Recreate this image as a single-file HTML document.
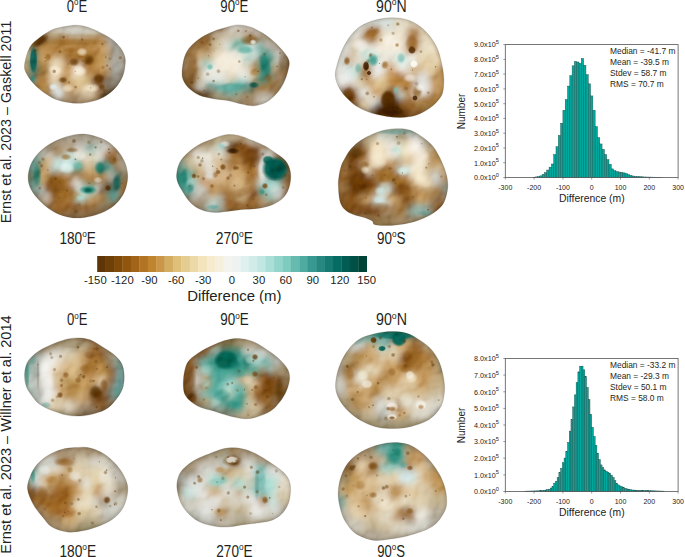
<!DOCTYPE html><html><head><meta charset="utf-8"><style>html,body{margin:0;padding:0;background:#fff;}svg{display:block}</style></head><body>
<svg width="685" height="557" viewBox="0 0 685 557">
<defs><filter id="b1" x="-50%" y="-50%" width="200%" height="200%"><feGaussianBlur stdDeviation="0.8"/></filter><filter id="b2" x="-50%" y="-50%" width="200%" height="200%"><feGaussianBlur stdDeviation="1.6"/></filter><filter id="b3" x="-50%" y="-50%" width="200%" height="200%"><feGaussianBlur stdDeviation="2.4"/></filter><filter id="b4" x="-50%" y="-50%" width="200%" height="200%"><feGaussianBlur stdDeviation="3.2"/></filter><filter id="b5" x="-50%" y="-50%" width="200%" height="200%"><feGaussianBlur stdDeviation="4.0"/></filter><filter id="b6" x="-50%" y="-50%" width="200%" height="200%"><feGaussianBlur stdDeviation="4.8"/></filter><filter id="b7" x="-50%" y="-50%" width="200%" height="200%"><feGaussianBlur stdDeviation="5.6"/></filter><filter id="b8" x="-50%" y="-50%" width="200%" height="200%"><feGaussianBlur stdDeviation="6.4"/></filter><filter id="bump" x="0" y="0" width="100%" height="100%" filterUnits="objectBoundingBox" color-interpolation-filters="sRGB"><feTurbulence type="fractalNoise" baseFrequency="0.08" numOctaves="2" seed="5" result="n"/><feDiffuseLighting in="n" surfaceScale="3" diffuseConstant="1.1" lighting-color="#8c8c8c"><feDistantLight azimuth="225" elevation="55"/></feDiffuseLighting></filter><filter id="nzD" x="0" y="0" width="100%" height="100%" filterUnits="objectBoundingBox"><feTurbulence type="fractalNoise" baseFrequency="0.2" numOctaves="1" seed="7"/><feColorMatrix type="matrix" values="0 0 0 0 0.50  0 0 0 0 0.32  0 0 0 0 0.10  7 0 0 0 -4.0"/></filter><filter id="nzL" x="0" y="0" width="100%" height="100%" filterUnits="objectBoundingBox"><feTurbulence type="fractalNoise" baseFrequency="0.1" numOctaves="3" seed="23"/><feColorMatrix type="matrix" values="0 0 0 0 0.97  0 0 0 0 0.95  0 0 0 0 0.90  4 0 0 0 -2.0"/></filter><filter id="enh" color-interpolation-filters="sRGB"><feColorMatrix type="saturate" values="0.95"/><feComponentTransfer><feFuncR type="linear" slope="1.12" intercept="-0.072"/><feFuncG type="linear" slope="1.12" intercept="-0.072"/><feFuncB type="linear" slope="1.12" intercept="-0.072"/></feComponentTransfer></filter><clipPath id="c0"><path d="M24.5,65.2 C24.9,60.6 27.2,52.1 29.7,47.5 C32.2,42.9 35.6,40.8 39.4,37.8 C43.2,34.8 48.0,31.6 52.3,29.7 C56.6,27.8 61.2,27.2 65.2,26.5 C69.2,25.8 72.7,25.1 76.5,25.2 C80.3,25.3 83.9,26.0 87.9,27.3 C92.0,28.6 96.8,30.9 100.8,32.9 C104.8,34.9 108.9,37.0 112.1,39.4 C115.3,41.8 118.0,44.5 120.2,47.5 C122.4,50.5 124.2,53.7 125.0,57.2 C125.8,60.7 125.2,65.0 124.7,68.5 C124.2,72.0 123.4,75.0 121.8,78.2 C120.2,81.4 118.0,85.0 115.3,87.9 C112.6,90.9 109.1,93.8 105.6,95.9 C102.1,98.1 98.3,99.6 94.3,100.8 C90.3,102.0 85.7,102.9 81.4,103.2 C77.1,103.5 72.8,103.1 68.5,102.4 C64.2,101.7 59.5,100.8 55.5,99.2 C51.5,97.6 47.7,95.1 44.2,92.7 C40.7,90.3 37.3,87.6 34.5,84.6 C31.7,81.6 29.0,78.1 27.3,74.9 C25.6,71.7 24.1,69.8 24.5,65.2Z"/></clipPath><filter id="gb0" x="-20%" y="-20%" width="140%" height="140%"><feTurbulence type="fractalNoise" baseFrequency="0.060" numOctaves="1" seed="3" result="t"/><feDisplacementMap in="SourceGraphic" in2="t" scale="18.0" xChannelSelector="R" yChannelSelector="G" result="d"/><feGaussianBlur in="d" stdDeviation="3.6"/></filter><radialGradient id="g0"><stop offset="0" stop-color="#16685e" stop-opacity="1"/><stop offset="0.65" stop-color="#16685e" stop-opacity="0.95"/><stop offset="1" stop-color="#16685e" stop-opacity="0"/></radialGradient><radialGradient id="g1"><stop offset="0" stop-color="#3a9a8c" stop-opacity="1"/><stop offset="0.45" stop-color="#3a9a8c" stop-opacity="0.85"/><stop offset="1" stop-color="#3a9a8c" stop-opacity="0"/></radialGradient><radialGradient id="g2"><stop offset="0" stop-color="#5a3810" stop-opacity="1"/><stop offset="0.45" stop-color="#5a3810" stop-opacity="0.85"/><stop offset="1" stop-color="#5a3810" stop-opacity="0"/></radialGradient><radialGradient id="g3"><stop offset="0" stop-color="#9a6a28" stop-opacity="1"/><stop offset="0.45" stop-color="#9a6a28" stop-opacity="0.85"/><stop offset="1" stop-color="#9a6a28" stop-opacity="0"/></radialGradient><radialGradient id="g4"><stop offset="0" stop-color="#6e4512" stop-opacity="1"/><stop offset="0.45" stop-color="#6e4512" stop-opacity="0.85"/><stop offset="1" stop-color="#6e4512" stop-opacity="0"/></radialGradient><radialGradient id="g5"><stop offset="0" stop-color="#f2e8d4" stop-opacity="1"/><stop offset="0.45" stop-color="#f2e8d4" stop-opacity="0.85"/><stop offset="1" stop-color="#f2e8d4" stop-opacity="0"/></radialGradient><radialGradient id="g6"><stop offset="0" stop-color="#dce8ea" stop-opacity="1"/><stop offset="0.45" stop-color="#dce8ea" stop-opacity="0.85"/><stop offset="1" stop-color="#dce8ea" stop-opacity="0"/></radialGradient><radialGradient id="g7"><stop offset="0" stop-color="#a8a8a0" stop-opacity="1"/><stop offset="0.45" stop-color="#a8a8a0" stop-opacity="0.85"/><stop offset="1" stop-color="#a8a8a0" stop-opacity="0"/></radialGradient><radialGradient id="g8"><stop offset="0" stop-color="#d0d0c8" stop-opacity="1"/><stop offset="0.45" stop-color="#d0d0c8" stop-opacity="0.85"/><stop offset="1" stop-color="#d0d0c8" stop-opacity="0"/></radialGradient><radialGradient id="g9"><stop offset="0" stop-color="#5a4a30" stop-opacity="1"/><stop offset="0.45" stop-color="#5a4a30" stop-opacity="0.85"/><stop offset="1" stop-color="#5a4a30" stop-opacity="0"/></radialGradient><radialGradient id="g10"><stop offset="0" stop-color="#6a4414" stop-opacity="1"/><stop offset="0.45" stop-color="#6a4414" stop-opacity="0.85"/><stop offset="1" stop-color="#6a4414" stop-opacity="0"/></radialGradient><clipPath id="c1"><path d="M182.0,72.6 C182.1,68.5 183.1,61.2 184.6,56.8 C186.1,52.4 188.0,49.5 190.8,46.3 C193.6,43.1 197.5,40.0 201.3,37.5 C205.1,35.0 209.1,33.1 213.5,31.4 C217.9,29.6 223.5,28.1 227.6,27.0 C231.7,25.9 234.2,24.9 238.0,24.9 C241.8,24.9 246.2,25.6 250.3,27.0 C254.4,28.4 258.8,30.8 262.6,33.1 C266.4,35.4 269.9,38.2 273.1,41.0 C276.3,43.8 279.3,46.6 281.9,49.8 C284.5,53.0 287.9,56.8 288.9,60.3 C289.9,63.8 288.9,67.0 288.0,70.8 C287.1,74.6 285.5,79.3 283.6,83.1 C281.7,86.9 279.5,90.4 276.6,93.6 C273.7,96.8 269.9,100.3 266.1,102.3 C262.3,104.3 257.9,105.5 253.8,105.8 C249.7,106.1 246.0,105.0 241.6,104.1 C237.2,103.2 232.3,101.5 227.6,100.6 C222.9,99.7 218.2,99.7 213.5,98.8 C208.8,97.9 203.6,97.0 199.5,95.3 C195.4,93.5 191.6,90.6 189.0,88.3 C186.4,86.0 185.0,83.9 183.8,81.3 C182.6,78.7 181.9,76.7 182.0,72.6Z"/></clipPath><filter id="gb1" x="-20%" y="-20%" width="140%" height="140%"><feTurbulence type="fractalNoise" baseFrequency="0.060" numOctaves="1" seed="10" result="t"/><feDisplacementMap in="SourceGraphic" in2="t" scale="18.0" xChannelSelector="R" yChannelSelector="G" result="d"/><feGaussianBlur in="d" stdDeviation="3.6"/></filter><radialGradient id="g11"><stop offset="0" stop-color="#8a6030" stop-opacity="1"/><stop offset="0.45" stop-color="#8a6030" stop-opacity="0.85"/><stop offset="1" stop-color="#8a6030" stop-opacity="0"/></radialGradient><radialGradient id="g12"><stop offset="0" stop-color="#8a5a20" stop-opacity="1"/><stop offset="0.45" stop-color="#8a5a20" stop-opacity="0.85"/><stop offset="1" stop-color="#8a5a20" stop-opacity="0"/></radialGradient><radialGradient id="g13"><stop offset="0" stop-color="#f0f0ea" stop-opacity="1"/><stop offset="0.45" stop-color="#f0f0ea" stop-opacity="0.85"/><stop offset="1" stop-color="#f0f0ea" stop-opacity="0"/></radialGradient><radialGradient id="g14"><stop offset="0" stop-color="#6a4820" stop-opacity="1"/><stop offset="0.45" stop-color="#6a4820" stop-opacity="0.85"/><stop offset="1" stop-color="#6a4820" stop-opacity="0"/></radialGradient><radialGradient id="g15"><stop offset="0" stop-color="#8a6838" stop-opacity="1"/><stop offset="0.45" stop-color="#8a6838" stop-opacity="0.85"/><stop offset="1" stop-color="#8a6838" stop-opacity="0"/></radialGradient><radialGradient id="g16"><stop offset="0" stop-color="#8a7050" stop-opacity="1"/><stop offset="0.45" stop-color="#8a7050" stop-opacity="0.85"/><stop offset="1" stop-color="#8a7050" stop-opacity="0"/></radialGradient><radialGradient id="g17"><stop offset="0" stop-color="#eee6d6" stop-opacity="1"/><stop offset="0.45" stop-color="#eee6d6" stop-opacity="0.85"/><stop offset="1" stop-color="#eee6d6" stop-opacity="0"/></radialGradient><radialGradient id="g18"><stop offset="0" stop-color="#e8e8e2" stop-opacity="1"/><stop offset="0.45" stop-color="#e8e8e2" stop-opacity="0.85"/><stop offset="1" stop-color="#e8e8e2" stop-opacity="0"/></radialGradient><radialGradient id="g19"><stop offset="0" stop-color="#1e7e70" stop-opacity="1"/><stop offset="0.45" stop-color="#1e7e70" stop-opacity="0.85"/><stop offset="1" stop-color="#1e7e70" stop-opacity="0"/></radialGradient><radialGradient id="g20"><stop offset="0" stop-color="#5ab0a2" stop-opacity="1"/><stop offset="0.45" stop-color="#5ab0a2" stop-opacity="0.85"/><stop offset="1" stop-color="#5ab0a2" stop-opacity="0"/></radialGradient><radialGradient id="g21"><stop offset="0" stop-color="#0e5e54" stop-opacity="1"/><stop offset="0.45" stop-color="#0e5e54" stop-opacity="0.85"/><stop offset="1" stop-color="#0e5e54" stop-opacity="0"/></radialGradient><radialGradient id="g22"><stop offset="0" stop-color="#5aaca0" stop-opacity="1"/><stop offset="0.45" stop-color="#5aaca0" stop-opacity="0.85"/><stop offset="1" stop-color="#5aaca0" stop-opacity="0"/></radialGradient><radialGradient id="g23"><stop offset="0" stop-color="#6ab8ac" stop-opacity="1"/><stop offset="0.45" stop-color="#6ab8ac" stop-opacity="0.85"/><stop offset="1" stop-color="#6ab8ac" stop-opacity="0"/></radialGradient><radialGradient id="g24"><stop offset="0" stop-color="#a87838" stop-opacity="1"/><stop offset="0.45" stop-color="#a87838" stop-opacity="0.85"/><stop offset="1" stop-color="#a87838" stop-opacity="0"/></radialGradient><clipPath id="c2"><path d="M335.3,76.1 C334.9,72.0 336.2,68.2 337.4,63.7 C338.6,59.2 340.5,53.7 342.6,49.2 C344.7,44.7 346.9,40.6 349.8,36.8 C352.7,33.0 356.0,29.2 360.1,26.5 C364.2,23.8 369.4,21.8 374.6,20.3 C379.8,18.9 385.6,17.9 391.1,17.8 C396.6,17.7 402.8,18.4 407.6,19.9 C412.4,21.3 416.2,23.7 420.0,26.5 C423.8,29.3 427.4,33.0 430.3,36.8 C433.2,40.6 435.7,44.7 437.6,49.2 C439.5,53.7 440.7,58.9 441.7,63.7 C442.7,68.5 443.6,73.4 443.8,78.2 C444.0,83.0 443.7,88.8 442.7,92.6 C441.7,96.4 440.0,98.2 437.6,100.9 C435.2,103.7 431.9,106.7 428.3,109.1 C424.7,111.5 420.4,113.9 415.9,115.3 C411.4,116.7 406.2,117.2 401.4,117.4 C396.6,117.6 391.8,117.1 387.0,116.4 C382.2,115.7 377.3,114.8 372.5,113.3 C367.7,111.8 362.1,109.5 358.0,107.1 C353.9,104.7 350.8,101.9 347.7,98.8 C344.6,95.7 341.6,92.3 339.5,88.5 C337.4,84.7 335.7,80.2 335.3,76.1Z"/></clipPath><filter id="gb2" x="-20%" y="-20%" width="140%" height="140%"><feTurbulence type="fractalNoise" baseFrequency="0.060" numOctaves="1" seed="17" result="t"/><feDisplacementMap in="SourceGraphic" in2="t" scale="18.0" xChannelSelector="R" yChannelSelector="G" result="d"/><feGaussianBlur in="d" stdDeviation="3.6"/></filter><radialGradient id="g25"><stop offset="0" stop-color="#9a6a30" stop-opacity="1"/><stop offset="0.45" stop-color="#9a6a30" stop-opacity="0.85"/><stop offset="1" stop-color="#9a6a30" stop-opacity="0"/></radialGradient><radialGradient id="g26"><stop offset="0" stop-color="#5a3410" stop-opacity="1"/><stop offset="0.65" stop-color="#5a3410" stop-opacity="0.95"/><stop offset="1" stop-color="#5a3410" stop-opacity="0"/></radialGradient><radialGradient id="g27"><stop offset="0" stop-color="#4a2808" stop-opacity="1"/><stop offset="0.65" stop-color="#4a2808" stop-opacity="0.95"/><stop offset="1" stop-color="#4a2808" stop-opacity="0"/></radialGradient><radialGradient id="g28"><stop offset="0" stop-color="#a07030" stop-opacity="1"/><stop offset="0.45" stop-color="#a07030" stop-opacity="0.85"/><stop offset="1" stop-color="#a07030" stop-opacity="0"/></radialGradient><radialGradient id="g29"><stop offset="0" stop-color="#f6f4ee" stop-opacity="1"/><stop offset="0.65" stop-color="#f6f4ee" stop-opacity="0.95"/><stop offset="1" stop-color="#f6f4ee" stop-opacity="0"/></radialGradient><radialGradient id="g30"><stop offset="0" stop-color="#a07838" stop-opacity="1"/><stop offset="0.45" stop-color="#a07838" stop-opacity="0.85"/><stop offset="1" stop-color="#a07838" stop-opacity="0"/></radialGradient><radialGradient id="g31"><stop offset="0" stop-color="#6a4010" stop-opacity="1"/><stop offset="0.45" stop-color="#6a4010" stop-opacity="0.85"/><stop offset="1" stop-color="#6a4010" stop-opacity="0"/></radialGradient><radialGradient id="g32"><stop offset="0" stop-color="#5a3408" stop-opacity="1"/><stop offset="0.65" stop-color="#5a3408" stop-opacity="0.95"/><stop offset="1" stop-color="#5a3408" stop-opacity="0"/></radialGradient><radialGradient id="g33"><stop offset="0" stop-color="#4a2a06" stop-opacity="1"/><stop offset="0.65" stop-color="#4a2a06" stop-opacity="0.95"/><stop offset="1" stop-color="#4a2a06" stop-opacity="0"/></radialGradient><radialGradient id="g34"><stop offset="0" stop-color="#e8ecea" stop-opacity="1"/><stop offset="0.45" stop-color="#e8ecea" stop-opacity="0.85"/><stop offset="1" stop-color="#e8ecea" stop-opacity="0"/></radialGradient><radialGradient id="g35"><stop offset="0" stop-color="#6ab0a4" stop-opacity="1"/><stop offset="0.45" stop-color="#6ab0a4" stop-opacity="0.85"/><stop offset="1" stop-color="#6ab0a4" stop-opacity="0"/></radialGradient><radialGradient id="g36"><stop offset="0" stop-color="#70b8ac" stop-opacity="1"/><stop offset="0.45" stop-color="#70b8ac" stop-opacity="0.85"/><stop offset="1" stop-color="#70b8ac" stop-opacity="0"/></radialGradient><radialGradient id="g37"><stop offset="0" stop-color="#7ab8b0" stop-opacity="1"/><stop offset="0.45" stop-color="#7ab8b0" stop-opacity="0.85"/><stop offset="1" stop-color="#7ab8b0" stop-opacity="0"/></radialGradient><radialGradient id="g38"><stop offset="0" stop-color="#eceae4" stop-opacity="1"/><stop offset="0.45" stop-color="#eceae4" stop-opacity="0.85"/><stop offset="1" stop-color="#eceae4" stop-opacity="0"/></radialGradient><radialGradient id="g39"><stop offset="0" stop-color="#f0ece2" stop-opacity="1"/><stop offset="0.45" stop-color="#f0ece2" stop-opacity="0.85"/><stop offset="1" stop-color="#f0ece2" stop-opacity="0"/></radialGradient><radialGradient id="g40"><stop offset="0" stop-color="#e4e6e2" stop-opacity="1"/><stop offset="0.45" stop-color="#e4e6e2" stop-opacity="0.85"/><stop offset="1" stop-color="#e4e6e2" stop-opacity="0"/></radialGradient><radialGradient id="g41"><stop offset="0" stop-color="#f0eee8" stop-opacity="1"/><stop offset="0.45" stop-color="#f0eee8" stop-opacity="0.85"/><stop offset="1" stop-color="#f0eee8" stop-opacity="0"/></radialGradient><clipPath id="c3"><path d="M28.1,177.0 C28.2,173.3 29.2,168.4 30.8,164.5 C32.4,160.6 34.9,157.0 37.9,153.7 C40.9,150.4 44.8,147.2 48.7,144.7 C52.6,142.2 57.1,140.1 61.3,138.5 C65.5,136.9 69.6,135.6 73.8,134.9 C78.0,134.2 82.2,133.9 86.4,134.3 C90.6,134.8 95.1,136.2 99.0,137.6 C102.9,139.0 106.4,140.5 109.7,142.9 C113.0,145.3 116.2,148.6 118.7,151.9 C121.2,155.2 123.5,158.8 125.0,162.7 C126.5,166.6 127.5,171.0 127.7,175.2 C127.9,179.4 127.1,183.9 125.9,187.8 C124.7,191.7 122.9,195.3 120.5,198.6 C118.1,201.9 115.1,205.0 111.5,207.5 C107.9,210.0 103.5,212.2 99.0,213.8 C94.5,215.5 89.4,216.8 84.6,217.4 C79.8,218.0 75.0,218.2 70.2,217.4 C65.4,216.7 60.1,214.9 55.9,212.9 C51.7,210.9 48.4,208.4 45.1,205.7 C41.8,203.0 38.6,199.9 36.1,196.8 C33.6,193.7 31.2,190.2 29.9,186.9 C28.6,183.6 28.0,180.7 28.1,177.0Z"/></clipPath><filter id="gb3" x="-20%" y="-20%" width="140%" height="140%"><feTurbulence type="fractalNoise" baseFrequency="0.060" numOctaves="1" seed="24" result="t"/><feDisplacementMap in="SourceGraphic" in2="t" scale="18.0" xChannelSelector="R" yChannelSelector="G" result="d"/><feGaussianBlur in="d" stdDeviation="3.6"/></filter><radialGradient id="g42"><stop offset="0" stop-color="#2a8070" stop-opacity="1"/><stop offset="0.45" stop-color="#2a8070" stop-opacity="0.85"/><stop offset="1" stop-color="#2a8070" stop-opacity="0"/></radialGradient><radialGradient id="g43"><stop offset="0" stop-color="#6a9890" stop-opacity="1"/><stop offset="0.45" stop-color="#6a9890" stop-opacity="0.85"/><stop offset="1" stop-color="#6a9890" stop-opacity="0"/></radialGradient><radialGradient id="g44"><stop offset="0" stop-color="#d8ecea" stop-opacity="1"/><stop offset="0.45" stop-color="#d8ecea" stop-opacity="0.85"/><stop offset="1" stop-color="#d8ecea" stop-opacity="0"/></radialGradient><radialGradient id="g45"><stop offset="0" stop-color="#1e8474" stop-opacity="1"/><stop offset="0.45" stop-color="#1e8474" stop-opacity="0.85"/><stop offset="1" stop-color="#1e8474" stop-opacity="0"/></radialGradient><radialGradient id="g46"><stop offset="0" stop-color="#0a5a4e" stop-opacity="1"/><stop offset="0.45" stop-color="#0a5a4e" stop-opacity="0.85"/><stop offset="1" stop-color="#0a5a4e" stop-opacity="0"/></radialGradient><radialGradient id="g47"><stop offset="0" stop-color="#1a6a60" stop-opacity="1"/><stop offset="0.45" stop-color="#1a6a60" stop-opacity="0.85"/><stop offset="1" stop-color="#1a6a60" stop-opacity="0"/></radialGradient><radialGradient id="g48"><stop offset="0" stop-color="#5a3408" stop-opacity="1"/><stop offset="0.45" stop-color="#5a3408" stop-opacity="0.85"/><stop offset="1" stop-color="#5a3408" stop-opacity="0"/></radialGradient><radialGradient id="g49"><stop offset="0" stop-color="#e6e2d6" stop-opacity="1"/><stop offset="0.45" stop-color="#e6e2d6" stop-opacity="0.85"/><stop offset="1" stop-color="#e6e2d6" stop-opacity="0"/></radialGradient><radialGradient id="g50"><stop offset="0" stop-color="#e0e0d8" stop-opacity="1"/><stop offset="0.45" stop-color="#e0e0d8" stop-opacity="0.85"/><stop offset="1" stop-color="#e0e0d8" stop-opacity="0"/></radialGradient><radialGradient id="g51"><stop offset="0" stop-color="#b0d8d0" stop-opacity="1"/><stop offset="0.45" stop-color="#b0d8d0" stop-opacity="0.85"/><stop offset="1" stop-color="#b0d8d0" stop-opacity="0"/></radialGradient><clipPath id="c4"><path d="M176.6,174.3 C176.9,171.2 177.8,166.5 179.5,163.0 C181.2,159.5 183.9,156.5 187.1,153.5 C190.3,150.5 194.4,147.3 198.5,144.9 C202.6,142.5 207.4,140.9 211.8,139.2 C216.2,137.5 220.6,135.5 225.0,134.9 C229.4,134.3 233.9,134.5 238.3,135.4 C242.7,136.3 247.2,138.4 251.6,140.2 C256.0,141.9 260.8,143.7 264.9,145.9 C269.0,148.1 272.8,151.0 276.3,153.5 C279.8,156.0 283.4,157.9 285.8,161.1 C288.2,164.2 289.9,168.3 290.5,172.4 C291.1,176.5 290.7,181.6 289.6,185.7 C288.5,189.8 286.8,193.9 283.9,197.1 C281.0,200.3 276.9,202.8 272.5,204.7 C268.1,206.6 262.4,207.7 257.3,208.5 C252.2,209.3 247.2,209.0 242.1,209.5 C237.0,210.0 231.9,210.9 226.9,211.4 C221.9,211.9 216.5,212.8 211.8,212.3 C207.1,211.8 202.3,210.4 198.5,208.5 C194.7,206.6 191.8,204.1 189.0,200.9 C186.2,197.7 183.3,192.7 181.4,189.5 C179.5,186.3 178.4,184.4 177.6,181.9 C176.8,179.4 176.3,177.5 176.6,174.3Z"/></clipPath><filter id="gb4" x="-20%" y="-20%" width="140%" height="140%"><feTurbulence type="fractalNoise" baseFrequency="0.060" numOctaves="1" seed="31" result="t"/><feDisplacementMap in="SourceGraphic" in2="t" scale="18.0" xChannelSelector="R" yChannelSelector="G" result="d"/><feGaussianBlur in="d" stdDeviation="3.6"/></filter><radialGradient id="g52"><stop offset="0" stop-color="#3a2008" stop-opacity="1"/><stop offset="0.45" stop-color="#3a2008" stop-opacity="0.85"/><stop offset="1" stop-color="#3a2008" stop-opacity="0"/></radialGradient><radialGradient id="g53"><stop offset="0" stop-color="#e8ece8" stop-opacity="1"/><stop offset="0.45" stop-color="#e8ece8" stop-opacity="0.85"/><stop offset="1" stop-color="#e8ece8" stop-opacity="0"/></radialGradient><radialGradient id="g54"><stop offset="0" stop-color="#8cc8c0" stop-opacity="1"/><stop offset="0.45" stop-color="#8cc8c0" stop-opacity="0.85"/><stop offset="1" stop-color="#8cc8c0" stop-opacity="0"/></radialGradient><radialGradient id="g55"><stop offset="0" stop-color="#7a4a18" stop-opacity="1"/><stop offset="0.45" stop-color="#7a4a18" stop-opacity="0.85"/><stop offset="1" stop-color="#7a4a18" stop-opacity="0"/></radialGradient><radialGradient id="g56"><stop offset="0" stop-color="#8a5820" stop-opacity="1"/><stop offset="0.45" stop-color="#8a5820" stop-opacity="0.85"/><stop offset="1" stop-color="#8a5820" stop-opacity="0"/></radialGradient><radialGradient id="g57"><stop offset="0" stop-color="#0a6458" stop-opacity="1"/><stop offset="0.65" stop-color="#0a6458" stop-opacity="0.95"/><stop offset="1" stop-color="#0a6458" stop-opacity="0"/></radialGradient><radialGradient id="g58"><stop offset="0" stop-color="#055a4e" stop-opacity="1"/><stop offset="0.45" stop-color="#055a4e" stop-opacity="0.85"/><stop offset="1" stop-color="#055a4e" stop-opacity="0"/></radialGradient><radialGradient id="g59"><stop offset="0" stop-color="#a8d0c8" stop-opacity="1"/><stop offset="0.45" stop-color="#a8d0c8" stop-opacity="0.85"/><stop offset="1" stop-color="#a8d0c8" stop-opacity="0"/></radialGradient><radialGradient id="g60"><stop offset="0" stop-color="#7a4a14" stop-opacity="1"/><stop offset="0.45" stop-color="#7a4a14" stop-opacity="0.85"/><stop offset="1" stop-color="#7a4a14" stop-opacity="0"/></radialGradient><radialGradient id="g61"><stop offset="0" stop-color="#3a9888" stop-opacity="1"/><stop offset="0.45" stop-color="#3a9888" stop-opacity="0.85"/><stop offset="1" stop-color="#3a9888" stop-opacity="0"/></radialGradient><radialGradient id="g62"><stop offset="0" stop-color="#2a8878" stop-opacity="1"/><stop offset="0.45" stop-color="#2a8878" stop-opacity="0.85"/><stop offset="1" stop-color="#2a8878" stop-opacity="0"/></radialGradient><radialGradient id="g63"><stop offset="0" stop-color="#60a8a0" stop-opacity="1"/><stop offset="0.45" stop-color="#60a8a0" stop-opacity="0.85"/><stop offset="1" stop-color="#60a8a0" stop-opacity="0"/></radialGradient><radialGradient id="g64"><stop offset="0" stop-color="#e4e0d4" stop-opacity="1"/><stop offset="0.45" stop-color="#e4e0d4" stop-opacity="0.85"/><stop offset="1" stop-color="#e4e0d4" stop-opacity="0"/></radialGradient><radialGradient id="g65"><stop offset="0" stop-color="#dcdcd6" stop-opacity="1"/><stop offset="0.45" stop-color="#dcdcd6" stop-opacity="0.85"/><stop offset="1" stop-color="#dcdcd6" stop-opacity="0"/></radialGradient><clipPath id="c5"><path d="M338.3,186.1 C338.1,181.9 338.5,179.4 339.0,176.0 C339.5,172.6 340.1,169.0 341.2,165.9 C342.3,162.8 343.8,160.2 345.5,157.3 C347.2,154.4 348.7,151.5 351.3,148.6 C353.9,145.7 356.6,142.9 361.3,140.0 C366.0,137.1 373.8,133.3 379.6,131.4 C385.4,129.5 391.0,128.9 396.1,128.7 C401.2,128.5 406.0,128.8 410.5,130.3 C415.0,131.8 419.1,134.8 422.9,137.6 C426.7,140.3 430.2,142.9 433.3,146.8 C436.4,150.8 439.3,156.5 441.5,161.3 C443.7,166.1 445.7,171.3 446.7,175.8 C447.7,180.3 448.1,183.9 447.7,188.2 C447.3,192.5 446.0,197.8 444.4,201.4 C442.8,205.0 440.7,207.1 438.0,209.5 C435.3,211.9 431.8,214.0 428.3,215.9 C424.8,217.8 421.1,219.4 417.1,220.7 C413.1,222.0 409.0,223.1 404.2,223.9 C399.4,224.7 393.1,225.3 388.2,225.5 C383.3,225.7 377.7,225.6 375.0,224.8 C372.3,224.0 373.9,222.1 372.1,220.9 C370.3,219.7 367.3,218.6 364.1,217.5 C360.9,216.4 356.0,215.6 352.8,214.3 C349.6,213.0 346.9,211.7 344.8,209.5 C342.7,207.3 341.1,205.3 340.0,201.4 C338.9,197.5 338.5,190.3 338.3,186.1Z"/></clipPath><filter id="gb5" x="-20%" y="-20%" width="140%" height="140%"><feTurbulence type="fractalNoise" baseFrequency="0.060" numOctaves="1" seed="38" result="t"/><feDisplacementMap in="SourceGraphic" in2="t" scale="18.0" xChannelSelector="R" yChannelSelector="G" result="d"/><feGaussianBlur in="d" stdDeviation="3.6"/></filter><radialGradient id="g66"><stop offset="0" stop-color="#6a4818" stop-opacity="1"/><stop offset="0.45" stop-color="#6a4818" stop-opacity="0.85"/><stop offset="1" stop-color="#6a4818" stop-opacity="0"/></radialGradient><radialGradient id="g67"><stop offset="0" stop-color="#ece2cc" stop-opacity="1"/><stop offset="0.45" stop-color="#ece2cc" stop-opacity="0.85"/><stop offset="1" stop-color="#ece2cc" stop-opacity="0"/></radialGradient><radialGradient id="g68"><stop offset="0" stop-color="#ece4d0" stop-opacity="1"/><stop offset="0.45" stop-color="#ece4d0" stop-opacity="0.85"/><stop offset="1" stop-color="#ece4d0" stop-opacity="0"/></radialGradient><radialGradient id="g69"><stop offset="0" stop-color="#ece4d4" stop-opacity="1"/><stop offset="0.45" stop-color="#ece4d4" stop-opacity="0.85"/><stop offset="1" stop-color="#ece4d4" stop-opacity="0"/></radialGradient><radialGradient id="g70"><stop offset="0" stop-color="#cce4e0" stop-opacity="1"/><stop offset="0.45" stop-color="#cce4e0" stop-opacity="0.85"/><stop offset="1" stop-color="#cce4e0" stop-opacity="0"/></radialGradient><radialGradient id="g71"><stop offset="0" stop-color="#c8e0dc" stop-opacity="1"/><stop offset="0.45" stop-color="#c8e0dc" stop-opacity="0.85"/><stop offset="1" stop-color="#c8e0dc" stop-opacity="0"/></radialGradient><radialGradient id="g72"><stop offset="0" stop-color="#c8e0e0" stop-opacity="1"/><stop offset="0.45" stop-color="#c8e0e0" stop-opacity="0.85"/><stop offset="1" stop-color="#c8e0e0" stop-opacity="0"/></radialGradient><radialGradient id="g73"><stop offset="0" stop-color="#b8dcd4" stop-opacity="1"/><stop offset="0.45" stop-color="#b8dcd4" stop-opacity="0.85"/><stop offset="1" stop-color="#b8dcd4" stop-opacity="0"/></radialGradient><radialGradient id="g74"><stop offset="0" stop-color="#5a9890" stop-opacity="1"/><stop offset="0.45" stop-color="#5a9890" stop-opacity="0.85"/><stop offset="1" stop-color="#5a9890" stop-opacity="0"/></radialGradient><clipPath id="c6"><path d="M24.5,375.6 C24.5,372.0 25.2,367.9 26.3,364.9 C27.4,361.9 28.6,360.1 30.8,357.7 C33.0,355.3 36.1,352.8 39.7,350.5 C43.3,348.2 48.1,346.0 52.3,344.2 C56.5,342.4 60.7,340.8 64.9,339.7 C69.1,338.6 73.2,337.9 77.4,337.9 C81.6,337.9 85.8,338.2 90.0,339.7 C94.2,341.2 98.6,344.5 102.5,346.9 C106.4,349.3 110.1,351.4 113.3,354.1 C116.5,356.8 119.6,359.8 121.4,363.1 C123.2,366.4 123.8,369.9 124.1,373.8 C124.4,377.7 124.2,382.5 123.2,386.4 C122.2,390.3 120.3,393.6 117.8,397.2 C115.2,400.8 111.6,405.2 107.9,407.9 C104.2,410.6 99.9,411.9 95.4,413.3 C90.9,414.7 85.8,415.7 81.0,416.0 C76.2,416.3 71.5,416.0 66.7,415.1 C61.9,414.2 56.8,412.4 52.3,410.6 C47.8,408.8 43.1,406.8 39.7,404.3 C36.3,401.8 33.9,398.4 31.7,395.4 C29.5,392.4 27.5,389.7 26.3,386.4 C25.1,383.1 24.5,379.2 24.5,375.6Z"/></clipPath><filter id="gb6" x="-20%" y="-20%" width="140%" height="140%"><feTurbulence type="fractalNoise" baseFrequency="0.060" numOctaves="1" seed="45" result="t"/><feDisplacementMap in="SourceGraphic" in2="t" scale="18.0" xChannelSelector="R" yChannelSelector="G" result="d"/><feGaussianBlur in="d" stdDeviation="3.6"/></filter><radialGradient id="g75"><stop offset="0" stop-color="#4a9488" stop-opacity="1"/><stop offset="0.45" stop-color="#4a9488" stop-opacity="0.85"/><stop offset="1" stop-color="#4a9488" stop-opacity="0"/></radialGradient><radialGradient id="g76"><stop offset="0" stop-color="#eceae6" stop-opacity="1"/><stop offset="0.45" stop-color="#eceae6" stop-opacity="0.85"/><stop offset="1" stop-color="#eceae6" stop-opacity="0"/></radialGradient><radialGradient id="g77"><stop offset="0" stop-color="#7a7a70" stop-opacity="1"/><stop offset="0.45" stop-color="#7a7a70" stop-opacity="0.85"/><stop offset="1" stop-color="#7a7a70" stop-opacity="0"/></radialGradient><radialGradient id="g78"><stop offset="0" stop-color="#6aa8a0" stop-opacity="1"/><stop offset="0.45" stop-color="#6aa8a0" stop-opacity="0.85"/><stop offset="1" stop-color="#6aa8a0" stop-opacity="0"/></radialGradient><radialGradient id="g79"><stop offset="0" stop-color="#a09070" stop-opacity="1"/><stop offset="0.45" stop-color="#a09070" stop-opacity="0.85"/><stop offset="1" stop-color="#a09070" stop-opacity="0"/></radialGradient><clipPath id="c7"><path d="M183.3,386.4 C183.1,382.8 183.4,377.2 184.2,373.1 C185.0,369.0 185.9,365.0 188.0,361.8 C190.1,358.6 193.3,356.6 196.6,354.2 C199.9,351.8 203.9,349.6 208.0,347.5 C212.1,345.4 216.8,343.3 221.2,341.8 C225.6,340.3 230.1,338.9 234.5,338.6 C238.9,338.3 243.7,338.9 247.8,339.9 C251.9,340.9 255.4,342.6 259.2,344.7 C263.0,346.8 267.1,349.8 270.6,352.3 C274.1,354.8 277.2,357.1 280.1,359.9 C283.0,362.7 286.1,366.1 287.7,369.3 C289.3,372.5 289.8,375.3 289.6,378.8 C289.4,382.3 288.3,386.4 286.7,390.2 C285.1,394.0 282.8,398.1 280.1,401.6 C277.4,405.1 274.4,408.6 270.6,411.1 C266.8,413.6 261.7,415.5 257.3,416.8 C252.9,418.1 248.8,418.9 244.0,418.7 C239.2,418.5 233.9,417.1 228.8,415.8 C223.8,414.5 218.4,412.5 213.7,411.1 C209.0,409.7 204.2,408.9 200.4,407.3 C196.6,405.7 193.4,403.7 190.9,401.6 C188.4,399.6 186.5,397.5 185.2,395.0 C183.9,392.5 183.5,390.0 183.3,386.4Z"/></clipPath><filter id="gb7" x="-20%" y="-20%" width="140%" height="140%"><feTurbulence type="fractalNoise" baseFrequency="0.060" numOctaves="1" seed="52" result="t"/><feDisplacementMap in="SourceGraphic" in2="t" scale="18.0" xChannelSelector="R" yChannelSelector="G" result="d"/><feGaussianBlur in="d" stdDeviation="3.6"/></filter><radialGradient id="g80"><stop offset="0" stop-color="#0a6a5a" stop-opacity="1"/><stop offset="0.65" stop-color="#0a6a5a" stop-opacity="0.95"/><stop offset="1" stop-color="#0a6a5a" stop-opacity="0"/></radialGradient><radialGradient id="g81"><stop offset="0" stop-color="#1a7a6a" stop-opacity="1"/><stop offset="0.45" stop-color="#1a7a6a" stop-opacity="0.85"/><stop offset="1" stop-color="#1a7a6a" stop-opacity="0"/></radialGradient><radialGradient id="g82"><stop offset="0" stop-color="#5aaa9e" stop-opacity="1"/><stop offset="0.45" stop-color="#5aaa9e" stop-opacity="0.85"/><stop offset="1" stop-color="#5aaa9e" stop-opacity="0"/></radialGradient><radialGradient id="g83"><stop offset="0" stop-color="#b0d4cc" stop-opacity="1"/><stop offset="0.45" stop-color="#b0d4cc" stop-opacity="0.85"/><stop offset="1" stop-color="#b0d4cc" stop-opacity="0"/></radialGradient><radialGradient id="g84"><stop offset="0" stop-color="#7a5020" stop-opacity="1"/><stop offset="0.45" stop-color="#7a5020" stop-opacity="0.85"/><stop offset="1" stop-color="#7a5020" stop-opacity="0"/></radialGradient><radialGradient id="g85"><stop offset="0" stop-color="#d8c8a8" stop-opacity="1"/><stop offset="0.45" stop-color="#d8c8a8" stop-opacity="0.85"/><stop offset="1" stop-color="#d8c8a8" stop-opacity="0"/></radialGradient><clipPath id="c8"><path d="M335.8,389.7 C335.1,385.0 335.8,379.7 336.9,374.7 C338.0,369.7 339.9,364.3 342.2,359.6 C344.5,354.9 347.7,350.2 350.9,346.6 C354.1,343.0 357.3,340.2 361.6,338.0 C365.9,335.8 371.7,334.4 376.7,333.3 C381.7,332.2 386.8,331.6 391.8,331.6 C396.8,331.6 402.2,331.9 406.9,333.3 C411.6,334.7 415.9,337.6 419.8,340.2 C423.8,342.8 427.6,345.6 430.6,348.8 C433.7,352.0 436.1,355.7 438.1,359.6 C440.1,363.6 441.4,367.8 442.5,372.5 C443.6,377.2 444.6,382.6 444.6,387.6 C444.6,392.6 443.9,398.4 442.5,402.7 C441.1,407.0 438.7,410.3 436.0,413.4 C433.3,416.4 430.4,418.8 426.3,421.0 C422.2,423.2 416.2,425.1 411.2,426.4 C406.2,427.6 401.5,428.3 396.1,428.5 C390.7,428.7 384.3,428.6 378.9,427.5 C373.5,426.4 368.5,424.5 363.8,422.1 C359.1,419.8 354.7,416.6 350.9,413.4 C347.1,410.2 343.7,406.6 341.2,402.7 C338.7,398.8 336.5,394.4 335.8,389.7Z"/></clipPath><filter id="gb8" x="-20%" y="-20%" width="140%" height="140%"><feTurbulence type="fractalNoise" baseFrequency="0.060" numOctaves="1" seed="59" result="t"/><feDisplacementMap in="SourceGraphic" in2="t" scale="18.0" xChannelSelector="R" yChannelSelector="G" result="d"/><feGaussianBlur in="d" stdDeviation="3.6"/></filter><radialGradient id="g86"><stop offset="0" stop-color="#1a7a6c" stop-opacity="1"/><stop offset="0.65" stop-color="#1a7a6c" stop-opacity="0.95"/><stop offset="1" stop-color="#1a7a6c" stop-opacity="0"/></radialGradient><radialGradient id="g87"><stop offset="0" stop-color="#0e6a5e" stop-opacity="1"/><stop offset="0.65" stop-color="#0e6a5e" stop-opacity="0.95"/><stop offset="1" stop-color="#0e6a5e" stop-opacity="0"/></radialGradient><radialGradient id="g88"><stop offset="0" stop-color="#6a4010" stop-opacity="1"/><stop offset="0.65" stop-color="#6a4010" stop-opacity="0.95"/><stop offset="1" stop-color="#6a4010" stop-opacity="0"/></radialGradient><radialGradient id="g89"><stop offset="0" stop-color="#8ab0a8" stop-opacity="1"/><stop offset="0.45" stop-color="#8ab0a8" stop-opacity="0.85"/><stop offset="1" stop-color="#8ab0a8" stop-opacity="0"/></radialGradient><radialGradient id="g90"><stop offset="0" stop-color="#ecead8" stop-opacity="1"/><stop offset="0.45" stop-color="#ecead8" stop-opacity="0.85"/><stop offset="1" stop-color="#ecead8" stop-opacity="0"/></radialGradient><radialGradient id="g91"><stop offset="0" stop-color="#eee4cc" stop-opacity="1"/><stop offset="0.45" stop-color="#eee4cc" stop-opacity="0.85"/><stop offset="1" stop-color="#eee4cc" stop-opacity="0"/></radialGradient><radialGradient id="g92"><stop offset="0" stop-color="#ece8dc" stop-opacity="1"/><stop offset="0.45" stop-color="#ece8dc" stop-opacity="0.85"/><stop offset="1" stop-color="#ece8dc" stop-opacity="0"/></radialGradient><radialGradient id="g93"><stop offset="0" stop-color="#e8e4dc" stop-opacity="1"/><stop offset="0.45" stop-color="#e8e4dc" stop-opacity="0.85"/><stop offset="1" stop-color="#e8e4dc" stop-opacity="0"/></radialGradient><radialGradient id="g94"><stop offset="0" stop-color="#e8e4d8" stop-opacity="1"/><stop offset="0.45" stop-color="#e8e4d8" stop-opacity="0.85"/><stop offset="1" stop-color="#e8e4d8" stop-opacity="0"/></radialGradient><radialGradient id="g95"><stop offset="0" stop-color="#f0ece4" stop-opacity="1"/><stop offset="0.65" stop-color="#f0ece4" stop-opacity="0.95"/><stop offset="1" stop-color="#f0ece4" stop-opacity="0"/></radialGradient><radialGradient id="g96"><stop offset="0" stop-color="#ecebe4" stop-opacity="1"/><stop offset="0.65" stop-color="#ecebe4" stop-opacity="0.95"/><stop offset="1" stop-color="#ecebe4" stop-opacity="0"/></radialGradient><radialGradient id="g97"><stop offset="0" stop-color="#eeeae2" stop-opacity="1"/><stop offset="0.65" stop-color="#eeeae2" stop-opacity="0.95"/><stop offset="1" stop-color="#eeeae2" stop-opacity="0"/></radialGradient><radialGradient id="g98"><stop offset="0" stop-color="#ece8dc" stop-opacity="1"/><stop offset="0.65" stop-color="#ece8dc" stop-opacity="0.95"/><stop offset="1" stop-color="#ece8dc" stop-opacity="0"/></radialGradient><clipPath id="c9"><path d="M27.5,489.1 C27.0,484.4 28.8,480.0 30.4,475.9 C32.0,471.8 34.0,468.1 37.0,464.6 C40.0,461.2 44.2,457.7 48.3,455.2 C52.4,452.7 57.1,450.8 61.5,449.5 C65.9,448.2 70.3,447.9 74.7,447.6 C79.1,447.3 83.5,446.8 87.9,447.6 C92.3,448.4 97.0,450.1 101.1,452.3 C105.2,454.5 109.0,457.5 112.4,460.8 C115.9,464.1 119.3,468.0 121.8,472.1 C124.3,476.2 126.7,480.9 127.5,485.3 C128.3,489.7 127.5,494.4 126.5,498.5 C125.5,502.6 124.1,506.3 121.8,509.8 C119.5,513.3 116.2,516.6 112.4,519.3 C108.6,522.0 103.9,524.1 99.2,526.0 C94.5,527.9 89.2,529.5 84.0,530.5 C78.8,531.5 73.0,532.6 67.7,532.0 C62.4,531.4 56.2,529.5 52.0,527.0 C47.8,524.5 45.7,520.8 42.6,517.0 C39.5,513.2 35.7,508.8 33.2,504.2 C30.7,499.6 28.0,493.8 27.5,489.1Z"/></clipPath><filter id="gb9" x="-20%" y="-20%" width="140%" height="140%"><feTurbulence type="fractalNoise" baseFrequency="0.060" numOctaves="1" seed="66" result="t"/><feDisplacementMap in="SourceGraphic" in2="t" scale="18.0" xChannelSelector="R" yChannelSelector="G" result="d"/><feGaussianBlur in="d" stdDeviation="3.6"/></filter><radialGradient id="g99"><stop offset="0" stop-color="#9a6424" stop-opacity="1"/><stop offset="0.45" stop-color="#9a6424" stop-opacity="0.85"/><stop offset="1" stop-color="#9a6424" stop-opacity="0"/></radialGradient><radialGradient id="g100"><stop offset="0" stop-color="#a87030" stop-opacity="1"/><stop offset="0.45" stop-color="#a87030" stop-opacity="0.85"/><stop offset="1" stop-color="#a87030" stop-opacity="0"/></radialGradient><radialGradient id="g101"><stop offset="0" stop-color="#3a9080" stop-opacity="1"/><stop offset="0.45" stop-color="#3a9080" stop-opacity="0.85"/><stop offset="1" stop-color="#3a9080" stop-opacity="0"/></radialGradient><radialGradient id="g102"><stop offset="0" stop-color="#e2e2dc" stop-opacity="1"/><stop offset="0.45" stop-color="#e2e2dc" stop-opacity="0.85"/><stop offset="1" stop-color="#e2e2dc" stop-opacity="0"/></radialGradient><radialGradient id="g103"><stop offset="0" stop-color="#e6e2d8" stop-opacity="1"/><stop offset="0.45" stop-color="#e6e2d8" stop-opacity="0.85"/><stop offset="1" stop-color="#e6e2d8" stop-opacity="0"/></radialGradient><radialGradient id="g104"><stop offset="0" stop-color="#a07840" stop-opacity="1"/><stop offset="0.45" stop-color="#a07840" stop-opacity="0.85"/><stop offset="1" stop-color="#a07840" stop-opacity="0"/></radialGradient><clipPath id="c10"><path d="M176.9,487.3 C176.6,482.7 177.6,478.7 178.9,475.4 C180.2,472.1 182.0,470.1 184.8,467.5 C187.6,464.9 191.6,461.9 195.7,459.6 C199.8,457.3 204.9,455.5 209.5,453.7 C214.1,451.9 219.0,449.8 223.3,448.8 C227.6,447.8 230.9,447.5 235.2,447.8 C239.5,448.1 244.4,449.1 249.0,450.7 C253.6,452.3 258.5,455.2 262.8,457.7 C267.1,460.2 271.1,463.0 274.7,465.6 C278.3,468.2 282.1,470.9 284.6,473.5 C287.1,476.1 288.5,478.4 289.5,481.4 C290.5,484.3 290.7,487.6 290.5,491.2 C290.3,494.8 289.8,499.5 288.5,503.1 C287.2,506.7 285.2,510.2 282.6,513.0 C280.0,515.8 276.6,518.3 272.7,519.9 C268.8,521.5 263.5,522.0 258.9,522.8 C254.3,523.5 250.0,523.7 245.1,524.4 C240.2,525.1 234.1,526.4 229.3,526.8 C224.6,527.1 221.2,527.2 216.6,526.5 C212.0,525.8 206.1,524.7 201.6,522.8 C197.1,520.9 193.2,518.2 189.8,514.9 C186.4,511.6 183.1,507.7 180.9,503.1 C178.8,498.5 177.2,491.9 176.9,487.3Z"/></clipPath><filter id="gb10" x="-20%" y="-20%" width="140%" height="140%"><feTurbulence type="fractalNoise" baseFrequency="0.060" numOctaves="1" seed="73" result="t"/><feDisplacementMap in="SourceGraphic" in2="t" scale="18.0" xChannelSelector="R" yChannelSelector="G" result="d"/><feGaussianBlur in="d" stdDeviation="3.6"/></filter><radialGradient id="g105"><stop offset="0" stop-color="#e4e4de" stop-opacity="1"/><stop offset="0.65" stop-color="#e4e4de" stop-opacity="0.95"/><stop offset="1" stop-color="#e4e4de" stop-opacity="0"/></radialGradient><radialGradient id="g106"><stop offset="0" stop-color="#7ac0b4" stop-opacity="1"/><stop offset="0.45" stop-color="#7ac0b4" stop-opacity="0.85"/><stop offset="1" stop-color="#7ac0b4" stop-opacity="0"/></radialGradient><radialGradient id="g107"><stop offset="0" stop-color="#8cc8be" stop-opacity="1"/><stop offset="0.45" stop-color="#8cc8be" stop-opacity="0.85"/><stop offset="1" stop-color="#8cc8be" stop-opacity="0"/></radialGradient><radialGradient id="g108"><stop offset="0" stop-color="#6ab0a6" stop-opacity="1"/><stop offset="0.45" stop-color="#6ab0a6" stop-opacity="0.85"/><stop offset="1" stop-color="#6ab0a6" stop-opacity="0"/></radialGradient><radialGradient id="g109"><stop offset="0" stop-color="#a8d8d0" stop-opacity="1"/><stop offset="0.45" stop-color="#a8d8d0" stop-opacity="0.85"/><stop offset="1" stop-color="#a8d8d0" stop-opacity="0"/></radialGradient><radialGradient id="g110"><stop offset="0" stop-color="#b08850" stop-opacity="1"/><stop offset="0.45" stop-color="#b08850" stop-opacity="0.85"/><stop offset="1" stop-color="#b08850" stop-opacity="0"/></radialGradient><clipPath id="c11"><path d="M338.3,497.3 C337.9,492.3 338.3,487.7 339.3,482.9 C340.3,478.1 342.3,472.5 344.5,468.4 C346.7,464.3 349.3,461.2 352.7,458.1 C356.1,455.0 360.6,452.1 365.1,449.8 C369.6,447.6 374.8,445.8 379.6,444.6 C384.4,443.4 389.2,442.6 394.0,442.6 C398.8,442.6 404.0,443.1 408.5,444.6 C413.0,446.2 417.1,449.0 420.9,451.9 C424.7,454.8 428.1,458.4 431.2,462.2 C434.3,466.0 437.2,470.5 439.5,474.6 C441.8,478.7 443.5,482.9 444.7,487.0 C445.9,491.1 446.6,495.6 446.7,499.4 C446.8,503.2 446.8,506.2 445.2,510.0 C443.6,513.8 440.4,518.9 437.4,522.1 C434.4,525.3 432.2,527.0 427.1,529.3 C422.0,531.6 413.2,534.4 407.0,536.0 C400.8,537.6 395.6,538.3 390.0,539.0 C384.4,539.7 378.8,541.1 373.2,540.2 C367.6,539.4 360.7,536.6 356.3,533.9 C351.9,531.2 349.5,527.5 347.0,524.0 C344.5,520.5 342.9,517.2 341.5,512.7 C340.1,508.3 338.7,502.3 338.3,497.3Z"/></clipPath><filter id="gb11" x="-20%" y="-20%" width="140%" height="140%"><feTurbulence type="fractalNoise" baseFrequency="0.060" numOctaves="1" seed="80" result="t"/><feDisplacementMap in="SourceGraphic" in2="t" scale="18.0" xChannelSelector="R" yChannelSelector="G" result="d"/><feGaussianBlur in="d" stdDeviation="3.6"/></filter><radialGradient id="g111"><stop offset="0" stop-color="#5aa8a0" stop-opacity="1"/><stop offset="0.45" stop-color="#5aa8a0" stop-opacity="0.85"/><stop offset="1" stop-color="#5aa8a0" stop-opacity="0"/></radialGradient><radialGradient id="g112"><stop offset="0" stop-color="#d0e0e0" stop-opacity="1"/><stop offset="0.45" stop-color="#d0e0e0" stop-opacity="0.85"/><stop offset="1" stop-color="#d0e0e0" stop-opacity="0"/></radialGradient><radialGradient id="g113"><stop offset="0" stop-color="#eee4d0" stop-opacity="1"/><stop offset="0.45" stop-color="#eee4d0" stop-opacity="0.85"/><stop offset="1" stop-color="#eee4d0" stop-opacity="0"/></radialGradient></defs>
<rect width="685" height="557" fill="#fff"/>
<g clip-path="url(#c0)"><g filter="url(#enh)"><path d="M24.5,65.2 C24.9,60.6 27.2,52.1 29.7,47.5 C32.2,42.9 35.6,40.8 39.4,37.8 C43.2,34.8 48.0,31.6 52.3,29.7 C56.6,27.8 61.2,27.2 65.2,26.5 C69.2,25.8 72.7,25.1 76.5,25.2 C80.3,25.3 83.9,26.0 87.9,27.3 C92.0,28.6 96.8,30.9 100.8,32.9 C104.8,34.9 108.9,37.0 112.1,39.4 C115.3,41.8 118.0,44.5 120.2,47.5 C122.4,50.5 124.2,53.7 125.0,57.2 C125.8,60.7 125.2,65.0 124.7,68.5 C124.2,72.0 123.4,75.0 121.8,78.2 C120.2,81.4 118.0,85.0 115.3,87.9 C112.6,90.9 109.1,93.8 105.6,95.9 C102.1,98.1 98.3,99.6 94.3,100.8 C90.3,102.0 85.7,102.9 81.4,103.2 C77.1,103.5 72.8,103.1 68.5,102.4 C64.2,101.7 59.5,100.8 55.5,99.2 C51.5,97.6 47.7,95.1 44.2,92.7 C40.7,90.3 37.3,87.6 34.5,84.6 C31.7,81.6 29.0,78.1 27.3,74.9 C25.6,71.7 24.1,69.8 24.5,65.2Z" fill="#c09860"/><g filter="url(#gb0)"><rect x="10.0" y="15.2" width="35.0" height="15.8" fill="#b09878"/><rect x="45.0" y="15.2" width="70.0" height="15.8" fill="#c4c0b4"/><rect x="115.0" y="15.2" width="20.0" height="15.8" fill="#a8a8a0"/><rect x="10.0" y="31.0" width="35.0" height="7.0" fill="#8a6430"/><rect x="45.0" y="31.0" width="65.0" height="7.0" fill="#b8a888"/><rect x="110.0" y="31.0" width="25.0" height="7.0" fill="#a8aca8"/><rect x="10.0" y="38.0" width="26.0" height="7.0" fill="#b08850"/><rect x="36.0" y="38.0" width="14.0" height="7.0" fill="#6a4418"/><rect x="50.0" y="38.0" width="60.0" height="7.0" fill="#a87c40"/><rect x="110.0" y="38.0" width="25.0" height="7.0" fill="#a8aca8"/><rect x="10.0" y="45.0" width="20.0" height="10.0" fill="#e0d0b0"/><rect x="30.0" y="45.0" width="7.0" height="10.0" fill="#1a6a60"/><rect x="37.0" y="45.0" width="23.0" height="10.0" fill="#b88c50"/><rect x="60.0" y="45.0" width="40.0" height="10.0" fill="#b88c50"/><rect x="100.0" y="45.0" width="10.0" height="10.0" fill="#c8a470"/><rect x="110.0" y="45.0" width="25.0" height="10.0" fill="#a09888"/><rect x="10.0" y="55.0" width="20.0" height="10.0" fill="#d8c090"/><rect x="30.0" y="55.0" width="7.0" height="10.0" fill="#1a6a60"/><rect x="37.0" y="55.0" width="13.0" height="10.0" fill="#c8a068"/><rect x="50.0" y="55.0" width="15.0" height="10.0" fill="#e0d0b0"/><rect x="65.0" y="55.0" width="15.0" height="10.0" fill="#a07030"/><rect x="80.0" y="55.0" width="15.0" height="10.0" fill="#9a6a28"/><rect x="95.0" y="55.0" width="15.0" height="10.0" fill="#c09858"/><rect x="110.0" y="55.0" width="25.0" height="10.0" fill="#a8a090"/><rect x="10.0" y="65.0" width="20.0" height="10.0" fill="#c8a068"/><rect x="30.0" y="65.0" width="7.0" height="10.0" fill="#2a7a70"/><rect x="37.0" y="65.0" width="13.0" height="10.0" fill="#a07838"/><rect x="50.0" y="65.0" width="12.0" height="10.0" fill="#ecdcc0"/><rect x="62.0" y="65.0" width="10.0" height="10.0" fill="#c8a068"/><rect x="72.0" y="65.0" width="10.0" height="10.0" fill="#f0e8dc"/><rect x="82.0" y="65.0" width="13.0" height="10.0" fill="#b08040"/><rect x="95.0" y="65.0" width="15.0" height="10.0" fill="#c8a068"/><rect x="110.0" y="65.0" width="25.0" height="10.0" fill="#a8a8a0"/><rect x="10.0" y="75.0" width="25.0" height="10.0" fill="#6a8880"/><rect x="35.0" y="75.0" width="15.0" height="10.0" fill="#b08040"/><rect x="50.0" y="75.0" width="10.0" height="10.0" fill="#e0d0b0"/><rect x="60.0" y="75.0" width="10.0" height="10.0" fill="#9a6a28"/><rect x="70.0" y="75.0" width="20.0" height="10.0" fill="#d8c090"/><rect x="90.0" y="75.0" width="15.0" height="10.0" fill="#7a4a14"/><rect x="105.0" y="75.0" width="30.0" height="10.0" fill="#8a8070"/><rect x="10.0" y="85.0" width="40.0" height="10.0" fill="#b08848"/><rect x="50.0" y="85.0" width="8.0" height="10.0" fill="#dce8ec"/><rect x="58.0" y="85.0" width="17.0" height="10.0" fill="#c8a470"/><rect x="75.0" y="85.0" width="20.0" height="10.0" fill="#e0d0b0"/><rect x="95.0" y="85.0" width="13.0" height="10.0" fill="#8a6030"/><rect x="108.0" y="85.0" width="27.0" height="10.0" fill="#5a4a30"/><rect x="10.0" y="95.0" width="50.0" height="18.2" fill="#a08868"/><rect x="60.0" y="95.0" width="40.0" height="18.2" fill="#a89070"/><rect x="100.0" y="95.0" width="35.0" height="18.2" fill="#6a5a40"/></g><g><ellipse cx="33.5" cy="60.0" rx="4.0" ry="13.8" fill="url(#g0)" opacity="0.95"/><ellipse cx="33.0" cy="79.0" rx="2.9" ry="4.7" fill="url(#g1)" opacity="0.70"/><ellipse cx="40.0" cy="41.0" rx="10.6" ry="4.7" fill="url(#g2)" opacity="0.85" transform="rotate(-35 40.0 41.0)"/><ellipse cx="75.0" cy="42.0" rx="37.8" ry="4.1" fill="url(#g3)" opacity="0.50"/><ellipse cx="74.0" cy="62.0" rx="5.9" ry="4.7" fill="url(#g4)" opacity="0.80"/><ellipse cx="89.0" cy="60.0" rx="5.9" ry="5.9" fill="url(#g4)" opacity="0.80"/><ellipse cx="99.0" cy="79.0" rx="5.9" ry="5.9" fill="url(#g4)" opacity="0.85"/><ellipse cx="102.0" cy="87.0" rx="3.5" ry="3.5" fill="url(#g4)" opacity="0.70"/><ellipse cx="63.0" cy="80.0" rx="4.7" ry="3.5" fill="url(#g4)" opacity="0.70"/><ellipse cx="48.0" cy="57.0" rx="3.5" ry="4.7" fill="url(#g3)" opacity="0.70"/><ellipse cx="70.0" cy="50.0" rx="7.1" ry="3.5" fill="url(#g3)" opacity="0.60"/><ellipse cx="55.0" cy="70.0" rx="7.1" ry="5.9" fill="url(#g5)" opacity="0.80"/><ellipse cx="80.0" cy="71.0" rx="7.1" ry="5.9" fill="url(#g5)" opacity="0.85"/><ellipse cx="82.0" cy="52.0" rx="5.9" ry="4.7" fill="url(#g5)" opacity="0.70"/><ellipse cx="92.0" cy="88.0" rx="8.2" ry="4.7" fill="url(#g5)" opacity="0.70"/><ellipse cx="68.0" cy="88.0" rx="7.1" ry="4.7" fill="url(#g5)" opacity="0.60"/><ellipse cx="53.0" cy="87.0" rx="4.7" ry="3.5" fill="url(#g6)" opacity="0.80"/><ellipse cx="117.0" cy="66.0" rx="8.1" ry="27.0" fill="url(#g7)" opacity="0.50"/><ellipse cx="80.0" cy="30.0" rx="40.5" ry="5.4" fill="url(#g8)" opacity="0.60"/><ellipse cx="108.0" cy="95.0" rx="10.8" ry="5.4" fill="url(#g9)" opacity="0.50" transform="rotate(-30 108.0 95.0)"/><circle cx="102.3" cy="44.1" r="1.8" fill="url(#g10)" opacity="0.38"/><circle cx="90.6" cy="87.9" r="1.2" fill="url(#g10)" opacity="0.26"/><circle cx="109.8" cy="58.7" r="2.2" fill="url(#g10)" opacity="0.25"/><circle cx="69.0" cy="82.4" r="1.4" fill="url(#g10)" opacity="0.53"/><circle cx="45.1" cy="57.8" r="1.1" fill="url(#g10)" opacity="0.32"/><circle cx="68.3" cy="63.9" r="1.4" fill="url(#g10)" opacity="0.32"/><circle cx="45.4" cy="60.9" r="1.5" fill="url(#g10)" opacity="0.26"/><circle cx="110.0" cy="68.8" r="2.0" fill="url(#g10)" opacity="0.31"/><circle cx="35.1" cy="50.5" r="2.2" fill="url(#g10)" opacity="0.46"/><circle cx="120.4" cy="57.8" r="2.3" fill="url(#g10)" opacity="0.45"/><circle cx="54.2" cy="71.4" r="2.4" fill="url(#g10)" opacity="0.50"/><circle cx="75.3" cy="71.5" r="1.1" fill="url(#g10)" opacity="0.32"/><circle cx="105.8" cy="57.2" r="1.3" fill="url(#g10)" opacity="0.41"/><circle cx="96.0" cy="78.5" r="1.6" fill="url(#g10)" opacity="0.38"/><circle cx="75.6" cy="87.0" r="1.9" fill="url(#g10)" opacity="0.37"/><circle cx="63.6" cy="37.2" r="1.8" fill="url(#g10)" opacity="0.54"/><circle cx="103.0" cy="67.4" r="2.4" fill="url(#g10)" opacity="0.32"/><circle cx="82.9" cy="60.8" r="1.5" fill="url(#g10)" opacity="0.41"/><circle cx="104.4" cy="90.5" r="2.4" fill="url(#g10)" opacity="0.47"/><circle cx="107.1" cy="65.7" r="1.9" fill="url(#g10)" opacity="0.38"/><circle cx="82.1" cy="39.6" r="1.8" fill="url(#g10)" opacity="0.40"/><circle cx="59.8" cy="51.6" r="1.9" fill="url(#g10)" opacity="0.44"/></g><rect x="22.5" y="23.2" width="104.5" height="82.0" filter="url(#bump)" opacity="0.60" style="mix-blend-mode:soft-light"/><path d="M24.5,65.2 C24.9,60.6 27.2,52.1 29.7,47.5 C32.2,42.9 35.6,40.8 39.4,37.8 C43.2,34.8 48.0,31.6 52.3,29.7 C56.6,27.8 61.2,27.2 65.2,26.5 C69.2,25.8 72.7,25.1 76.5,25.2 C80.3,25.3 83.9,26.0 87.9,27.3 C92.0,28.6 96.8,30.9 100.8,32.9 C104.8,34.9 108.9,37.0 112.1,39.4 C115.3,41.8 118.0,44.5 120.2,47.5 C122.4,50.5 124.2,53.7 125.0,57.2 C125.8,60.7 125.2,65.0 124.7,68.5 C124.2,72.0 123.4,75.0 121.8,78.2 C120.2,81.4 118.0,85.0 115.3,87.9 C112.6,90.9 109.1,93.8 105.6,95.9 C102.1,98.1 98.3,99.6 94.3,100.8 C90.3,102.0 85.7,102.9 81.4,103.2 C77.1,103.5 72.8,103.1 68.5,102.4 C64.2,101.7 59.5,100.8 55.5,99.2 C51.5,97.6 47.7,95.1 44.2,92.7 C40.7,90.3 37.3,87.6 34.5,84.6 C31.7,81.6 29.0,78.1 27.3,74.9 C25.6,71.7 24.1,69.8 24.5,65.2Z" fill="none" stroke="#4a3818" stroke-width="2.0" opacity="0.30" filter="url(#b2)"/></g></g><path d="M24.5,65.2 C24.9,60.6 27.2,52.1 29.7,47.5 C32.2,42.9 35.6,40.8 39.4,37.8 C43.2,34.8 48.0,31.6 52.3,29.7 C56.6,27.8 61.2,27.2 65.2,26.5 C69.2,25.8 72.7,25.1 76.5,25.2 C80.3,25.3 83.9,26.0 87.9,27.3 C92.0,28.6 96.8,30.9 100.8,32.9 C104.8,34.9 108.9,37.0 112.1,39.4 C115.3,41.8 118.0,44.5 120.2,47.5 C122.4,50.5 124.2,53.7 125.0,57.2 C125.8,60.7 125.2,65.0 124.7,68.5 C124.2,72.0 123.4,75.0 121.8,78.2 C120.2,81.4 118.0,85.0 115.3,87.9 C112.6,90.9 109.1,93.8 105.6,95.9 C102.1,98.1 98.3,99.6 94.3,100.8 C90.3,102.0 85.7,102.9 81.4,103.2 C77.1,103.5 72.8,103.1 68.5,102.4 C64.2,101.7 59.5,100.8 55.5,99.2 C51.5,97.6 47.7,95.1 44.2,92.7 C40.7,90.3 37.3,87.6 34.5,84.6 C31.7,81.6 29.0,78.1 27.3,74.9 C25.6,71.7 24.1,69.8 24.5,65.2Z" fill="none" stroke="#3a3020" stroke-width="0.5" opacity="0.35"/><g clip-path="url(#c1)"><g filter="url(#enh)"><path d="M182.0,72.6 C182.1,68.5 183.1,61.2 184.6,56.8 C186.1,52.4 188.0,49.5 190.8,46.3 C193.6,43.1 197.5,40.0 201.3,37.5 C205.1,35.0 209.1,33.1 213.5,31.4 C217.9,29.6 223.5,28.1 227.6,27.0 C231.7,25.9 234.2,24.9 238.0,24.9 C241.8,24.9 246.2,25.6 250.3,27.0 C254.4,28.4 258.8,30.8 262.6,33.1 C266.4,35.4 269.9,38.2 273.1,41.0 C276.3,43.8 279.3,46.6 281.9,49.8 C284.5,53.0 287.9,56.8 288.9,60.3 C289.9,63.8 288.9,67.0 288.0,70.8 C287.1,74.6 285.5,79.3 283.6,83.1 C281.7,86.9 279.5,90.4 276.6,93.6 C273.7,96.8 269.9,100.3 266.1,102.3 C262.3,104.3 257.9,105.5 253.8,105.8 C249.7,106.1 246.0,105.0 241.6,104.1 C237.2,103.2 232.3,101.5 227.6,100.6 C222.9,99.7 218.2,99.7 213.5,98.8 C208.8,97.9 203.6,97.0 199.5,95.3 C195.4,93.5 191.6,90.6 189.0,88.3 C186.4,86.0 185.0,83.9 183.8,81.3 C182.6,78.7 181.9,76.7 182.0,72.6Z" fill="#c8c0b0"/><g filter="url(#gb1)"><rect x="172.0" y="14.9" width="53.0" height="17.1" fill="#a89070"/><rect x="225.0" y="14.9" width="37.0" height="17.1" fill="#c8c4bc"/><rect x="262.0" y="14.9" width="36.9" height="17.1" fill="#b0a898"/><rect x="172.0" y="32.0" width="28.0" height="8.0" fill="#9a7848"/><rect x="200.0" y="32.0" width="15.0" height="8.0" fill="#8a6a40"/><rect x="215.0" y="32.0" width="30.0" height="8.0" fill="#c8bca8"/><rect x="245.0" y="32.0" width="17.0" height="8.0" fill="#9a7038"/><rect x="262.0" y="32.0" width="36.9" height="8.0" fill="#a89880"/><rect x="172.0" y="40.0" width="26.0" height="10.0" fill="#a08a68"/><rect x="198.0" y="40.0" width="12.0" height="10.0" fill="#a07840"/><rect x="210.0" y="40.0" width="15.0" height="10.0" fill="#c8b898"/><rect x="225.0" y="40.0" width="7.0" height="10.0" fill="#dcdcd4"/><rect x="232.0" y="40.0" width="13.0" height="10.0" fill="#60b0a0"/><rect x="245.0" y="40.0" width="10.0" height="10.0" fill="#d8e0dc"/><rect x="255.0" y="40.0" width="10.0" height="10.0" fill="#80b8b0"/><rect x="265.0" y="40.0" width="13.0" height="10.0" fill="#b8b0a4"/><rect x="278.0" y="40.0" width="20.9" height="10.0" fill="#988870"/><rect x="172.0" y="50.0" width="18.0" height="10.0" fill="#8a6a40"/><rect x="190.0" y="50.0" width="10.0" height="10.0" fill="#b08c58"/><rect x="200.0" y="50.0" width="10.0" height="10.0" fill="#c8b088"/><rect x="210.0" y="50.0" width="15.0" height="10.0" fill="#e4d8c0"/><rect x="225.0" y="50.0" width="17.0" height="10.0" fill="#dcdcd0"/><rect x="242.0" y="50.0" width="13.0" height="10.0" fill="#b0d0c8"/><rect x="255.0" y="50.0" width="7.0" height="10.0" fill="#d8dcd8"/><rect x="262.0" y="50.0" width="10.0" height="10.0" fill="#3a9888"/><rect x="272.0" y="50.0" width="10.0" height="10.0" fill="#c8c8c0"/><rect x="282.0" y="50.0" width="16.9" height="10.0" fill="#8a7860"/><rect x="172.0" y="60.0" width="18.0" height="12.0" fill="#9a8060"/><rect x="190.0" y="60.0" width="10.0" height="12.0" fill="#b89868"/><rect x="200.0" y="60.0" width="7.0" height="12.0" fill="#d0d0c8"/><rect x="207.0" y="60.0" width="6.0" height="12.0" fill="#80c0b8"/><rect x="213.0" y="60.0" width="27.0" height="12.0" fill="#e8e0d0"/><rect x="240.0" y="60.0" width="10.0" height="12.0" fill="#e0dccc"/><rect x="250.0" y="60.0" width="10.0" height="12.0" fill="#b08850"/><rect x="260.0" y="60.0" width="10.0" height="12.0" fill="#2a8878"/><rect x="270.0" y="60.0" width="10.0" height="12.0" fill="#c0b090"/><rect x="280.0" y="60.0" width="18.9" height="12.0" fill="#7a6040"/><rect x="172.0" y="72.0" width="20.0" height="10.0" fill="#8a6a40"/><rect x="192.0" y="72.0" width="13.0" height="10.0" fill="#c0b090"/><rect x="205.0" y="72.0" width="20.0" height="10.0" fill="#d8d8d0"/><rect x="225.0" y="72.0" width="10.0" height="10.0" fill="#d8ccb0"/><rect x="235.0" y="72.0" width="15.0" height="10.0" fill="#e0e4e0"/><rect x="250.0" y="72.0" width="10.0" height="10.0" fill="#c8b088"/><rect x="260.0" y="72.0" width="10.0" height="10.0" fill="#2a8878"/><rect x="270.0" y="72.0" width="28.9" height="10.0" fill="#907048"/><rect x="172.0" y="82.0" width="23.0" height="10.0" fill="#7a5a30"/><rect x="195.0" y="82.0" width="15.0" height="10.0" fill="#c8c4b8"/><rect x="210.0" y="82.0" width="25.0" height="10.0" fill="#70b0a8"/><rect x="235.0" y="82.0" width="15.0" height="10.0" fill="#60aca0"/><rect x="250.0" y="82.0" width="8.0" height="10.0" fill="#1a6a60"/><rect x="258.0" y="82.0" width="17.0" height="10.0" fill="#a07840"/><rect x="275.0" y="82.0" width="8.0" height="10.0" fill="#c8c4b8"/><rect x="283.0" y="82.0" width="15.9" height="10.0" fill="#8a7050"/><rect x="172.0" y="92.0" width="38.0" height="23.8" fill="#6a5030"/><rect x="210.0" y="92.0" width="30.0" height="23.8" fill="#a09478"/><rect x="240.0" y="92.0" width="20.0" height="23.8" fill="#a08868"/><rect x="260.0" y="92.0" width="15.0" height="23.8" fill="#c0bcb0"/><rect x="275.0" y="92.0" width="23.9" height="23.8" fill="#8a7860"/></g><g><ellipse cx="192.0" cy="68.0" rx="6.8" ry="24.3" fill="url(#g11)" opacity="0.70"/><ellipse cx="200.0" cy="43.0" rx="13.5" ry="6.8" fill="url(#g11)" opacity="0.60" transform="rotate(-30 200.0 43.0)"/><ellipse cx="250.0" cy="40.0" rx="10.6" ry="5.9" fill="url(#g12)" opacity="0.70"/><ellipse cx="253.0" cy="42.0" rx="3.5" ry="2.9" fill="url(#g13)" opacity="0.80"/><ellipse cx="196.0" cy="94.0" rx="13.5" ry="5.4" fill="url(#g14)" opacity="0.60" transform="rotate(20 196.0 94.0)"/><ellipse cx="278.0" cy="88.0" rx="9.5" ry="13.5" fill="url(#g15)" opacity="0.60"/><ellipse cx="283.0" cy="62.0" rx="5.4" ry="13.5" fill="url(#g16)" opacity="0.50"/><ellipse cx="228.0" cy="62.0" rx="16.2" ry="13.5" fill="url(#g17)" opacity="0.70"/><ellipse cx="212.0" cy="74.0" rx="13.5" ry="10.8" fill="url(#g18)" opacity="0.60"/><ellipse cx="265.0" cy="65.0" rx="5.9" ry="11.8" fill="url(#g19)" opacity="0.80" transform="rotate(-15 265.0 65.0)"/><ellipse cx="245.0" cy="50.0" rx="9.4" ry="4.7" fill="url(#g20)" opacity="0.70"/><ellipse cx="254.0" cy="85.0" rx="5.9" ry="3.5" fill="url(#g21)" opacity="0.80"/><ellipse cx="230.0" cy="87.0" rx="16.4" ry="4.7" fill="url(#g22)" opacity="0.70" transform="rotate(-5 230.0 87.0)"/><ellipse cx="210.0" cy="67.0" rx="3.5" ry="3.5" fill="url(#g23)" opacity="0.80"/><ellipse cx="255.0" cy="72.0" rx="5.9" ry="4.7" fill="url(#g24)" opacity="0.60"/><ellipse cx="268.0" cy="78.0" rx="4.7" ry="4.7" fill="url(#g11)" opacity="0.60"/><circle cx="191.8" cy="82.5" r="2.1" fill="url(#g10)" opacity="0.53"/><circle cx="210.1" cy="44.6" r="2.2" fill="url(#g10)" opacity="0.45"/><circle cx="213.6" cy="81.0" r="1.7" fill="url(#g10)" opacity="0.48"/><circle cx="280.0" cy="53.3" r="1.4" fill="url(#g10)" opacity="0.49"/><circle cx="250.1" cy="35.6" r="1.9" fill="url(#g10)" opacity="0.45"/><circle cx="198.3" cy="78.2" r="1.2" fill="url(#g10)" opacity="0.35"/><circle cx="247.4" cy="97.0" r="2.1" fill="url(#g10)" opacity="0.28"/><circle cx="245.3" cy="76.7" r="1.3" fill="url(#g10)" opacity="0.28"/><circle cx="277.0" cy="66.5" r="1.3" fill="url(#g10)" opacity="0.39"/><circle cx="204.2" cy="90.7" r="1.8" fill="url(#g10)" opacity="0.28"/><circle cx="238.3" cy="30.8" r="1.8" fill="url(#g10)" opacity="0.46"/><circle cx="239.3" cy="61.5" r="1.8" fill="url(#g10)" opacity="0.38"/><circle cx="246.0" cy="31.0" r="1.8" fill="url(#g10)" opacity="0.32"/><circle cx="258.0" cy="71.4" r="1.1" fill="url(#g10)" opacity="0.46"/><circle cx="218.5" cy="71.2" r="2.5" fill="url(#g10)" opacity="0.33"/><circle cx="213.5" cy="38.9" r="2.0" fill="url(#g10)" opacity="0.39"/><circle cx="208.4" cy="55.8" r="1.1" fill="url(#g10)" opacity="0.34"/><circle cx="219.7" cy="44.3" r="1.1" fill="url(#g10)" opacity="0.29"/><circle cx="202.1" cy="42.4" r="2.4" fill="url(#g10)" opacity="0.33"/><circle cx="207.6" cy="74.2" r="2.5" fill="url(#g10)" opacity="0.34"/><circle cx="264.5" cy="54.2" r="1.9" fill="url(#g10)" opacity="0.43"/><circle cx="236.4" cy="94.3" r="1.6" fill="url(#g10)" opacity="0.37"/></g><rect x="180.0" y="22.9" width="110.9" height="84.9" filter="url(#bump)" opacity="0.60" style="mix-blend-mode:soft-light"/><path d="M182.0,72.6 C182.1,68.5 183.1,61.2 184.6,56.8 C186.1,52.4 188.0,49.5 190.8,46.3 C193.6,43.1 197.5,40.0 201.3,37.5 C205.1,35.0 209.1,33.1 213.5,31.4 C217.9,29.6 223.5,28.1 227.6,27.0 C231.7,25.9 234.2,24.9 238.0,24.9 C241.8,24.9 246.2,25.6 250.3,27.0 C254.4,28.4 258.8,30.8 262.6,33.1 C266.4,35.4 269.9,38.2 273.1,41.0 C276.3,43.8 279.3,46.6 281.9,49.8 C284.5,53.0 287.9,56.8 288.9,60.3 C289.9,63.8 288.9,67.0 288.0,70.8 C287.1,74.6 285.5,79.3 283.6,83.1 C281.7,86.9 279.5,90.4 276.6,93.6 C273.7,96.8 269.9,100.3 266.1,102.3 C262.3,104.3 257.9,105.5 253.8,105.8 C249.7,106.1 246.0,105.0 241.6,104.1 C237.2,103.2 232.3,101.5 227.6,100.6 C222.9,99.7 218.2,99.7 213.5,98.8 C208.8,97.9 203.6,97.0 199.5,95.3 C195.4,93.5 191.6,90.6 189.0,88.3 C186.4,86.0 185.0,83.9 183.8,81.3 C182.6,78.7 181.9,76.7 182.0,72.6Z" fill="none" stroke="#4a3818" stroke-width="2.0" opacity="0.30" filter="url(#b2)"/></g></g><path d="M182.0,72.6 C182.1,68.5 183.1,61.2 184.6,56.8 C186.1,52.4 188.0,49.5 190.8,46.3 C193.6,43.1 197.5,40.0 201.3,37.5 C205.1,35.0 209.1,33.1 213.5,31.4 C217.9,29.6 223.5,28.1 227.6,27.0 C231.7,25.9 234.2,24.9 238.0,24.9 C241.8,24.9 246.2,25.6 250.3,27.0 C254.4,28.4 258.8,30.8 262.6,33.1 C266.4,35.4 269.9,38.2 273.1,41.0 C276.3,43.8 279.3,46.6 281.9,49.8 C284.5,53.0 287.9,56.8 288.9,60.3 C289.9,63.8 288.9,67.0 288.0,70.8 C287.1,74.6 285.5,79.3 283.6,83.1 C281.7,86.9 279.5,90.4 276.6,93.6 C273.7,96.8 269.9,100.3 266.1,102.3 C262.3,104.3 257.9,105.5 253.8,105.8 C249.7,106.1 246.0,105.0 241.6,104.1 C237.2,103.2 232.3,101.5 227.6,100.6 C222.9,99.7 218.2,99.7 213.5,98.8 C208.8,97.9 203.6,97.0 199.5,95.3 C195.4,93.5 191.6,90.6 189.0,88.3 C186.4,86.0 185.0,83.9 183.8,81.3 C182.6,78.7 181.9,76.7 182.0,72.6Z" fill="none" stroke="#3a3020" stroke-width="0.5" opacity="0.35"/><g clip-path="url(#c2)"><g filter="url(#enh)"><path d="M335.3,76.1 C334.9,72.0 336.2,68.2 337.4,63.7 C338.6,59.2 340.5,53.7 342.6,49.2 C344.7,44.7 346.9,40.6 349.8,36.8 C352.7,33.0 356.0,29.2 360.1,26.5 C364.2,23.8 369.4,21.8 374.6,20.3 C379.8,18.9 385.6,17.9 391.1,17.8 C396.6,17.7 402.8,18.4 407.6,19.9 C412.4,21.3 416.2,23.7 420.0,26.5 C423.8,29.3 427.4,33.0 430.3,36.8 C433.2,40.6 435.7,44.7 437.6,49.2 C439.5,53.7 440.7,58.9 441.7,63.7 C442.7,68.5 443.6,73.4 443.8,78.2 C444.0,83.0 443.7,88.8 442.7,92.6 C441.7,96.4 440.0,98.2 437.6,100.9 C435.2,103.7 431.9,106.7 428.3,109.1 C424.7,111.5 420.4,113.9 415.9,115.3 C411.4,116.7 406.2,117.2 401.4,117.4 C396.6,117.6 391.8,117.1 387.0,116.4 C382.2,115.7 377.3,114.8 372.5,113.3 C367.7,111.8 362.1,109.5 358.0,107.1 C353.9,104.7 350.8,101.9 347.7,98.8 C344.6,95.7 341.6,92.3 339.5,88.5 C337.4,84.7 335.7,80.2 335.3,76.1Z" fill="#e2dac8"/><g filter="url(#gb2)"><rect x="325.3" y="7.8" width="39.7" height="20.2" fill="#c8ccc8"/><rect x="365.0" y="7.8" width="28.0" height="20.2" fill="#d0d8d4"/><rect x="393.0" y="7.8" width="27.0" height="20.2" fill="#dcd4c0"/><rect x="420.0" y="7.8" width="33.8" height="20.2" fill="#c8c0b0"/><rect x="325.3" y="28.0" width="24.7" height="12.0" fill="#c8ccc8"/><rect x="350.0" y="28.0" width="15.0" height="12.0" fill="#d8d8d0"/><rect x="365.0" y="28.0" width="15.0" height="12.0" fill="#a87838"/><rect x="380.0" y="28.0" width="25.0" height="12.0" fill="#e4dcc8"/><rect x="405.0" y="28.0" width="15.0" height="12.0" fill="#a87838"/><rect x="420.0" y="28.0" width="33.8" height="12.0" fill="#dcd0b8"/><rect x="325.3" y="40.0" width="16.7" height="12.0" fill="#c8ccc8"/><rect x="342.0" y="40.0" width="10.0" height="12.0" fill="#d8dcd8"/><rect x="352.0" y="40.0" width="8.0" height="12.0" fill="#c8a878"/><rect x="360.0" y="40.0" width="15.0" height="12.0" fill="#e4e4dc"/><rect x="375.0" y="40.0" width="30.0" height="12.0" fill="#ece4d4"/><rect x="405.0" y="40.0" width="13.0" height="12.0" fill="#a87838"/><rect x="418.0" y="40.0" width="17.0" height="12.0" fill="#e4dac4"/><rect x="435.0" y="40.0" width="18.8" height="12.0" fill="#c8a878"/><rect x="325.3" y="52.0" width="19.7" height="12.0" fill="#d0d4d0"/><rect x="345.0" y="52.0" width="7.0" height="12.0" fill="#b89060"/><rect x="352.0" y="52.0" width="10.0" height="12.0" fill="#e0d8c8"/><rect x="362.0" y="52.0" width="18.0" height="12.0" fill="#b8d8d0"/><rect x="380.0" y="52.0" width="15.0" height="12.0" fill="#e4e0d4"/><rect x="395.0" y="52.0" width="15.0" height="12.0" fill="#c8e0dc"/><rect x="410.0" y="52.0" width="10.0" height="12.0" fill="#ece8e0"/><rect x="420.0" y="52.0" width="33.8" height="12.0" fill="#e0d0b0"/><rect x="325.3" y="64.0" width="19.7" height="12.0" fill="#dcdcd8"/><rect x="345.0" y="64.0" width="10.0" height="12.0" fill="#d0e0dc"/><rect x="355.0" y="64.0" width="7.0" height="12.0" fill="#b8d8d0"/><rect x="362.0" y="64.0" width="10.0" height="12.0" fill="#a87838"/><rect x="372.0" y="64.0" width="13.0" height="12.0" fill="#e4e4e0"/><rect x="385.0" y="64.0" width="10.0" height="12.0" fill="#c09050"/><rect x="395.0" y="64.0" width="15.0" height="12.0" fill="#ece8e0"/><rect x="410.0" y="64.0" width="10.0" height="12.0" fill="#c8a878"/><rect x="420.0" y="64.0" width="18.0" height="12.0" fill="#dcc8a0"/><rect x="438.0" y="64.0" width="15.8" height="12.0" fill="#b89058"/><rect x="325.3" y="76.0" width="19.7" height="12.0" fill="#dcdcd8"/><rect x="345.0" y="76.0" width="10.0" height="12.0" fill="#e4e4e0"/><rect x="355.0" y="76.0" width="10.0" height="12.0" fill="#d8c8a8"/><rect x="365.0" y="76.0" width="7.0" height="12.0" fill="#c09050"/><rect x="372.0" y="76.0" width="16.0" height="12.0" fill="#d8c090"/><rect x="388.0" y="76.0" width="12.0" height="12.0" fill="#c09050"/><rect x="400.0" y="76.0" width="15.0" height="12.0" fill="#b08040"/><rect x="415.0" y="76.0" width="13.0" height="12.0" fill="#dcdcd8"/><rect x="428.0" y="76.0" width="25.8" height="12.0" fill="#c09860"/><rect x="325.3" y="88.0" width="14.7" height="10.0" fill="#b8c8c0"/><rect x="340.0" y="88.0" width="16.0" height="10.0" fill="#8a5a20"/><rect x="356.0" y="88.0" width="14.0" height="10.0" fill="#e0e0d8"/><rect x="370.0" y="88.0" width="12.0" height="10.0" fill="#c8a068"/><rect x="382.0" y="88.0" width="13.0" height="10.0" fill="#7a4a18"/><rect x="395.0" y="88.0" width="10.0" height="10.0" fill="#c8dcd8"/><rect x="405.0" y="88.0" width="10.0" height="10.0" fill="#b08040"/><rect x="415.0" y="88.0" width="10.0" height="10.0" fill="#e4e4e0"/><rect x="425.0" y="88.0" width="28.8" height="10.0" fill="#b08850"/><rect x="325.3" y="98.0" width="30.7" height="10.0" fill="#7a4a18"/><rect x="356.0" y="98.0" width="14.0" height="10.0" fill="#d0b890"/><rect x="370.0" y="98.0" width="10.0" height="10.0" fill="#d8d8d0"/><rect x="380.0" y="98.0" width="20.0" height="10.0" fill="#5a3408"/><rect x="400.0" y="98.0" width="12.0" height="10.0" fill="#9a6a30"/><rect x="412.0" y="98.0" width="13.0" height="10.0" fill="#b08850"/><rect x="425.0" y="98.0" width="28.8" height="10.0" fill="#a87c40"/><rect x="325.3" y="108.0" width="49.7" height="19.4" fill="#a89878"/><rect x="375.0" y="108.0" width="30.0" height="19.4" fill="#5a3408"/><rect x="405.0" y="108.0" width="15.0" height="19.4" fill="#8a6030"/><rect x="420.0" y="108.0" width="33.8" height="19.4" fill="#9a7848"/></g><g><ellipse cx="372.0" cy="33.0" rx="9.4" ry="4.7" fill="url(#g25)" opacity="0.80" transform="rotate(-20 372.0 33.0)"/><ellipse cx="412.0" cy="44.0" rx="7.1" ry="10.6" fill="url(#g25)" opacity="0.70"/><ellipse cx="412.0" cy="50.0" rx="4.0" ry="4.0" fill="url(#g26)" opacity="0.85"/><ellipse cx="366.0" cy="66.0" rx="3.4" ry="5.2" fill="url(#g27)" opacity="0.90"/><ellipse cx="369.0" cy="73.0" rx="2.3" ry="2.3" fill="url(#g27)" opacity="0.80"/><ellipse cx="347.0" cy="61.0" rx="3.5" ry="4.7" fill="url(#g12)" opacity="0.80"/><ellipse cx="385.0" cy="65.0" rx="4.1" ry="4.7" fill="url(#g28)" opacity="0.80"/><ellipse cx="414.0" cy="64.0" rx="4.0" ry="4.0" fill="url(#g29)" opacity="0.90"/><ellipse cx="397.0" cy="45.0" rx="2.4" ry="2.4" fill="url(#g30)" opacity="0.70"/><ellipse cx="381.0" cy="40.0" rx="2.4" ry="2.4" fill="url(#g30)" opacity="0.60"/><ellipse cx="349.0" cy="96.0" rx="7.1" ry="9.4" fill="url(#g31)" opacity="0.80"/><ellipse cx="388.0" cy="100.0" rx="8.0" ry="10.3" fill="url(#g32)" opacity="0.85"/><ellipse cx="392.0" cy="111.0" rx="11.5" ry="5.8" fill="url(#g33)" opacity="0.85"/><ellipse cx="417.0" cy="92.0" rx="5.9" ry="7.1" fill="url(#g12)" opacity="0.70"/><ellipse cx="415.0" cy="98.0" rx="2.9" ry="2.9" fill="url(#g27)" opacity="0.80"/><ellipse cx="420.0" cy="88.0" rx="4.7" ry="3.5" fill="url(#g34)" opacity="0.70"/><ellipse cx="373.0" cy="60.0" rx="5.9" ry="7.1" fill="url(#g1)" opacity="0.80"/><ellipse cx="358.0" cy="68.0" rx="3.5" ry="5.9" fill="url(#g35)" opacity="0.70"/><ellipse cx="401.0" cy="58.0" rx="4.7" ry="5.9" fill="url(#g36)" opacity="0.70"/><ellipse cx="396.0" cy="90.0" rx="3.5" ry="4.7" fill="url(#g37)" opacity="0.70"/><ellipse cx="360.0" cy="45.0" rx="9.4" ry="7.1" fill="url(#g38)" opacity="0.60"/><ellipse cx="390.0" cy="40.0" rx="9.4" ry="7.1" fill="url(#g39)" opacity="0.60"/><ellipse cx="343.0" cy="75.0" rx="5.9" ry="10.6" fill="url(#g40)" opacity="0.60"/><ellipse cx="410.0" cy="78.0" rx="7.1" ry="4.7" fill="url(#g41)" opacity="0.60"/><circle cx="406.3" cy="88.5" r="2.5" fill="url(#g10)" opacity="0.31"/><circle cx="370.8" cy="54.4" r="2.3" fill="url(#g10)" opacity="0.31"/><circle cx="435.6" cy="66.7" r="1.2" fill="url(#g10)" opacity="0.53"/><circle cx="397.8" cy="24.0" r="2.3" fill="url(#g10)" opacity="0.48"/><circle cx="416.6" cy="83.9" r="2.6" fill="url(#g10)" opacity="0.25"/><circle cx="361.8" cy="79.2" r="1.6" fill="url(#g10)" opacity="0.45"/><circle cx="412.5" cy="70.1" r="1.2" fill="url(#g10)" opacity="0.37"/><circle cx="367.3" cy="93.4" r="2.5" fill="url(#g10)" opacity="0.48"/><circle cx="393.0" cy="33.4" r="2.1" fill="url(#g10)" opacity="0.33"/><circle cx="421.0" cy="51.7" r="1.9" fill="url(#g10)" opacity="0.37"/><circle cx="367.9" cy="61.1" r="2.3" fill="url(#g10)" opacity="0.36"/><circle cx="373.9" cy="96.8" r="1.3" fill="url(#g10)" opacity="0.36"/><circle cx="391.4" cy="69.4" r="1.3" fill="url(#g10)" opacity="0.48"/><circle cx="388.3" cy="25.3" r="1.6" fill="url(#g10)" opacity="0.27"/><circle cx="372.0" cy="27.6" r="1.4" fill="url(#g10)" opacity="0.42"/><circle cx="410.9" cy="46.9" r="1.8" fill="url(#g10)" opacity="0.40"/><circle cx="399.2" cy="109.8" r="1.4" fill="url(#g10)" opacity="0.48"/><circle cx="395.7" cy="108.5" r="2.1" fill="url(#g10)" opacity="0.25"/><circle cx="366.6" cy="79.4" r="1.2" fill="url(#g10)" opacity="0.42"/><circle cx="379.5" cy="63.5" r="1.0" fill="url(#g10)" opacity="0.52"/><circle cx="428.2" cy="92.7" r="2.0" fill="url(#g10)" opacity="0.32"/><circle cx="370.4" cy="55.6" r="2.4" fill="url(#g10)" opacity="0.35"/></g><rect x="333.3" y="15.8" width="112.5" height="103.6" filter="url(#bump)" opacity="0.60" style="mix-blend-mode:soft-light"/><path d="M335.3,76.1 C334.9,72.0 336.2,68.2 337.4,63.7 C338.6,59.2 340.5,53.7 342.6,49.2 C344.7,44.7 346.9,40.6 349.8,36.8 C352.7,33.0 356.0,29.2 360.1,26.5 C364.2,23.8 369.4,21.8 374.6,20.3 C379.8,18.9 385.6,17.9 391.1,17.8 C396.6,17.7 402.8,18.4 407.6,19.9 C412.4,21.3 416.2,23.7 420.0,26.5 C423.8,29.3 427.4,33.0 430.3,36.8 C433.2,40.6 435.7,44.7 437.6,49.2 C439.5,53.7 440.7,58.9 441.7,63.7 C442.7,68.5 443.6,73.4 443.8,78.2 C444.0,83.0 443.7,88.8 442.7,92.6 C441.7,96.4 440.0,98.2 437.6,100.9 C435.2,103.7 431.9,106.7 428.3,109.1 C424.7,111.5 420.4,113.9 415.9,115.3 C411.4,116.7 406.2,117.2 401.4,117.4 C396.6,117.6 391.8,117.1 387.0,116.4 C382.2,115.7 377.3,114.8 372.5,113.3 C367.7,111.8 362.1,109.5 358.0,107.1 C353.9,104.7 350.8,101.9 347.7,98.8 C344.6,95.7 341.6,92.3 339.5,88.5 C337.4,84.7 335.7,80.2 335.3,76.1Z" fill="none" stroke="#4a3818" stroke-width="2.0" opacity="0.30" filter="url(#b2)"/></g></g><path d="M335.3,76.1 C334.9,72.0 336.2,68.2 337.4,63.7 C338.6,59.2 340.5,53.7 342.6,49.2 C344.7,44.7 346.9,40.6 349.8,36.8 C352.7,33.0 356.0,29.2 360.1,26.5 C364.2,23.8 369.4,21.8 374.6,20.3 C379.8,18.9 385.6,17.9 391.1,17.8 C396.6,17.7 402.8,18.4 407.6,19.9 C412.4,21.3 416.2,23.7 420.0,26.5 C423.8,29.3 427.4,33.0 430.3,36.8 C433.2,40.6 435.7,44.7 437.6,49.2 C439.5,53.7 440.7,58.9 441.7,63.7 C442.7,68.5 443.6,73.4 443.8,78.2 C444.0,83.0 443.7,88.8 442.7,92.6 C441.7,96.4 440.0,98.2 437.6,100.9 C435.2,103.7 431.9,106.7 428.3,109.1 C424.7,111.5 420.4,113.9 415.9,115.3 C411.4,116.7 406.2,117.2 401.4,117.4 C396.6,117.6 391.8,117.1 387.0,116.4 C382.2,115.7 377.3,114.8 372.5,113.3 C367.7,111.8 362.1,109.5 358.0,107.1 C353.9,104.7 350.8,101.9 347.7,98.8 C344.6,95.7 341.6,92.3 339.5,88.5 C337.4,84.7 335.7,80.2 335.3,76.1Z" fill="none" stroke="#3a3020" stroke-width="0.5" opacity="0.35"/><g clip-path="url(#c3)"><g filter="url(#enh)"><path d="M28.1,177.0 C28.2,173.3 29.2,168.4 30.8,164.5 C32.4,160.6 34.9,157.0 37.9,153.7 C40.9,150.4 44.8,147.2 48.7,144.7 C52.6,142.2 57.1,140.1 61.3,138.5 C65.5,136.9 69.6,135.6 73.8,134.9 C78.0,134.2 82.2,133.9 86.4,134.3 C90.6,134.8 95.1,136.2 99.0,137.6 C102.9,139.0 106.4,140.5 109.7,142.9 C113.0,145.3 116.2,148.6 118.7,151.9 C121.2,155.2 123.5,158.8 125.0,162.7 C126.5,166.6 127.5,171.0 127.7,175.2 C127.9,179.4 127.1,183.9 125.9,187.8 C124.7,191.7 122.9,195.3 120.5,198.6 C118.1,201.9 115.1,205.0 111.5,207.5 C107.9,210.0 103.5,212.2 99.0,213.8 C94.5,215.5 89.4,216.8 84.6,217.4 C79.8,218.0 75.0,218.2 70.2,217.4 C65.4,216.7 60.1,214.9 55.9,212.9 C51.7,210.9 48.4,208.4 45.1,205.7 C41.8,203.0 38.6,199.9 36.1,196.8 C33.6,193.7 31.2,190.2 29.9,186.9 C28.6,183.6 28.0,180.7 28.1,177.0Z" fill="#b89868"/><g filter="url(#gb3)"><rect x="18.1" y="124.3" width="36.9" height="17.7" fill="#a09078"/><rect x="55.0" y="124.3" width="45.0" height="17.7" fill="#a8a090"/><rect x="100.0" y="124.3" width="37.7" height="17.7" fill="#a8a498"/><rect x="18.1" y="142.0" width="21.9" height="10.0" fill="#9a8870"/><rect x="40.0" y="142.0" width="15.0" height="10.0" fill="#9a8870"/><rect x="55.0" y="142.0" width="20.0" height="10.0" fill="#b09878"/><rect x="75.0" y="142.0" width="10.0" height="10.0" fill="#c8c8c0"/><rect x="85.0" y="142.0" width="10.0" height="10.0" fill="#90b8b0"/><rect x="95.0" y="142.0" width="15.0" height="10.0" fill="#c8c8c0"/><rect x="110.0" y="142.0" width="8.0" height="10.0" fill="#a07838"/><rect x="118.0" y="142.0" width="19.7" height="10.0" fill="#a09888"/><rect x="18.1" y="152.0" width="13.9" height="10.0" fill="#80a098"/><rect x="32.0" y="152.0" width="8.0" height="10.0" fill="#80a098"/><rect x="40.0" y="152.0" width="10.0" height="10.0" fill="#c8c8c0"/><rect x="50.0" y="152.0" width="15.0" height="10.0" fill="#a07838"/><rect x="65.0" y="152.0" width="10.0" height="10.0" fill="#c8e0dc"/><rect x="75.0" y="152.0" width="13.0" height="10.0" fill="#e0dcd0"/><rect x="88.0" y="152.0" width="12.0" height="10.0" fill="#d8ccb0"/><rect x="100.0" y="152.0" width="5.0" height="10.0" fill="#e8e8e0"/><rect x="105.0" y="152.0" width="15.0" height="10.0" fill="#9a6a30"/><rect x="120.0" y="152.0" width="17.7" height="10.0" fill="#a89c88"/><rect x="18.1" y="162.0" width="16.9" height="10.0" fill="#6a9890"/><rect x="35.0" y="162.0" width="7.0" height="10.0" fill="#3a8880"/><rect x="42.0" y="162.0" width="8.0" height="10.0" fill="#c8a068"/><rect x="50.0" y="162.0" width="8.0" height="10.0" fill="#c0dcd8"/><rect x="58.0" y="162.0" width="14.0" height="10.0" fill="#d0e4e0"/><rect x="72.0" y="162.0" width="10.0" height="10.0" fill="#60b0a4"/><rect x="82.0" y="162.0" width="13.0" height="10.0" fill="#c8a878"/><rect x="95.0" y="162.0" width="10.0" height="10.0" fill="#1a7a6c"/><rect x="105.0" y="162.0" width="7.0" height="10.0" fill="#60a8a0"/><rect x="112.0" y="162.0" width="8.0" height="10.0" fill="#a07030"/><rect x="120.0" y="162.0" width="17.7" height="10.0" fill="#b0a898"/><rect x="18.1" y="172.0" width="14.9" height="10.0" fill="#9a7040"/><rect x="33.0" y="172.0" width="7.0" height="10.0" fill="#2a8070"/><rect x="40.0" y="172.0" width="8.0" height="10.0" fill="#c8a470"/><rect x="48.0" y="172.0" width="12.0" height="10.0" fill="#9a6a28"/><rect x="60.0" y="172.0" width="25.0" height="10.0" fill="#a87c40"/><rect x="85.0" y="172.0" width="10.0" height="10.0" fill="#a87838"/><rect x="95.0" y="172.0" width="10.0" height="10.0" fill="#b08848"/><rect x="105.0" y="172.0" width="7.0" height="10.0" fill="#d0d0c8"/><rect x="112.0" y="172.0" width="10.0" height="10.0" fill="#1a6a60"/><rect x="122.0" y="172.0" width="15.7" height="10.0" fill="#9a8868"/><rect x="18.1" y="182.0" width="19.9" height="10.0" fill="#7a9890"/><rect x="38.0" y="182.0" width="7.0" height="10.0" fill="#c8c8c0"/><rect x="45.0" y="182.0" width="15.0" height="10.0" fill="#8a5a20"/><rect x="60.0" y="182.0" width="15.0" height="10.0" fill="#a07030"/><rect x="75.0" y="182.0" width="7.0" height="10.0" fill="#d8d8d0"/><rect x="82.0" y="182.0" width="13.0" height="10.0" fill="#30a090"/><rect x="95.0" y="182.0" width="7.0" height="10.0" fill="#e0e0d8"/><rect x="102.0" y="182.0" width="10.0" height="10.0" fill="#6a4418"/><rect x="112.0" y="182.0" width="8.0" height="10.0" fill="#1a6a60"/><rect x="120.0" y="182.0" width="17.7" height="10.0" fill="#9a6a30"/><rect x="18.1" y="192.0" width="21.9" height="10.0" fill="#8a6030"/><rect x="40.0" y="192.0" width="10.0" height="10.0" fill="#c8c0b0"/><rect x="50.0" y="192.0" width="15.0" height="10.0" fill="#9a6a28"/><rect x="65.0" y="192.0" width="10.0" height="10.0" fill="#a87c40"/><rect x="75.0" y="192.0" width="10.0" height="10.0" fill="#b0d8d0"/><rect x="85.0" y="192.0" width="15.0" height="10.0" fill="#c8a470"/><rect x="100.0" y="192.0" width="10.0" height="10.0" fill="#a07838"/><rect x="110.0" y="192.0" width="10.0" height="10.0" fill="#5a9890"/><rect x="120.0" y="192.0" width="17.7" height="10.0" fill="#9a6a30"/><rect x="18.1" y="202.0" width="31.9" height="10.0" fill="#9a8870"/><rect x="50.0" y="202.0" width="45.0" height="10.0" fill="#9a6a30"/><rect x="95.0" y="202.0" width="15.0" height="10.0" fill="#8a7a60"/><rect x="110.0" y="202.0" width="27.7" height="10.0" fill="#9a6a30"/><rect x="18.1" y="212.0" width="81.9" height="15.4" fill="#8a7050"/><rect x="100.0" y="212.0" width="37.7" height="15.4" fill="#7a6448"/></g><g><ellipse cx="37.0" cy="175.0" rx="4.7" ry="12.9" fill="url(#g42)" opacity="0.80"/><ellipse cx="33.0" cy="165.0" rx="3.5" ry="7.1" fill="url(#g43)" opacity="0.60"/><ellipse cx="67.0" cy="168.0" rx="8.2" ry="5.9" fill="url(#g44)" opacity="0.70"/><ellipse cx="78.0" cy="166.0" rx="5.9" ry="4.7" fill="url(#g36)" opacity="0.70"/><ellipse cx="66.0" cy="157.0" rx="5.9" ry="3.5" fill="url(#g3)" opacity="0.60"/><ellipse cx="100.0" cy="168.0" rx="5.9" ry="7.1" fill="url(#g19)" opacity="0.85"/><ellipse cx="88.0" cy="190.0" rx="9.4" ry="4.7" fill="url(#g45)" opacity="0.85"/><ellipse cx="88.0" cy="190.0" rx="4.7" ry="2.9" fill="url(#g46)" opacity="0.70"/><ellipse cx="117.0" cy="183.0" rx="4.7" ry="9.4" fill="url(#g47)" opacity="0.80"/><ellipse cx="108.0" cy="188.0" rx="3.5" ry="3.5" fill="url(#g48)" opacity="0.80"/><ellipse cx="55.0" cy="185.0" rx="12.2" ry="9.5" fill="url(#g12)" opacity="0.60"/><ellipse cx="70.0" cy="195.0" rx="13.5" ry="6.8" fill="url(#g3)" opacity="0.50"/><ellipse cx="113.0" cy="160.0" rx="5.9" ry="5.9" fill="url(#g12)" opacity="0.60"/><ellipse cx="72.0" cy="150.0" rx="7.1" ry="2.9" fill="url(#g11)" opacity="0.60"/><ellipse cx="80.0" cy="156.0" rx="7.1" ry="4.7" fill="url(#g49)" opacity="0.60"/><ellipse cx="98.0" cy="180.0" rx="4.7" ry="3.5" fill="url(#g50)" opacity="0.60"/><ellipse cx="80.0" cy="198.0" rx="4.7" ry="3.5" fill="url(#g51)" opacity="0.60"/><circle cx="73.6" cy="208.8" r="1.1" fill="url(#g10)" opacity="0.33"/><circle cx="39.4" cy="162.6" r="2.4" fill="url(#g10)" opacity="0.38"/><circle cx="39.6" cy="188.2" r="2.0" fill="url(#g10)" opacity="0.39"/><circle cx="88.8" cy="142.2" r="2.5" fill="url(#g10)" opacity="0.29"/><circle cx="79.3" cy="204.8" r="2.4" fill="url(#g10)" opacity="0.28"/><circle cx="58.8" cy="198.2" r="1.4" fill="url(#g10)" opacity="0.30"/><circle cx="42.9" cy="159.2" r="2.3" fill="url(#g10)" opacity="0.39"/><circle cx="47.9" cy="170.1" r="1.1" fill="url(#g10)" opacity="0.43"/><circle cx="89.2" cy="183.3" r="1.2" fill="url(#g10)" opacity="0.43"/><circle cx="73.9" cy="140.9" r="2.6" fill="url(#g10)" opacity="0.53"/><circle cx="55.6" cy="178.8" r="1.9" fill="url(#g10)" opacity="0.49"/><circle cx="41.5" cy="165.8" r="2.3" fill="url(#g10)" opacity="0.47"/><circle cx="75.7" cy="211.5" r="2.5" fill="url(#g10)" opacity="0.38"/><circle cx="108.8" cy="149.2" r="1.3" fill="url(#g10)" opacity="0.54"/><circle cx="95.6" cy="147.4" r="1.6" fill="url(#g10)" opacity="0.48"/><circle cx="109.4" cy="152.9" r="1.7" fill="url(#g10)" opacity="0.38"/><circle cx="75.4" cy="159.3" r="1.4" fill="url(#g10)" opacity="0.49"/><circle cx="114.4" cy="159.5" r="2.3" fill="url(#g10)" opacity="0.34"/><circle cx="66.9" cy="190.6" r="1.7" fill="url(#g10)" opacity="0.41"/><circle cx="90.2" cy="154.6" r="1.8" fill="url(#g10)" opacity="0.44"/><circle cx="122.0" cy="183.5" r="1.1" fill="url(#g10)" opacity="0.36"/><circle cx="101.2" cy="142.1" r="2.0" fill="url(#g10)" opacity="0.42"/></g><rect x="26.1" y="132.3" width="103.6" height="87.1" filter="url(#bump)" opacity="0.60" style="mix-blend-mode:soft-light"/><path d="M28.1,177.0 C28.2,173.3 29.2,168.4 30.8,164.5 C32.4,160.6 34.9,157.0 37.9,153.7 C40.9,150.4 44.8,147.2 48.7,144.7 C52.6,142.2 57.1,140.1 61.3,138.5 C65.5,136.9 69.6,135.6 73.8,134.9 C78.0,134.2 82.2,133.9 86.4,134.3 C90.6,134.8 95.1,136.2 99.0,137.6 C102.9,139.0 106.4,140.5 109.7,142.9 C113.0,145.3 116.2,148.6 118.7,151.9 C121.2,155.2 123.5,158.8 125.0,162.7 C126.5,166.6 127.5,171.0 127.7,175.2 C127.9,179.4 127.1,183.9 125.9,187.8 C124.7,191.7 122.9,195.3 120.5,198.6 C118.1,201.9 115.1,205.0 111.5,207.5 C107.9,210.0 103.5,212.2 99.0,213.8 C94.5,215.5 89.4,216.8 84.6,217.4 C79.8,218.0 75.0,218.2 70.2,217.4 C65.4,216.7 60.1,214.9 55.9,212.9 C51.7,210.9 48.4,208.4 45.1,205.7 C41.8,203.0 38.6,199.9 36.1,196.8 C33.6,193.7 31.2,190.2 29.9,186.9 C28.6,183.6 28.0,180.7 28.1,177.0Z" fill="none" stroke="#4a3818" stroke-width="2.0" opacity="0.30" filter="url(#b2)"/></g></g><path d="M28.1,177.0 C28.2,173.3 29.2,168.4 30.8,164.5 C32.4,160.6 34.9,157.0 37.9,153.7 C40.9,150.4 44.8,147.2 48.7,144.7 C52.6,142.2 57.1,140.1 61.3,138.5 C65.5,136.9 69.6,135.6 73.8,134.9 C78.0,134.2 82.2,133.9 86.4,134.3 C90.6,134.8 95.1,136.2 99.0,137.6 C102.9,139.0 106.4,140.5 109.7,142.9 C113.0,145.3 116.2,148.6 118.7,151.9 C121.2,155.2 123.5,158.8 125.0,162.7 C126.5,166.6 127.5,171.0 127.7,175.2 C127.9,179.4 127.1,183.9 125.9,187.8 C124.7,191.7 122.9,195.3 120.5,198.6 C118.1,201.9 115.1,205.0 111.5,207.5 C107.9,210.0 103.5,212.2 99.0,213.8 C94.5,215.5 89.4,216.8 84.6,217.4 C79.8,218.0 75.0,218.2 70.2,217.4 C65.4,216.7 60.1,214.9 55.9,212.9 C51.7,210.9 48.4,208.4 45.1,205.7 C41.8,203.0 38.6,199.9 36.1,196.8 C33.6,193.7 31.2,190.2 29.9,186.9 C28.6,183.6 28.0,180.7 28.1,177.0Z" fill="none" stroke="#3a3020" stroke-width="0.5" opacity="0.35"/><g clip-path="url(#c4)"><g filter="url(#enh)"><path d="M176.6,174.3 C176.9,171.2 177.8,166.5 179.5,163.0 C181.2,159.5 183.9,156.5 187.1,153.5 C190.3,150.5 194.4,147.3 198.5,144.9 C202.6,142.5 207.4,140.9 211.8,139.2 C216.2,137.5 220.6,135.5 225.0,134.9 C229.4,134.3 233.9,134.5 238.3,135.4 C242.7,136.3 247.2,138.4 251.6,140.2 C256.0,141.9 260.8,143.7 264.9,145.9 C269.0,148.1 272.8,151.0 276.3,153.5 C279.8,156.0 283.4,157.9 285.8,161.1 C288.2,164.2 289.9,168.3 290.5,172.4 C291.1,176.5 290.7,181.6 289.6,185.7 C288.5,189.8 286.8,193.9 283.9,197.1 C281.0,200.3 276.9,202.8 272.5,204.7 C268.1,206.6 262.4,207.7 257.3,208.5 C252.2,209.3 247.2,209.0 242.1,209.5 C237.0,210.0 231.9,210.9 226.9,211.4 C221.9,211.9 216.5,212.8 211.8,212.3 C207.1,211.8 202.3,210.4 198.5,208.5 C194.7,206.6 191.8,204.1 189.0,200.9 C186.2,197.7 183.3,192.7 181.4,189.5 C179.5,186.3 178.4,184.4 177.6,181.9 C176.8,179.4 176.3,177.5 176.6,174.3Z" fill="#c8a878"/><g filter="url(#gb4)"><rect x="166.6" y="124.9" width="48.4" height="17.1" fill="#a89070"/><rect x="215.0" y="124.9" width="35.0" height="17.1" fill="#c0b090"/><rect x="250.0" y="124.9" width="15.0" height="17.1" fill="#c8c8c0"/><rect x="265.0" y="124.9" width="35.5" height="17.1" fill="#a89880"/><rect x="166.6" y="142.0" width="33.4" height="8.0" fill="#9a8060"/><rect x="200.0" y="142.0" width="15.0" height="8.0" fill="#b8a888"/><rect x="215.0" y="142.0" width="10.0" height="8.0" fill="#b8d8d0"/><rect x="225.0" y="142.0" width="15.0" height="8.0" fill="#5a3410"/><rect x="240.0" y="142.0" width="18.0" height="8.0" fill="#8a5820"/><rect x="258.0" y="142.0" width="42.5" height="8.0" fill="#a89070"/><rect x="166.6" y="150.0" width="18.4" height="8.0" fill="#8a7050"/><rect x="185.0" y="150.0" width="10.0" height="8.0" fill="#8a6030"/><rect x="195.0" y="150.0" width="30.0" height="8.0" fill="#dcd8cc"/><rect x="225.0" y="150.0" width="7.0" height="8.0" fill="#b08850"/><rect x="232.0" y="150.0" width="13.0" height="8.0" fill="#9a6a30"/><rect x="245.0" y="150.0" width="17.0" height="8.0" fill="#7a4a18"/><rect x="262.0" y="150.0" width="13.0" height="8.0" fill="#c8c8c0"/><rect x="275.0" y="150.0" width="25.5" height="8.0" fill="#906838"/><rect x="166.6" y="158.0" width="13.4" height="10.0" fill="#6a9890"/><rect x="180.0" y="158.0" width="8.0" height="10.0" fill="#7a9888"/><rect x="188.0" y="158.0" width="12.0" height="10.0" fill="#c8b898"/><rect x="200.0" y="158.0" width="15.0" height="10.0" fill="#e0dcd0"/><rect x="215.0" y="158.0" width="7.0" height="10.0" fill="#d0b890"/><rect x="222.0" y="158.0" width="10.0" height="10.0" fill="#9a6a30"/><rect x="232.0" y="158.0" width="13.0" height="10.0" fill="#b89058"/><rect x="245.0" y="158.0" width="13.0" height="10.0" fill="#8a5a20"/><rect x="258.0" y="158.0" width="5.0" height="10.0" fill="#e0e4e0"/><rect x="263.0" y="158.0" width="24.0" height="10.0" fill="#0a6458"/><rect x="287.0" y="158.0" width="13.5" height="10.0" fill="#8a6030"/><rect x="166.6" y="168.0" width="18.4" height="10.0" fill="#2a8878"/><rect x="185.0" y="168.0" width="10.0" height="10.0" fill="#5aa898"/><rect x="195.0" y="168.0" width="10.0" height="10.0" fill="#c8a878"/><rect x="205.0" y="168.0" width="10.0" height="10.0" fill="#d8d8d0"/><rect x="215.0" y="168.0" width="17.0" height="10.0" fill="#d0b088"/><rect x="232.0" y="168.0" width="13.0" height="10.0" fill="#c8a068"/><rect x="245.0" y="168.0" width="13.0" height="10.0" fill="#a87838"/><rect x="258.0" y="168.0" width="5.0" height="10.0" fill="#e8ece8"/><rect x="263.0" y="168.0" width="24.0" height="10.0" fill="#0a6458"/><rect x="287.0" y="168.0" width="13.5" height="10.0" fill="#8a6030"/><rect x="166.6" y="178.0" width="21.4" height="10.0" fill="#3a9888"/><rect x="188.0" y="178.0" width="10.0" height="10.0" fill="#a8d0c8"/><rect x="198.0" y="178.0" width="12.0" height="10.0" fill="#c09060"/><rect x="210.0" y="178.0" width="22.0" height="10.0" fill="#c8a878"/><rect x="232.0" y="178.0" width="13.0" height="10.0" fill="#d0b080"/><rect x="245.0" y="178.0" width="13.0" height="10.0" fill="#a87c40"/><rect x="258.0" y="178.0" width="10.0" height="10.0" fill="#d0e4e0"/><rect x="268.0" y="178.0" width="14.0" height="10.0" fill="#a8d0c8"/><rect x="282.0" y="178.0" width="18.5" height="10.0" fill="#9a6a30"/><rect x="166.6" y="188.0" width="25.4" height="10.0" fill="#5a9890"/><rect x="192.0" y="188.0" width="13.0" height="10.0" fill="#c8c8c0"/><rect x="205.0" y="188.0" width="15.0" height="10.0" fill="#c09860"/><rect x="220.0" y="188.0" width="12.0" height="10.0" fill="#a07030"/><rect x="232.0" y="188.0" width="18.0" height="10.0" fill="#c0a880"/><rect x="250.0" y="188.0" width="10.0" height="10.0" fill="#906030"/><rect x="260.0" y="188.0" width="10.0" height="10.0" fill="#70b0a4"/><rect x="270.0" y="188.0" width="13.0" height="10.0" fill="#d0d4d0"/><rect x="283.0" y="188.0" width="17.5" height="10.0" fill="#8a6030"/><rect x="166.6" y="198.0" width="38.4" height="10.0" fill="#a09078"/><rect x="205.0" y="198.0" width="20.0" height="10.0" fill="#b8c8c0"/><rect x="225.0" y="198.0" width="35.0" height="10.0" fill="#9a6a30"/><rect x="260.0" y="198.0" width="20.0" height="10.0" fill="#b09878"/><rect x="280.0" y="198.0" width="20.5" height="10.0" fill="#8a6030"/><rect x="166.6" y="208.0" width="38.4" height="14.3" fill="#9a8870"/><rect x="205.0" y="208.0" width="20.0" height="14.3" fill="#a0b0a8"/><rect x="225.0" y="208.0" width="35.0" height="14.3" fill="#8a6a40"/><rect x="260.0" y="208.0" width="40.5" height="14.3" fill="#8a7050"/></g><g><ellipse cx="233.0" cy="151.0" rx="7.1" ry="3.5" fill="url(#g52)" opacity="0.85"/><ellipse cx="225.0" cy="144.0" rx="5.9" ry="3.5" fill="url(#g53)" opacity="0.60"/><ellipse cx="222.0" cy="146.0" rx="3.5" ry="2.9" fill="url(#g54)" opacity="0.70"/><ellipse cx="252.0" cy="157.0" rx="10.8" ry="10.8" fill="url(#g55)" opacity="0.70"/><ellipse cx="242.0" cy="147.0" rx="9.4" ry="3.5" fill="url(#g56)" opacity="0.60"/><ellipse cx="262.0" cy="170.0" rx="4.7" ry="12.9" fill="url(#g53)" opacity="0.70"/><ellipse cx="275.0" cy="169.0" rx="13.8" ry="12.6" fill="url(#g57)" opacity="0.95"/><ellipse cx="277.0" cy="167.0" rx="9.4" ry="8.2" fill="url(#g58)" opacity="0.60"/><ellipse cx="268.0" cy="160.0" rx="5.8" ry="4.6" fill="url(#g57)" opacity="0.80"/><ellipse cx="270.0" cy="183.0" rx="8.2" ry="3.5" fill="url(#g59)" opacity="0.70"/><ellipse cx="265.0" cy="186.0" rx="3.5" ry="3.5" fill="url(#g60)" opacity="0.80"/><ellipse cx="262.0" cy="192.0" rx="3.5" ry="3.5" fill="url(#g61)" opacity="0.70"/><ellipse cx="184.0" cy="178.0" rx="4.1" ry="10.6" fill="url(#g62)" opacity="0.85"/><ellipse cx="190.0" cy="188.0" rx="4.7" ry="5.9" fill="url(#g61)" opacity="0.70"/><ellipse cx="213.0" cy="207.0" rx="7.1" ry="2.9" fill="url(#g63)" opacity="0.70"/><ellipse cx="218.0" cy="172.0" rx="2.9" ry="2.9" fill="url(#g60)" opacity="0.70"/><ellipse cx="235.0" cy="168.0" rx="2.9" ry="2.9" fill="url(#g60)" opacity="0.70"/><ellipse cx="228.0" cy="178.0" rx="2.4" ry="2.4" fill="url(#g12)" opacity="0.60"/><ellipse cx="200.0" cy="165.0" rx="2.4" ry="2.4" fill="url(#g12)" opacity="0.60"/><ellipse cx="212.0" cy="186.0" rx="2.4" ry="2.4" fill="url(#g12)" opacity="0.60"/><ellipse cx="223.0" cy="167.0" rx="3.5" ry="3.5" fill="url(#g60)" opacity="0.80"/><ellipse cx="194.0" cy="176.0" rx="2.9" ry="2.9" fill="url(#g60)" opacity="0.80"/><ellipse cx="215.0" cy="175.0" rx="3.5" ry="3.5" fill="url(#g25)" opacity="0.60"/><ellipse cx="205.0" cy="157.0" rx="9.4" ry="5.9" fill="url(#g64)" opacity="0.60"/><ellipse cx="210.0" cy="175.0" rx="5.9" ry="4.7" fill="url(#g65)" opacity="0.60"/><ellipse cx="240.0" cy="193.0" rx="13.5" ry="5.4" fill="url(#g25)" opacity="0.50" transform="rotate(-20 240.0 193.0)"/><circle cx="247.4" cy="205.4" r="1.8" fill="url(#g10)" opacity="0.46"/><circle cx="285.1" cy="175.3" r="2.2" fill="url(#g10)" opacity="0.47"/><circle cx="262.6" cy="154.1" r="2.2" fill="url(#g10)" opacity="0.30"/><circle cx="217.1" cy="168.8" r="1.4" fill="url(#g10)" opacity="0.29"/><circle cx="234.4" cy="185.6" r="1.5" fill="url(#g10)" opacity="0.45"/><circle cx="254.5" cy="166.5" r="1.7" fill="url(#g10)" opacity="0.32"/><circle cx="266.2" cy="194.7" r="1.7" fill="url(#g10)" opacity="0.50"/><circle cx="201.9" cy="160.9" r="2.5" fill="url(#g10)" opacity="0.32"/><circle cx="253.9" cy="199.7" r="1.1" fill="url(#g10)" opacity="0.39"/><circle cx="221.3" cy="159.6" r="1.4" fill="url(#g10)" opacity="0.37"/><circle cx="198.1" cy="176.5" r="2.0" fill="url(#g10)" opacity="0.45"/><circle cx="230.5" cy="175.5" r="2.5" fill="url(#g10)" opacity="0.30"/><circle cx="198.2" cy="157.5" r="2.2" fill="url(#g10)" opacity="0.38"/><circle cx="189.5" cy="185.9" r="1.4" fill="url(#g10)" opacity="0.39"/><circle cx="202.6" cy="158.2" r="1.3" fill="url(#g10)" opacity="0.52"/><circle cx="248.2" cy="172.5" r="1.4" fill="url(#g10)" opacity="0.50"/><circle cx="240.8" cy="143.8" r="1.3" fill="url(#g10)" opacity="0.54"/><circle cx="212.6" cy="166.3" r="1.2" fill="url(#g10)" opacity="0.51"/><circle cx="203.6" cy="178.8" r="2.2" fill="url(#g10)" opacity="0.41"/><circle cx="218.9" cy="154.1" r="2.1" fill="url(#g10)" opacity="0.33"/><circle cx="283.4" cy="187.5" r="2.0" fill="url(#g10)" opacity="0.30"/><circle cx="237.4" cy="168.0" r="2.4" fill="url(#g10)" opacity="0.48"/></g><rect x="174.6" y="132.9" width="117.9" height="81.4" filter="url(#bump)" opacity="0.60" style="mix-blend-mode:soft-light"/><path d="M176.6,174.3 C176.9,171.2 177.8,166.5 179.5,163.0 C181.2,159.5 183.9,156.5 187.1,153.5 C190.3,150.5 194.4,147.3 198.5,144.9 C202.6,142.5 207.4,140.9 211.8,139.2 C216.2,137.5 220.6,135.5 225.0,134.9 C229.4,134.3 233.9,134.5 238.3,135.4 C242.7,136.3 247.2,138.4 251.6,140.2 C256.0,141.9 260.8,143.7 264.9,145.9 C269.0,148.1 272.8,151.0 276.3,153.5 C279.8,156.0 283.4,157.9 285.8,161.1 C288.2,164.2 289.9,168.3 290.5,172.4 C291.1,176.5 290.7,181.6 289.6,185.7 C288.5,189.8 286.8,193.9 283.9,197.1 C281.0,200.3 276.9,202.8 272.5,204.7 C268.1,206.6 262.4,207.7 257.3,208.5 C252.2,209.3 247.2,209.0 242.1,209.5 C237.0,210.0 231.9,210.9 226.9,211.4 C221.9,211.9 216.5,212.8 211.8,212.3 C207.1,211.8 202.3,210.4 198.5,208.5 C194.7,206.6 191.8,204.1 189.0,200.9 C186.2,197.7 183.3,192.7 181.4,189.5 C179.5,186.3 178.4,184.4 177.6,181.9 C176.8,179.4 176.3,177.5 176.6,174.3Z" fill="none" stroke="#4a3818" stroke-width="2.0" opacity="0.30" filter="url(#b2)"/></g></g><path d="M176.6,174.3 C176.9,171.2 177.8,166.5 179.5,163.0 C181.2,159.5 183.9,156.5 187.1,153.5 C190.3,150.5 194.4,147.3 198.5,144.9 C202.6,142.5 207.4,140.9 211.8,139.2 C216.2,137.5 220.6,135.5 225.0,134.9 C229.4,134.3 233.9,134.5 238.3,135.4 C242.7,136.3 247.2,138.4 251.6,140.2 C256.0,141.9 260.8,143.7 264.9,145.9 C269.0,148.1 272.8,151.0 276.3,153.5 C279.8,156.0 283.4,157.9 285.8,161.1 C288.2,164.2 289.9,168.3 290.5,172.4 C291.1,176.5 290.7,181.6 289.6,185.7 C288.5,189.8 286.8,193.9 283.9,197.1 C281.0,200.3 276.9,202.8 272.5,204.7 C268.1,206.6 262.4,207.7 257.3,208.5 C252.2,209.3 247.2,209.0 242.1,209.5 C237.0,210.0 231.9,210.9 226.9,211.4 C221.9,211.9 216.5,212.8 211.8,212.3 C207.1,211.8 202.3,210.4 198.5,208.5 C194.7,206.6 191.8,204.1 189.0,200.9 C186.2,197.7 183.3,192.7 181.4,189.5 C179.5,186.3 178.4,184.4 177.6,181.9 C176.8,179.4 176.3,177.5 176.6,174.3Z" fill="none" stroke="#3a3020" stroke-width="0.5" opacity="0.35"/><g clip-path="url(#c5)"><g filter="url(#enh)"><path d="M338.3,186.1 C338.1,181.9 338.5,179.4 339.0,176.0 C339.5,172.6 340.1,169.0 341.2,165.9 C342.3,162.8 343.8,160.2 345.5,157.3 C347.2,154.4 348.7,151.5 351.3,148.6 C353.9,145.7 356.6,142.9 361.3,140.0 C366.0,137.1 373.8,133.3 379.6,131.4 C385.4,129.5 391.0,128.9 396.1,128.7 C401.2,128.5 406.0,128.8 410.5,130.3 C415.0,131.8 419.1,134.8 422.9,137.6 C426.7,140.3 430.2,142.9 433.3,146.8 C436.4,150.8 439.3,156.5 441.5,161.3 C443.7,166.1 445.7,171.3 446.7,175.8 C447.7,180.3 448.1,183.9 447.7,188.2 C447.3,192.5 446.0,197.8 444.4,201.4 C442.8,205.0 440.7,207.1 438.0,209.5 C435.3,211.9 431.8,214.0 428.3,215.9 C424.8,217.8 421.1,219.4 417.1,220.7 C413.1,222.0 409.0,223.1 404.2,223.9 C399.4,224.7 393.1,225.3 388.2,225.5 C383.3,225.7 377.7,225.6 375.0,224.8 C372.3,224.0 373.9,222.1 372.1,220.9 C370.3,219.7 367.3,218.6 364.1,217.5 C360.9,216.4 356.0,215.6 352.8,214.3 C349.6,213.0 346.9,211.7 344.8,209.5 C342.7,207.3 341.1,205.3 340.0,201.4 C338.9,197.5 338.5,190.3 338.3,186.1Z" fill="#c09a68"/><g filter="url(#gb5)"><rect x="328.3" y="118.7" width="46.7" height="17.3" fill="#a09078"/><rect x="375.0" y="118.7" width="19.0" height="17.3" fill="#a8b0a0"/><rect x="394.0" y="118.7" width="26.0" height="17.3" fill="#98a8a0"/><rect x="420.0" y="118.7" width="37.7" height="17.3" fill="#a0a090"/><rect x="328.3" y="136.0" width="31.7" height="9.0" fill="#8a7050"/><rect x="360.0" y="136.0" width="15.0" height="9.0" fill="#b0a080"/><rect x="375.0" y="136.0" width="19.0" height="9.0" fill="#d8d4c4"/><rect x="394.0" y="136.0" width="11.0" height="9.0" fill="#b09058"/><rect x="405.0" y="136.0" width="15.0" height="9.0" fill="#d8d4cc"/><rect x="420.0" y="136.0" width="37.7" height="9.0" fill="#a8a090"/><rect x="328.3" y="145.0" width="21.7" height="10.0" fill="#8a6a40"/><rect x="350.0" y="145.0" width="8.0" height="10.0" fill="#6a4818"/><rect x="358.0" y="145.0" width="12.0" height="10.0" fill="#8a5a20"/><rect x="370.0" y="145.0" width="15.0" height="10.0" fill="#ecdcbc"/><rect x="385.0" y="145.0" width="9.0" height="10.0" fill="#e0dcd0"/><rect x="394.0" y="145.0" width="6.0" height="10.0" fill="#c8e0d8"/><rect x="400.0" y="145.0" width="12.0" height="10.0" fill="#e8dcc0"/><rect x="412.0" y="145.0" width="13.0" height="10.0" fill="#eeeae2"/><rect x="425.0" y="145.0" width="32.7" height="10.0" fill="#b8a078"/><rect x="328.3" y="155.0" width="21.7" height="10.0" fill="#9a7848"/><rect x="350.0" y="155.0" width="10.0" height="10.0" fill="#7a4a18"/><rect x="360.0" y="155.0" width="12.0" height="10.0" fill="#a87838"/><rect x="372.0" y="155.0" width="13.0" height="10.0" fill="#f0e4c8"/><rect x="385.0" y="155.0" width="9.0" height="10.0" fill="#d0b080"/><rect x="394.0" y="155.0" width="6.0" height="10.0" fill="#a07838"/><rect x="400.0" y="155.0" width="15.0" height="10.0" fill="#d0b080"/><rect x="415.0" y="155.0" width="13.0" height="10.0" fill="#ece0c4"/><rect x="428.0" y="155.0" width="29.7" height="10.0" fill="#b08850"/><rect x="328.3" y="165.0" width="21.7" height="10.0" fill="#9a7040"/><rect x="350.0" y="165.0" width="10.0" height="10.0" fill="#7a4a14"/><rect x="360.0" y="165.0" width="12.0" height="10.0" fill="#e8dcc4"/><rect x="372.0" y="165.0" width="18.0" height="10.0" fill="#9a6a28"/><rect x="390.0" y="165.0" width="8.0" height="10.0" fill="#a07030"/><rect x="398.0" y="165.0" width="14.0" height="10.0" fill="#d0e4e0"/><rect x="412.0" y="165.0" width="16.0" height="10.0" fill="#eee4cc"/><rect x="428.0" y="165.0" width="29.7" height="10.0" fill="#c8b088"/><rect x="328.3" y="175.0" width="21.7" height="10.0" fill="#8a5a20"/><rect x="350.0" y="175.0" width="15.0" height="10.0" fill="#6a4010"/><rect x="365.0" y="175.0" width="10.0" height="10.0" fill="#7a4a14"/><rect x="375.0" y="175.0" width="15.0" height="10.0" fill="#b08848"/><rect x="390.0" y="175.0" width="10.0" height="10.0" fill="#9a6a28"/><rect x="400.0" y="175.0" width="15.0" height="10.0" fill="#a87838"/><rect x="415.0" y="175.0" width="13.0" height="10.0" fill="#ece0c4"/><rect x="428.0" y="175.0" width="5.0" height="10.0" fill="#c8a878"/><rect x="433.0" y="175.0" width="7.0" height="10.0" fill="#d0dcdc"/><rect x="440.0" y="175.0" width="17.7" height="10.0" fill="#b09070"/><rect x="328.3" y="185.0" width="19.7" height="10.0" fill="#b09060"/><rect x="348.0" y="185.0" width="17.0" height="10.0" fill="#6a4010"/><rect x="365.0" y="185.0" width="13.0" height="10.0" fill="#a87838"/><rect x="378.0" y="185.0" width="12.0" height="10.0" fill="#c8e0dc"/><rect x="390.0" y="185.0" width="20.0" height="10.0" fill="#8a5a20"/><rect x="410.0" y="185.0" width="15.0" height="10.0" fill="#b89058"/><rect x="425.0" y="185.0" width="15.0" height="10.0" fill="#a07840"/><rect x="440.0" y="185.0" width="17.7" height="10.0" fill="#90a098"/><rect x="328.3" y="195.0" width="19.7" height="10.0" fill="#8a6030"/><rect x="348.0" y="195.0" width="12.0" height="10.0" fill="#8a5a20"/><rect x="360.0" y="195.0" width="12.0" height="10.0" fill="#c8a470"/><rect x="372.0" y="195.0" width="13.0" height="10.0" fill="#d0e4e4"/><rect x="385.0" y="195.0" width="15.0" height="10.0" fill="#c8a470"/><rect x="400.0" y="195.0" width="15.0" height="10.0" fill="#8a5a20"/><rect x="415.0" y="195.0" width="15.0" height="10.0" fill="#c8a068"/><rect x="430.0" y="195.0" width="27.7" height="10.0" fill="#9a8060"/><rect x="328.3" y="205.0" width="31.7" height="10.0" fill="#8a5a20"/><rect x="360.0" y="205.0" width="20.0" height="10.0" fill="#7a4a18"/><rect x="380.0" y="205.0" width="10.0" height="10.0" fill="#b09878"/><rect x="390.0" y="205.0" width="20.0" height="10.0" fill="#a07840"/><rect x="410.0" y="205.0" width="20.0" height="10.0" fill="#90b0a8"/><rect x="430.0" y="205.0" width="27.7" height="10.0" fill="#8a6030"/><rect x="328.3" y="215.0" width="31.7" height="20.5" fill="#8a7050"/><rect x="360.0" y="215.0" width="34.0" height="20.5" fill="#9a8058"/><rect x="394.0" y="215.0" width="31.0" height="20.5" fill="#a08868"/><rect x="425.0" y="215.0" width="32.7" height="20.5" fill="#8a7860"/></g><g><ellipse cx="358.0" cy="178.0" rx="9.5" ry="16.2" fill="url(#g60)" opacity="0.70"/><ellipse cx="357.0" cy="153.0" rx="5.9" ry="5.9" fill="url(#g66)" opacity="0.70"/><ellipse cx="364.0" cy="165.0" rx="5.9" ry="4.7" fill="url(#g12)" opacity="0.60"/><ellipse cx="385.0" cy="178.0" rx="9.4" ry="5.9" fill="url(#g3)" opacity="0.60"/><ellipse cx="405.0" cy="190.0" rx="7.1" ry="5.9" fill="url(#g12)" opacity="0.60"/><ellipse cx="380.0" cy="208.0" rx="13.5" ry="6.8" fill="url(#g12)" opacity="0.50"/><ellipse cx="378.0" cy="160.0" rx="9.5" ry="10.8" fill="url(#g67)" opacity="0.70"/><ellipse cx="365.0" cy="170.0" rx="4.7" ry="4.7" fill="url(#g68)" opacity="0.60"/><ellipse cx="420.0" cy="160.0" rx="10.8" ry="13.5" fill="url(#g69)" opacity="0.60"/><ellipse cx="403.0" cy="171.0" rx="7.1" ry="4.7" fill="url(#g70)" opacity="0.80"/><ellipse cx="380.0" cy="191.0" rx="5.9" ry="4.7" fill="url(#g71)" opacity="0.70"/><ellipse cx="378.0" cy="200.0" rx="4.7" ry="3.5" fill="url(#g72)" opacity="0.60"/><ellipse cx="396.0" cy="150.0" rx="5.9" ry="3.5" fill="url(#g73)" opacity="0.60"/><ellipse cx="395.0" cy="132.0" rx="21.2" ry="2.9" fill="url(#g74)" opacity="0.50"/><ellipse cx="425.0" cy="213.0" rx="9.4" ry="2.9" fill="url(#g74)" opacity="0.50"/><circle cx="344.3" cy="170.5" r="1.4" fill="url(#g10)" opacity="0.38"/><circle cx="365.3" cy="213.5" r="1.9" fill="url(#g10)" opacity="0.47"/><circle cx="441.4" cy="176.6" r="1.8" fill="url(#g10)" opacity="0.29"/><circle cx="377.5" cy="143.6" r="2.2" fill="url(#g10)" opacity="0.39"/><circle cx="393.6" cy="180.0" r="2.4" fill="url(#g10)" opacity="0.54"/><circle cx="378.3" cy="215.4" r="2.1" fill="url(#g10)" opacity="0.46"/><circle cx="372.4" cy="175.4" r="1.5" fill="url(#g10)" opacity="0.34"/><circle cx="426.3" cy="167.6" r="1.5" fill="url(#g10)" opacity="0.37"/><circle cx="390.0" cy="168.5" r="2.1" fill="url(#g10)" opacity="0.42"/><circle cx="384.6" cy="174.9" r="1.6" fill="url(#g10)" opacity="0.36"/><circle cx="428.2" cy="209.7" r="1.5" fill="url(#g10)" opacity="0.52"/><circle cx="402.3" cy="172.9" r="1.1" fill="url(#g10)" opacity="0.41"/><circle cx="356.1" cy="155.8" r="2.4" fill="url(#g10)" opacity="0.35"/><circle cx="428.7" cy="163.7" r="1.2" fill="url(#g10)" opacity="0.37"/><circle cx="412.7" cy="196.9" r="1.3" fill="url(#g10)" opacity="0.47"/><circle cx="397.0" cy="136.8" r="1.2" fill="url(#g10)" opacity="0.46"/><circle cx="404.3" cy="133.4" r="2.2" fill="url(#g10)" opacity="0.27"/><circle cx="366.2" cy="197.7" r="1.5" fill="url(#g10)" opacity="0.27"/><circle cx="421.6" cy="143.6" r="1.3" fill="url(#g10)" opacity="0.31"/><circle cx="350.0" cy="166.3" r="2.5" fill="url(#g10)" opacity="0.50"/><circle cx="398.7" cy="143.1" r="2.5" fill="url(#g10)" opacity="0.33"/><circle cx="395.4" cy="183.2" r="1.7" fill="url(#g10)" opacity="0.32"/></g><rect x="336.3" y="126.7" width="113.4" height="100.8" filter="url(#bump)" opacity="0.60" style="mix-blend-mode:soft-light"/><path d="M338.3,186.1 C338.1,181.9 338.5,179.4 339.0,176.0 C339.5,172.6 340.1,169.0 341.2,165.9 C342.3,162.8 343.8,160.2 345.5,157.3 C347.2,154.4 348.7,151.5 351.3,148.6 C353.9,145.7 356.6,142.9 361.3,140.0 C366.0,137.1 373.8,133.3 379.6,131.4 C385.4,129.5 391.0,128.9 396.1,128.7 C401.2,128.5 406.0,128.8 410.5,130.3 C415.0,131.8 419.1,134.8 422.9,137.6 C426.7,140.3 430.2,142.9 433.3,146.8 C436.4,150.8 439.3,156.5 441.5,161.3 C443.7,166.1 445.7,171.3 446.7,175.8 C447.7,180.3 448.1,183.9 447.7,188.2 C447.3,192.5 446.0,197.8 444.4,201.4 C442.8,205.0 440.7,207.1 438.0,209.5 C435.3,211.9 431.8,214.0 428.3,215.9 C424.8,217.8 421.1,219.4 417.1,220.7 C413.1,222.0 409.0,223.1 404.2,223.9 C399.4,224.7 393.1,225.3 388.2,225.5 C383.3,225.7 377.7,225.6 375.0,224.8 C372.3,224.0 373.9,222.1 372.1,220.9 C370.3,219.7 367.3,218.6 364.1,217.5 C360.9,216.4 356.0,215.6 352.8,214.3 C349.6,213.0 346.9,211.7 344.8,209.5 C342.7,207.3 341.1,205.3 340.0,201.4 C338.9,197.5 338.5,190.3 338.3,186.1Z" fill="none" stroke="#4a3818" stroke-width="2.0" opacity="0.30" filter="url(#b2)"/></g></g><path d="M338.3,186.1 C338.1,181.9 338.5,179.4 339.0,176.0 C339.5,172.6 340.1,169.0 341.2,165.9 C342.3,162.8 343.8,160.2 345.5,157.3 C347.2,154.4 348.7,151.5 351.3,148.6 C353.9,145.7 356.6,142.9 361.3,140.0 C366.0,137.1 373.8,133.3 379.6,131.4 C385.4,129.5 391.0,128.9 396.1,128.7 C401.2,128.5 406.0,128.8 410.5,130.3 C415.0,131.8 419.1,134.8 422.9,137.6 C426.7,140.3 430.2,142.9 433.3,146.8 C436.4,150.8 439.3,156.5 441.5,161.3 C443.7,166.1 445.7,171.3 446.7,175.8 C447.7,180.3 448.1,183.9 447.7,188.2 C447.3,192.5 446.0,197.8 444.4,201.4 C442.8,205.0 440.7,207.1 438.0,209.5 C435.3,211.9 431.8,214.0 428.3,215.9 C424.8,217.8 421.1,219.4 417.1,220.7 C413.1,222.0 409.0,223.1 404.2,223.9 C399.4,224.7 393.1,225.3 388.2,225.5 C383.3,225.7 377.7,225.6 375.0,224.8 C372.3,224.0 373.9,222.1 372.1,220.9 C370.3,219.7 367.3,218.6 364.1,217.5 C360.9,216.4 356.0,215.6 352.8,214.3 C349.6,213.0 346.9,211.7 344.8,209.5 C342.7,207.3 341.1,205.3 340.0,201.4 C338.9,197.5 338.5,190.3 338.3,186.1Z" fill="none" stroke="#3a3020" stroke-width="0.5" opacity="0.35"/><g clip-path="url(#c6)"><g filter="url(#enh)"><path d="M24.5,375.6 C24.5,372.0 25.2,367.9 26.3,364.9 C27.4,361.9 28.6,360.1 30.8,357.7 C33.0,355.3 36.1,352.8 39.7,350.5 C43.3,348.2 48.1,346.0 52.3,344.2 C56.5,342.4 60.7,340.8 64.9,339.7 C69.1,338.6 73.2,337.9 77.4,337.9 C81.6,337.9 85.8,338.2 90.0,339.7 C94.2,341.2 98.6,344.5 102.5,346.9 C106.4,349.3 110.1,351.4 113.3,354.1 C116.5,356.8 119.6,359.8 121.4,363.1 C123.2,366.4 123.8,369.9 124.1,373.8 C124.4,377.7 124.2,382.5 123.2,386.4 C122.2,390.3 120.3,393.6 117.8,397.2 C115.2,400.8 111.6,405.2 107.9,407.9 C104.2,410.6 99.9,411.9 95.4,413.3 C90.9,414.7 85.8,415.7 81.0,416.0 C76.2,416.3 71.5,416.0 66.7,415.1 C61.9,414.2 56.8,412.4 52.3,410.6 C47.8,408.8 43.1,406.8 39.7,404.3 C36.3,401.8 33.9,398.4 31.7,395.4 C29.5,392.4 27.5,389.7 26.3,386.4 C25.1,383.1 24.5,379.2 24.5,375.6Z" fill="#c8b898"/><g filter="url(#gb6)"><rect x="14.5" y="327.9" width="40.5" height="18.1" fill="#a09070"/><rect x="55.0" y="327.9" width="22.0" height="18.1" fill="#a09070"/><rect x="77.0" y="327.9" width="23.0" height="18.1" fill="#8a7050"/><rect x="100.0" y="327.9" width="34.1" height="18.1" fill="#8a7860"/><rect x="14.5" y="346.0" width="25.5" height="6.0" fill="#8a9088"/><rect x="40.0" y="346.0" width="15.0" height="6.0" fill="#a08a68"/><rect x="55.0" y="346.0" width="17.0" height="6.0" fill="#c0b8a8"/><rect x="72.0" y="346.0" width="18.0" height="6.0" fill="#b8a888"/><rect x="90.0" y="346.0" width="15.0" height="6.0" fill="#9a7040"/><rect x="105.0" y="346.0" width="29.1" height="6.0" fill="#a09070"/><rect x="14.5" y="352.0" width="15.5" height="10.0" fill="#7a9890"/><rect x="30.0" y="352.0" width="8.0" height="10.0" fill="#a8b8b0"/><rect x="38.0" y="352.0" width="7.0" height="10.0" fill="#b0b0a8"/><rect x="45.0" y="352.0" width="15.0" height="10.0" fill="#dcdcd4"/><rect x="60.0" y="352.0" width="12.0" height="10.0" fill="#d8ccb0"/><rect x="72.0" y="352.0" width="13.0" height="10.0" fill="#c8a470"/><rect x="85.0" y="352.0" width="15.0" height="10.0" fill="#a07030"/><rect x="100.0" y="352.0" width="10.0" height="10.0" fill="#8a6030"/><rect x="110.0" y="352.0" width="8.0" height="10.0" fill="#a09880"/><rect x="118.0" y="352.0" width="16.1" height="10.0" fill="#90a8a0"/><rect x="14.5" y="362.0" width="13.5" height="13.0" fill="#5a9a90"/><rect x="28.0" y="362.0" width="8.0" height="13.0" fill="#b0c0b8"/><rect x="36.0" y="362.0" width="6.0" height="13.0" fill="#8a8a80"/><rect x="42.0" y="362.0" width="10.0" height="13.0" fill="#e8e8e4"/><rect x="52.0" y="362.0" width="13.0" height="13.0" fill="#dcc8a8"/><rect x="65.0" y="362.0" width="7.0" height="13.0" fill="#c8a470"/><rect x="72.0" y="362.0" width="10.0" height="13.0" fill="#d8c090"/><rect x="82.0" y="362.0" width="13.0" height="13.0" fill="#a07030"/><rect x="95.0" y="362.0" width="13.0" height="13.0" fill="#c09858"/><rect x="108.0" y="362.0" width="7.0" height="13.0" fill="#8a6030"/><rect x="115.0" y="362.0" width="3.0" height="13.0" fill="#90a098"/><rect x="118.0" y="362.0" width="16.1" height="13.0" fill="#6a9890"/><rect x="14.5" y="375.0" width="13.5" height="13.0" fill="#90b8b0"/><rect x="28.0" y="375.0" width="4.0" height="13.0" fill="#c8d0cc"/><rect x="32.0" y="375.0" width="6.0" height="13.0" fill="#c0c0b8"/><rect x="38.0" y="375.0" width="7.0" height="13.0" fill="#b0b0a8"/><rect x="45.0" y="375.0" width="10.0" height="13.0" fill="#ecebe6"/><rect x="55.0" y="375.0" width="10.0" height="13.0" fill="#d0b890"/><rect x="65.0" y="375.0" width="7.0" height="13.0" fill="#b08848"/><rect x="72.0" y="375.0" width="8.0" height="13.0" fill="#b08848"/><rect x="80.0" y="375.0" width="15.0" height="13.0" fill="#c8a068"/><rect x="95.0" y="375.0" width="10.0" height="13.0" fill="#d8c8a8"/><rect x="105.0" y="375.0" width="7.0" height="13.0" fill="#8a6030"/><rect x="112.0" y="375.0" width="5.0" height="13.0" fill="#98a098"/><rect x="117.0" y="375.0" width="17.1" height="13.0" fill="#7aa0a0"/><rect x="14.5" y="388.0" width="15.5" height="12.0" fill="#70a8a0"/><rect x="30.0" y="388.0" width="5.0" height="12.0" fill="#c0c8c0"/><rect x="35.0" y="388.0" width="7.0" height="12.0" fill="#a0a098"/><rect x="42.0" y="388.0" width="13.0" height="12.0" fill="#e4e4e0"/><rect x="55.0" y="388.0" width="10.0" height="12.0" fill="#c8a470"/><rect x="65.0" y="388.0" width="7.0" height="12.0" fill="#b08848"/><rect x="72.0" y="388.0" width="18.0" height="12.0" fill="#c8a470"/><rect x="90.0" y="388.0" width="15.0" height="12.0" fill="#6a4010"/><rect x="105.0" y="388.0" width="7.0" height="12.0" fill="#8a6030"/><rect x="112.0" y="388.0" width="4.0" height="12.0" fill="#90a098"/><rect x="116.0" y="388.0" width="18.1" height="12.0" fill="#5a9890"/><rect x="14.5" y="400.0" width="25.5" height="10.0" fill="#90b0a8"/><rect x="40.0" y="400.0" width="10.0" height="10.0" fill="#d0d4d0"/><rect x="50.0" y="400.0" width="15.0" height="10.0" fill="#d8c8a8"/><rect x="65.0" y="400.0" width="7.0" height="10.0" fill="#e0d8c8"/><rect x="72.0" y="400.0" width="18.0" height="10.0" fill="#c0a888"/><rect x="90.0" y="400.0" width="15.0" height="10.0" fill="#8a6030"/><rect x="105.0" y="400.0" width="29.1" height="10.0" fill="#8a7a60"/><rect x="14.5" y="410.0" width="57.5" height="16.0" fill="#a09478"/><rect x="72.0" y="410.0" width="62.1" height="16.0" fill="#8a7860"/></g><g><ellipse cx="27.0" cy="375.0" rx="2.9" ry="14.1" fill="url(#g75)" opacity="0.80"/><ellipse cx="33.0" cy="360.0" rx="3.5" ry="5.9" fill="url(#g43)" opacity="0.60"/><ellipse cx="46.0" cy="378.0" rx="8.1" ry="24.3" fill="url(#g76)" opacity="0.70"/><ellipse cx="38.0" cy="375.0" rx="1.8" ry="17.6" fill="url(#g77)" opacity="0.40"/><ellipse cx="90.0" cy="355.0" rx="7.1" ry="4.7" fill="url(#g11)" opacity="0.60"/><ellipse cx="86.0" cy="368.0" rx="7.1" ry="4.7" fill="url(#g3)" opacity="0.60"/><ellipse cx="96.0" cy="392.0" rx="7.1" ry="7.1" fill="url(#g48)" opacity="0.80"/><ellipse cx="104.0" cy="385.0" rx="4.7" ry="7.1" fill="url(#g60)" opacity="0.60"/><ellipse cx="60.0" cy="395.0" rx="3.5" ry="3.5" fill="url(#g60)" opacity="0.70"/><ellipse cx="66.0" cy="375.0" rx="3.5" ry="3.5" fill="url(#g12)" opacity="0.60"/><ellipse cx="78.0" cy="380.0" rx="3.5" ry="3.5" fill="url(#g12)" opacity="0.60"/><ellipse cx="119.5" cy="378.0" rx="2.4" ry="14.1" fill="url(#g74)" opacity="0.60"/><ellipse cx="46.0" cy="405.0" rx="5.9" ry="3.5" fill="url(#g78)" opacity="0.60"/><ellipse cx="75.0" cy="345.0" rx="21.2" ry="3.5" fill="url(#g79)" opacity="0.50"/><circle cx="37.6" cy="364.6" r="1.3" fill="url(#g10)" opacity="0.32"/><circle cx="94.2" cy="348.6" r="1.6" fill="url(#g10)" opacity="0.31"/><circle cx="54.5" cy="369.6" r="2.3" fill="url(#g10)" opacity="0.36"/><circle cx="107.2" cy="367.3" r="1.4" fill="url(#g10)" opacity="0.52"/><circle cx="56.9" cy="396.7" r="1.8" fill="url(#g10)" opacity="0.27"/><circle cx="50.6" cy="353.9" r="2.1" fill="url(#g10)" opacity="0.39"/><circle cx="91.0" cy="381.2" r="2.5" fill="url(#g10)" opacity="0.29"/><circle cx="97.0" cy="348.9" r="2.3" fill="url(#g10)" opacity="0.44"/><circle cx="93.6" cy="380.9" r="1.6" fill="url(#g10)" opacity="0.53"/><circle cx="96.9" cy="368.9" r="1.7" fill="url(#g10)" opacity="0.32"/><circle cx="60.6" cy="356.3" r="2.2" fill="url(#g10)" opacity="0.42"/><circle cx="100.1" cy="395.3" r="1.8" fill="url(#g10)" opacity="0.41"/><circle cx="79.4" cy="376.1" r="2.6" fill="url(#g10)" opacity="0.30"/><circle cx="80.8" cy="374.5" r="1.3" fill="url(#g10)" opacity="0.50"/><circle cx="51.8" cy="357.5" r="2.2" fill="url(#g10)" opacity="0.32"/><circle cx="83.6" cy="376.7" r="2.3" fill="url(#g10)" opacity="0.55"/><circle cx="95.8" cy="361.3" r="2.4" fill="url(#g10)" opacity="0.36"/><circle cx="61.5" cy="380.2" r="2.3" fill="url(#g10)" opacity="0.40"/><circle cx="52.6" cy="400.3" r="2.4" fill="url(#g10)" opacity="0.35"/><circle cx="96.8" cy="406.9" r="1.9" fill="url(#g10)" opacity="0.53"/><circle cx="61.4" cy="385.5" r="2.2" fill="url(#g10)" opacity="0.41"/><circle cx="78.0" cy="347.3" r="1.8" fill="url(#g10)" opacity="0.44"/></g><rect x="22.5" y="335.9" width="103.6" height="82.1" filter="url(#bump)" opacity="0.60" style="mix-blend-mode:soft-light"/><path d="M24.5,375.6 C24.5,372.0 25.2,367.9 26.3,364.9 C27.4,361.9 28.6,360.1 30.8,357.7 C33.0,355.3 36.1,352.8 39.7,350.5 C43.3,348.2 48.1,346.0 52.3,344.2 C56.5,342.4 60.7,340.8 64.9,339.7 C69.1,338.6 73.2,337.9 77.4,337.9 C81.6,337.9 85.8,338.2 90.0,339.7 C94.2,341.2 98.6,344.5 102.5,346.9 C106.4,349.3 110.1,351.4 113.3,354.1 C116.5,356.8 119.6,359.8 121.4,363.1 C123.2,366.4 123.8,369.9 124.1,373.8 C124.4,377.7 124.2,382.5 123.2,386.4 C122.2,390.3 120.3,393.6 117.8,397.2 C115.2,400.8 111.6,405.2 107.9,407.9 C104.2,410.6 99.9,411.9 95.4,413.3 C90.9,414.7 85.8,415.7 81.0,416.0 C76.2,416.3 71.5,416.0 66.7,415.1 C61.9,414.2 56.8,412.4 52.3,410.6 C47.8,408.8 43.1,406.8 39.7,404.3 C36.3,401.8 33.9,398.4 31.7,395.4 C29.5,392.4 27.5,389.7 26.3,386.4 C25.1,383.1 24.5,379.2 24.5,375.6Z" fill="none" stroke="#4a3818" stroke-width="2.0" opacity="0.30" filter="url(#b2)"/></g></g><path d="M24.5,375.6 C24.5,372.0 25.2,367.9 26.3,364.9 C27.4,361.9 28.6,360.1 30.8,357.7 C33.0,355.3 36.1,352.8 39.7,350.5 C43.3,348.2 48.1,346.0 52.3,344.2 C56.5,342.4 60.7,340.8 64.9,339.7 C69.1,338.6 73.2,337.9 77.4,337.9 C81.6,337.9 85.8,338.2 90.0,339.7 C94.2,341.2 98.6,344.5 102.5,346.9 C106.4,349.3 110.1,351.4 113.3,354.1 C116.5,356.8 119.6,359.8 121.4,363.1 C123.2,366.4 123.8,369.9 124.1,373.8 C124.4,377.7 124.2,382.5 123.2,386.4 C122.2,390.3 120.3,393.6 117.8,397.2 C115.2,400.8 111.6,405.2 107.9,407.9 C104.2,410.6 99.9,411.9 95.4,413.3 C90.9,414.7 85.8,415.7 81.0,416.0 C76.2,416.3 71.5,416.0 66.7,415.1 C61.9,414.2 56.8,412.4 52.3,410.6 C47.8,408.8 43.1,406.8 39.7,404.3 C36.3,401.8 33.9,398.4 31.7,395.4 C29.5,392.4 27.5,389.7 26.3,386.4 C25.1,383.1 24.5,379.2 24.5,375.6Z" fill="none" stroke="#3a3020" stroke-width="0.5" opacity="0.35"/><g clip-path="url(#c7)"><g filter="url(#enh)"><path d="M183.3,386.4 C183.1,382.8 183.4,377.2 184.2,373.1 C185.0,369.0 185.9,365.0 188.0,361.8 C190.1,358.6 193.3,356.6 196.6,354.2 C199.9,351.8 203.9,349.6 208.0,347.5 C212.1,345.4 216.8,343.3 221.2,341.8 C225.6,340.3 230.1,338.9 234.5,338.6 C238.9,338.3 243.7,338.9 247.8,339.9 C251.9,340.9 255.4,342.6 259.2,344.7 C263.0,346.8 267.1,349.8 270.6,352.3 C274.1,354.8 277.2,357.1 280.1,359.9 C283.0,362.7 286.1,366.1 287.7,369.3 C289.3,372.5 289.8,375.3 289.6,378.8 C289.4,382.3 288.3,386.4 286.7,390.2 C285.1,394.0 282.8,398.1 280.1,401.6 C277.4,405.1 274.4,408.6 270.6,411.1 C266.8,413.6 261.7,415.5 257.3,416.8 C252.9,418.1 248.8,418.9 244.0,418.7 C239.2,418.5 233.9,417.1 228.8,415.8 C223.8,414.5 218.4,412.5 213.7,411.1 C209.0,409.7 204.2,408.9 200.4,407.3 C196.6,405.7 193.4,403.7 190.9,401.6 C188.4,399.6 186.5,397.5 185.2,395.0 C183.9,392.5 183.5,390.0 183.3,386.4Z" fill="#90b0a0"/><g filter="url(#gb7)"><rect x="173.3" y="328.6" width="36.7" height="19.4" fill="#8a6838"/><rect x="210.0" y="328.6" width="28.0" height="19.4" fill="#8a7850"/><rect x="238.0" y="328.6" width="22.0" height="19.4" fill="#a89878"/><rect x="260.0" y="328.6" width="39.6" height="19.4" fill="#9a8868"/><rect x="173.3" y="348.0" width="21.7" height="8.0" fill="#8a6030"/><rect x="195.0" y="348.0" width="15.0" height="8.0" fill="#8a6030"/><rect x="210.0" y="348.0" width="10.0" height="8.0" fill="#a0c0b8"/><rect x="220.0" y="348.0" width="18.0" height="8.0" fill="#1a7a6a"/><rect x="238.0" y="348.0" width="7.0" height="8.0" fill="#40a090"/><rect x="245.0" y="348.0" width="10.0" height="8.0" fill="#c8d0cc"/><rect x="255.0" y="348.0" width="15.0" height="8.0" fill="#c8c8c0"/><rect x="270.0" y="348.0" width="29.6" height="8.0" fill="#8a6a40"/><rect x="173.3" y="356.0" width="22.7" height="10.0" fill="#906838"/><rect x="196.0" y="356.0" width="9.0" height="10.0" fill="#80b0a8"/><rect x="205.0" y="356.0" width="10.0" height="10.0" fill="#50a898"/><rect x="215.0" y="356.0" width="20.0" height="10.0" fill="#0a6a5a"/><rect x="235.0" y="356.0" width="5.0" height="10.0" fill="#50a898"/><rect x="240.0" y="356.0" width="10.0" height="10.0" fill="#1a7a6a"/><rect x="250.0" y="356.0" width="12.0" height="10.0" fill="#a8d0c8"/><rect x="262.0" y="356.0" width="10.0" height="10.0" fill="#5aa8a0"/><rect x="272.0" y="356.0" width="10.0" height="10.0" fill="#b8b8b0"/><rect x="282.0" y="356.0" width="17.6" height="10.0" fill="#8a6a40"/><rect x="173.3" y="366.0" width="16.7" height="10.0" fill="#8a6030"/><rect x="190.0" y="366.0" width="8.0" height="10.0" fill="#a87838"/><rect x="198.0" y="366.0" width="12.0" height="10.0" fill="#a0ccc4"/><rect x="210.0" y="366.0" width="15.0" height="10.0" fill="#40a090"/><rect x="225.0" y="366.0" width="20.0" height="10.0" fill="#45a090"/><rect x="245.0" y="366.0" width="13.0" height="10.0" fill="#4aa090"/><rect x="258.0" y="366.0" width="7.0" height="10.0" fill="#9a7040"/><rect x="265.0" y="366.0" width="10.0" height="10.0" fill="#a0ccc4"/><rect x="275.0" y="366.0" width="24.6" height="10.0" fill="#a09070"/><rect x="173.3" y="376.0" width="18.7" height="12.0" fill="#8a6030"/><rect x="192.0" y="376.0" width="8.0" height="12.0" fill="#c8ccc8"/><rect x="200.0" y="376.0" width="10.0" height="12.0" fill="#b09060"/><rect x="210.0" y="376.0" width="15.0" height="12.0" fill="#60b0a4"/><rect x="225.0" y="376.0" width="13.0" height="12.0" fill="#a0d0c8"/><rect x="238.0" y="376.0" width="7.0" height="12.0" fill="#b08850"/><rect x="245.0" y="376.0" width="10.0" height="12.0" fill="#d8c8a8"/><rect x="255.0" y="376.0" width="10.0" height="12.0" fill="#9a6a30"/><rect x="265.0" y="376.0" width="10.0" height="12.0" fill="#7a4a14"/><rect x="275.0" y="376.0" width="7.0" height="12.0" fill="#8a6030"/><rect x="282.0" y="376.0" width="17.6" height="12.0" fill="#8a7050"/><rect x="173.3" y="388.0" width="18.7" height="10.0" fill="#6a4818"/><rect x="192.0" y="388.0" width="8.0" height="10.0" fill="#9a7040"/><rect x="200.0" y="388.0" width="10.0" height="10.0" fill="#80b8b0"/><rect x="210.0" y="388.0" width="15.0" height="10.0" fill="#50a898"/><rect x="225.0" y="388.0" width="8.0" height="10.0" fill="#c0d0c0"/><rect x="233.0" y="388.0" width="12.0" height="10.0" fill="#60b0a4"/><rect x="245.0" y="388.0" width="10.0" height="10.0" fill="#c8a878"/><rect x="255.0" y="388.0" width="10.0" height="10.0" fill="#8a5a20"/><rect x="265.0" y="388.0" width="10.0" height="10.0" fill="#9a6a30"/><rect x="275.0" y="388.0" width="24.6" height="10.0" fill="#6a4818"/><rect x="173.3" y="398.0" width="26.7" height="10.0" fill="#8a6030"/><rect x="200.0" y="398.0" width="10.0" height="10.0" fill="#b89868"/><rect x="210.0" y="398.0" width="10.0" height="10.0" fill="#a8d0c8"/><rect x="220.0" y="398.0" width="25.0" height="10.0" fill="#3a9888"/><rect x="245.0" y="398.0" width="13.0" height="10.0" fill="#d0c0a0"/><rect x="258.0" y="398.0" width="12.0" height="10.0" fill="#9a6a30"/><rect x="270.0" y="398.0" width="29.6" height="10.0" fill="#8a7050"/><rect x="173.3" y="408.0" width="64.7" height="20.7" fill="#8a9080"/><rect x="238.0" y="408.0" width="22.0" height="20.7" fill="#b8a888"/><rect x="260.0" y="408.0" width="39.6" height="20.7" fill="#8a6a40"/></g><g><ellipse cx="226.0" cy="360.0" rx="12.6" ry="10.3" fill="url(#g80)" opacity="0.90"/><ellipse cx="235.0" cy="365.0" rx="7.1" ry="5.9" fill="url(#g81)" opacity="0.70"/><ellipse cx="218.0" cy="378.0" rx="10.8" ry="10.8" fill="url(#g82)" opacity="0.60"/><ellipse cx="240.0" cy="372.0" rx="9.4" ry="7.1" fill="url(#g1)" opacity="0.60"/><ellipse cx="222.0" cy="395.0" rx="9.4" ry="7.1" fill="url(#g1)" opacity="0.60"/><ellipse cx="235.0" cy="405.0" rx="7.1" ry="4.7" fill="url(#g1)" opacity="0.60"/><ellipse cx="205.0" cy="383.0" rx="5.9" ry="5.9" fill="url(#g83)" opacity="0.60"/><ellipse cx="250.0" cy="360.0" rx="5.9" ry="4.7" fill="url(#g73)" opacity="0.60"/><ellipse cx="190.0" cy="380.0" rx="6.8" ry="18.9" fill="url(#g84)" opacity="0.70"/><ellipse cx="192.0" cy="398.0" rx="5.9" ry="5.9" fill="url(#g2)" opacity="0.60"/><ellipse cx="212.0" cy="345.0" rx="9.4" ry="3.5" fill="url(#g11)" opacity="0.60" transform="rotate(-20 212.0 345.0)"/><ellipse cx="268.0" cy="388.0" rx="7.1" ry="11.8" fill="url(#g60)" opacity="0.70"/><ellipse cx="258.0" cy="390.0" rx="5.9" ry="7.1" fill="url(#g25)" opacity="0.60"/><ellipse cx="279.0" cy="388.0" rx="4.7" ry="14.1" fill="url(#g66)" opacity="0.60"/><ellipse cx="255.0" cy="357.0" rx="3.5" ry="3.5" fill="url(#g31)" opacity="0.80"/><ellipse cx="255.0" cy="374.0" rx="3.5" ry="3.5" fill="url(#g60)" opacity="0.70"/><ellipse cx="248.0" cy="380.0" rx="5.9" ry="4.7" fill="url(#g85)" opacity="0.60"/><circle cx="227.7" cy="384.1" r="1.9" fill="url(#g10)" opacity="0.43"/><circle cx="255.5" cy="404.6" r="1.9" fill="url(#g10)" opacity="0.39"/><circle cx="244.5" cy="389.7" r="1.1" fill="url(#g10)" opacity="0.51"/><circle cx="252.1" cy="389.9" r="1.3" fill="url(#g10)" opacity="0.42"/><circle cx="248.1" cy="349.8" r="1.7" fill="url(#g10)" opacity="0.47"/><circle cx="267.3" cy="396.6" r="2.1" fill="url(#g10)" opacity="0.54"/><circle cx="206.4" cy="387.7" r="1.8" fill="url(#g10)" opacity="0.25"/><circle cx="253.4" cy="360.7" r="1.5" fill="url(#g10)" opacity="0.55"/><circle cx="279.3" cy="384.5" r="1.1" fill="url(#g10)" opacity="0.36"/><circle cx="248.3" cy="414.9" r="1.5" fill="url(#g10)" opacity="0.27"/><circle cx="273.8" cy="377.8" r="1.5" fill="url(#g10)" opacity="0.35"/><circle cx="196.6" cy="367.5" r="1.9" fill="url(#g10)" opacity="0.54"/><circle cx="255.9" cy="387.1" r="2.6" fill="url(#g10)" opacity="0.45"/><circle cx="237.3" cy="390.4" r="2.2" fill="url(#g10)" opacity="0.26"/><circle cx="239.2" cy="371.0" r="2.3" fill="url(#g10)" opacity="0.31"/><circle cx="232.2" cy="382.9" r="1.5" fill="url(#g10)" opacity="0.47"/><circle cx="247.2" cy="403.8" r="1.3" fill="url(#g10)" opacity="0.39"/><circle cx="265.4" cy="390.2" r="1.3" fill="url(#g10)" opacity="0.43"/><circle cx="266.1" cy="408.0" r="1.1" fill="url(#g10)" opacity="0.28"/><circle cx="267.9" cy="383.8" r="1.5" fill="url(#g10)" opacity="0.39"/><circle cx="203.8" cy="399.6" r="1.6" fill="url(#g10)" opacity="0.30"/><circle cx="223.5" cy="362.9" r="2.5" fill="url(#g10)" opacity="0.26"/></g><rect x="181.3" y="336.6" width="110.3" height="84.1" filter="url(#bump)" opacity="0.60" style="mix-blend-mode:soft-light"/><path d="M183.3,386.4 C183.1,382.8 183.4,377.2 184.2,373.1 C185.0,369.0 185.9,365.0 188.0,361.8 C190.1,358.6 193.3,356.6 196.6,354.2 C199.9,351.8 203.9,349.6 208.0,347.5 C212.1,345.4 216.8,343.3 221.2,341.8 C225.6,340.3 230.1,338.9 234.5,338.6 C238.9,338.3 243.7,338.9 247.8,339.9 C251.9,340.9 255.4,342.6 259.2,344.7 C263.0,346.8 267.1,349.8 270.6,352.3 C274.1,354.8 277.2,357.1 280.1,359.9 C283.0,362.7 286.1,366.1 287.7,369.3 C289.3,372.5 289.8,375.3 289.6,378.8 C289.4,382.3 288.3,386.4 286.7,390.2 C285.1,394.0 282.8,398.1 280.1,401.6 C277.4,405.1 274.4,408.6 270.6,411.1 C266.8,413.6 261.7,415.5 257.3,416.8 C252.9,418.1 248.8,418.9 244.0,418.7 C239.2,418.5 233.9,417.1 228.8,415.8 C223.8,414.5 218.4,412.5 213.7,411.1 C209.0,409.7 204.2,408.9 200.4,407.3 C196.6,405.7 193.4,403.7 190.9,401.6 C188.4,399.6 186.5,397.5 185.2,395.0 C183.9,392.5 183.5,390.0 183.3,386.4Z" fill="none" stroke="#4a3818" stroke-width="2.0" opacity="0.30" filter="url(#b2)"/></g></g><path d="M183.3,386.4 C183.1,382.8 183.4,377.2 184.2,373.1 C185.0,369.0 185.9,365.0 188.0,361.8 C190.1,358.6 193.3,356.6 196.6,354.2 C199.9,351.8 203.9,349.6 208.0,347.5 C212.1,345.4 216.8,343.3 221.2,341.8 C225.6,340.3 230.1,338.9 234.5,338.6 C238.9,338.3 243.7,338.9 247.8,339.9 C251.9,340.9 255.4,342.6 259.2,344.7 C263.0,346.8 267.1,349.8 270.6,352.3 C274.1,354.8 277.2,357.1 280.1,359.9 C283.0,362.7 286.1,366.1 287.7,369.3 C289.3,372.5 289.8,375.3 289.6,378.8 C289.4,382.3 288.3,386.4 286.7,390.2 C285.1,394.0 282.8,398.1 280.1,401.6 C277.4,405.1 274.4,408.6 270.6,411.1 C266.8,413.6 261.7,415.5 257.3,416.8 C252.9,418.1 248.8,418.9 244.0,418.7 C239.2,418.5 233.9,417.1 228.8,415.8 C223.8,414.5 218.4,412.5 213.7,411.1 C209.0,409.7 204.2,408.9 200.4,407.3 C196.6,405.7 193.4,403.7 190.9,401.6 C188.4,399.6 186.5,397.5 185.2,395.0 C183.9,392.5 183.5,390.0 183.3,386.4Z" fill="none" stroke="#3a3020" stroke-width="0.5" opacity="0.35"/><g clip-path="url(#c8)"><g filter="url(#enh)"><path d="M335.8,389.7 C335.1,385.0 335.8,379.7 336.9,374.7 C338.0,369.7 339.9,364.3 342.2,359.6 C344.5,354.9 347.7,350.2 350.9,346.6 C354.1,343.0 357.3,340.2 361.6,338.0 C365.9,335.8 371.7,334.4 376.7,333.3 C381.7,332.2 386.8,331.6 391.8,331.6 C396.8,331.6 402.2,331.9 406.9,333.3 C411.6,334.7 415.9,337.6 419.8,340.2 C423.8,342.8 427.6,345.6 430.6,348.8 C433.7,352.0 436.1,355.7 438.1,359.6 C440.1,363.6 441.4,367.8 442.5,372.5 C443.6,377.2 444.6,382.6 444.6,387.6 C444.6,392.6 443.9,398.4 442.5,402.7 C441.1,407.0 438.7,410.3 436.0,413.4 C433.3,416.4 430.4,418.8 426.3,421.0 C422.2,423.2 416.2,425.1 411.2,426.4 C406.2,427.6 401.5,428.3 396.1,428.5 C390.7,428.7 384.3,428.6 378.9,427.5 C373.5,426.4 368.5,424.5 363.8,422.1 C359.1,419.8 354.7,416.6 350.9,413.4 C347.1,410.2 343.7,406.6 341.2,402.7 C338.7,398.8 336.5,394.4 335.8,389.7Z" fill="#c8b48c"/><g filter="url(#gb8)"><rect x="325.8" y="321.6" width="34.2" height="18.4" fill="#90a8a0"/><rect x="360.0" y="321.6" width="28.0" height="18.4" fill="#70a8a0"/><rect x="388.0" y="321.6" width="27.0" height="18.4" fill="#0e6a5e"/><rect x="415.0" y="321.6" width="39.6" height="18.4" fill="#8aa8a0"/><rect x="325.8" y="340.0" width="24.2" height="10.0" fill="#b0b8b0"/><rect x="350.0" y="340.0" width="15.0" height="10.0" fill="#c8ccc8"/><rect x="365.0" y="340.0" width="15.0" height="10.0" fill="#c8a878"/><rect x="380.0" y="340.0" width="8.0" height="10.0" fill="#90b8b0"/><rect x="388.0" y="340.0" width="7.0" height="10.0" fill="#e0dccc"/><rect x="395.0" y="340.0" width="15.0" height="10.0" fill="#c8a470"/><rect x="410.0" y="340.0" width="10.0" height="10.0" fill="#9a6a30"/><rect x="420.0" y="340.0" width="34.6" height="10.0" fill="#b8a888"/><rect x="325.8" y="350.0" width="17.2" height="12.0" fill="#b8a888"/><rect x="343.0" y="350.0" width="9.0" height="12.0" fill="#b8a888"/><rect x="352.0" y="350.0" width="13.0" height="12.0" fill="#b08848"/><rect x="365.0" y="350.0" width="13.0" height="12.0" fill="#c8a470"/><rect x="378.0" y="350.0" width="22.0" height="12.0" fill="#d8c8a8"/><rect x="400.0" y="350.0" width="15.0" height="12.0" fill="#8a5a20"/><rect x="415.0" y="350.0" width="15.0" height="12.0" fill="#a87838"/><rect x="430.0" y="350.0" width="24.6" height="12.0" fill="#a89070"/><rect x="325.8" y="362.0" width="19.2" height="12.0" fill="#b0a898"/><rect x="345.0" y="362.0" width="10.0" height="12.0" fill="#a07838"/><rect x="355.0" y="362.0" width="10.0" height="12.0" fill="#c8a878"/><rect x="365.0" y="362.0" width="13.0" height="12.0" fill="#e0d4b8"/><rect x="378.0" y="362.0" width="12.0" height="12.0" fill="#c8a470"/><rect x="390.0" y="362.0" width="10.0" height="12.0" fill="#c8a068"/><rect x="400.0" y="362.0" width="20.0" height="12.0" fill="#a87838"/><rect x="420.0" y="362.0" width="15.0" height="12.0" fill="#c09860"/><rect x="435.0" y="362.0" width="19.6" height="12.0" fill="#a09070"/><rect x="325.8" y="374.0" width="19.2" height="12.0" fill="#c8c8c0"/><rect x="345.0" y="374.0" width="10.0" height="12.0" fill="#b08848"/><rect x="355.0" y="374.0" width="13.0" height="12.0" fill="#e0dccc"/><rect x="368.0" y="374.0" width="12.0" height="12.0" fill="#c8a470"/><rect x="380.0" y="374.0" width="10.0" height="12.0" fill="#b89058"/><rect x="390.0" y="374.0" width="10.0" height="12.0" fill="#c8a068"/><rect x="400.0" y="374.0" width="15.0" height="12.0" fill="#e0d0b0"/><rect x="415.0" y="374.0" width="15.0" height="12.0" fill="#c8a068"/><rect x="430.0" y="374.0" width="24.6" height="12.0" fill="#c0a880"/><rect x="325.8" y="386.0" width="19.2" height="12.0" fill="#c0c0b8"/><rect x="345.0" y="386.0" width="10.0" height="12.0" fill="#c8a878"/><rect x="355.0" y="386.0" width="15.0" height="12.0" fill="#c8a470"/><rect x="370.0" y="386.0" width="15.0" height="12.0" fill="#b08848"/><rect x="385.0" y="386.0" width="20.0" height="12.0" fill="#d8c8a8"/><rect x="405.0" y="386.0" width="20.0" height="12.0" fill="#d0b890"/><rect x="425.0" y="386.0" width="29.6" height="12.0" fill="#c8b898"/><rect x="325.8" y="398.0" width="24.2" height="12.0" fill="#a89878"/><rect x="350.0" y="398.0" width="10.0" height="12.0" fill="#b08850"/><rect x="360.0" y="398.0" width="15.0" height="12.0" fill="#c8a878"/><rect x="375.0" y="398.0" width="13.0" height="12.0" fill="#d0d0c8"/><rect x="388.0" y="398.0" width="10.0" height="12.0" fill="#9a6a30"/><rect x="398.0" y="398.0" width="14.0" height="12.0" fill="#e0dccc"/><rect x="412.0" y="398.0" width="13.0" height="12.0" fill="#d8d0c0"/><rect x="425.0" y="398.0" width="29.6" height="12.0" fill="#d8d4c8"/><rect x="325.8" y="410.0" width="34.2" height="10.0" fill="#a09070"/><rect x="360.0" y="410.0" width="20.0" height="10.0" fill="#c0b090"/><rect x="380.0" y="410.0" width="10.0" height="10.0" fill="#b0b0a8"/><rect x="390.0" y="410.0" width="10.0" height="10.0" fill="#c8a878"/><rect x="400.0" y="410.0" width="12.0" height="10.0" fill="#c8a878"/><rect x="412.0" y="410.0" width="18.0" height="10.0" fill="#d8d4c8"/><rect x="430.0" y="410.0" width="24.6" height="10.0" fill="#b0b0a8"/><rect x="325.8" y="420.0" width="64.2" height="18.5" fill="#a09478"/><rect x="390.0" y="420.0" width="64.6" height="18.5" fill="#a09478"/></g><g><ellipse cx="395.0" cy="335.0" rx="25.3" ry="4.6" fill="url(#g86)" opacity="0.85"/><ellipse cx="399.0" cy="339.0" rx="8.0" ry="8.0" fill="url(#g87)" opacity="0.95"/><ellipse cx="382.0" cy="348.5" rx="4.0" ry="2.9" fill="url(#g87)" opacity="0.90"/><ellipse cx="373.5" cy="340.0" rx="3.4" ry="3.4" fill="url(#g88)" opacity="0.85"/><ellipse cx="412.0" cy="355.0" rx="7.1" ry="9.4" fill="url(#g3)" opacity="0.70"/><ellipse cx="360.0" cy="341.0" rx="8.2" ry="3.5" fill="url(#g89)" opacity="0.60" transform="rotate(-20 360.0 341.0)"/><ellipse cx="408.0" cy="358.0" rx="5.9" ry="8.2" fill="url(#g12)" opacity="0.70"/><ellipse cx="405.0" cy="368.0" rx="9.4" ry="5.9" fill="url(#g3)" opacity="0.60"/><ellipse cx="350.0" cy="374.0" rx="4.7" ry="7.1" fill="url(#g25)" opacity="0.60"/><ellipse cx="392.0" cy="372.0" rx="4.7" ry="4.7" fill="url(#g25)" opacity="0.60"/><ellipse cx="363.0" cy="375.0" rx="5.9" ry="5.9" fill="url(#g90)" opacity="0.60"/><ellipse cx="412.0" cy="378.0" rx="5.9" ry="5.9" fill="url(#g91)" opacity="0.60"/><ellipse cx="392.0" cy="403.0" rx="8.2" ry="4.7" fill="url(#g92)" opacity="0.60"/><ellipse cx="392.0" cy="413.0" rx="8.2" ry="4.7" fill="url(#g93)" opacity="0.60"/><ellipse cx="420.0" cy="404.0" rx="7.1" ry="5.9" fill="url(#g94)" opacity="0.60"/><ellipse cx="392.0" cy="407.0" rx="6.9" ry="5.2" fill="url(#g95)" opacity="0.70"/><ellipse cx="392.0" cy="409.0" rx="4.7" ry="2.9" fill="url(#g25)" opacity="0.70"/><ellipse cx="392.0" cy="417.0" rx="5.8" ry="3.4" fill="url(#g96)" opacity="0.70"/><ellipse cx="392.0" cy="418.0" rx="3.5" ry="2.1" fill="url(#g60)" opacity="0.70"/><ellipse cx="421.0" cy="405.0" rx="5.8" ry="5.2" fill="url(#g97)" opacity="0.70"/><ellipse cx="421.0" cy="407.0" rx="3.5" ry="2.9" fill="url(#g25)" opacity="0.60"/><ellipse cx="367.0" cy="384.0" rx="5.8" ry="4.6" fill="url(#g98)" opacity="0.60"/><ellipse cx="410.0" cy="375.0" rx="4.6" ry="4.6" fill="url(#g98)" opacity="0.60"/><circle cx="432.8" cy="364.8" r="2.3" fill="url(#g10)" opacity="0.54"/><circle cx="369.0" cy="407.1" r="1.6" fill="url(#g10)" opacity="0.30"/><circle cx="373.1" cy="405.4" r="1.3" fill="url(#g10)" opacity="0.45"/><circle cx="373.4" cy="346.7" r="1.7" fill="url(#g10)" opacity="0.37"/><circle cx="385.7" cy="418.5" r="2.5" fill="url(#g10)" opacity="0.32"/><circle cx="393.1" cy="354.9" r="2.5" fill="url(#g10)" opacity="0.55"/><circle cx="404.3" cy="341.4" r="2.3" fill="url(#g10)" opacity="0.48"/><circle cx="378.1" cy="383.3" r="1.8" fill="url(#g10)" opacity="0.48"/><circle cx="404.4" cy="413.0" r="1.8" fill="url(#g10)" opacity="0.43"/><circle cx="438.8" cy="400.1" r="1.2" fill="url(#g10)" opacity="0.38"/><circle cx="366.6" cy="356.1" r="1.2" fill="url(#g10)" opacity="0.28"/><circle cx="388.1" cy="408.6" r="2.4" fill="url(#g10)" opacity="0.54"/><circle cx="431.7" cy="361.9" r="2.2" fill="url(#g10)" opacity="0.39"/><circle cx="399.7" cy="415.5" r="2.1" fill="url(#g10)" opacity="0.27"/><circle cx="405.4" cy="365.5" r="2.6" fill="url(#g10)" opacity="0.33"/><circle cx="380.5" cy="338.0" r="2.3" fill="url(#g10)" opacity="0.53"/><circle cx="389.3" cy="346.5" r="2.4" fill="url(#g10)" opacity="0.35"/><circle cx="347.4" cy="366.3" r="2.1" fill="url(#g10)" opacity="0.55"/><circle cx="357.6" cy="391.9" r="1.5" fill="url(#g10)" opacity="0.51"/><circle cx="388.8" cy="398.6" r="2.3" fill="url(#g10)" opacity="0.41"/><circle cx="352.5" cy="399.5" r="2.2" fill="url(#g10)" opacity="0.42"/><circle cx="418.5" cy="396.5" r="1.6" fill="url(#g10)" opacity="0.36"/></g><rect x="333.8" y="329.6" width="112.8" height="100.9" filter="url(#bump)" opacity="0.60" style="mix-blend-mode:soft-light"/><path d="M335.8,389.7 C335.1,385.0 335.8,379.7 336.9,374.7 C338.0,369.7 339.9,364.3 342.2,359.6 C344.5,354.9 347.7,350.2 350.9,346.6 C354.1,343.0 357.3,340.2 361.6,338.0 C365.9,335.8 371.7,334.4 376.7,333.3 C381.7,332.2 386.8,331.6 391.8,331.6 C396.8,331.6 402.2,331.9 406.9,333.3 C411.6,334.7 415.9,337.6 419.8,340.2 C423.8,342.8 427.6,345.6 430.6,348.8 C433.7,352.0 436.1,355.7 438.1,359.6 C440.1,363.6 441.4,367.8 442.5,372.5 C443.6,377.2 444.6,382.6 444.6,387.6 C444.6,392.6 443.9,398.4 442.5,402.7 C441.1,407.0 438.7,410.3 436.0,413.4 C433.3,416.4 430.4,418.8 426.3,421.0 C422.2,423.2 416.2,425.1 411.2,426.4 C406.2,427.6 401.5,428.3 396.1,428.5 C390.7,428.7 384.3,428.6 378.9,427.5 C373.5,426.4 368.5,424.5 363.8,422.1 C359.1,419.8 354.7,416.6 350.9,413.4 C347.1,410.2 343.7,406.6 341.2,402.7 C338.7,398.8 336.5,394.4 335.8,389.7Z" fill="none" stroke="#4a3818" stroke-width="2.0" opacity="0.30" filter="url(#b2)"/></g></g><path d="M335.8,389.7 C335.1,385.0 335.8,379.7 336.9,374.7 C338.0,369.7 339.9,364.3 342.2,359.6 C344.5,354.9 347.7,350.2 350.9,346.6 C354.1,343.0 357.3,340.2 361.6,338.0 C365.9,335.8 371.7,334.4 376.7,333.3 C381.7,332.2 386.8,331.6 391.8,331.6 C396.8,331.6 402.2,331.9 406.9,333.3 C411.6,334.7 415.9,337.6 419.8,340.2 C423.8,342.8 427.6,345.6 430.6,348.8 C433.7,352.0 436.1,355.7 438.1,359.6 C440.1,363.6 441.4,367.8 442.5,372.5 C443.6,377.2 444.6,382.6 444.6,387.6 C444.6,392.6 443.9,398.4 442.5,402.7 C441.1,407.0 438.7,410.3 436.0,413.4 C433.3,416.4 430.4,418.8 426.3,421.0 C422.2,423.2 416.2,425.1 411.2,426.4 C406.2,427.6 401.5,428.3 396.1,428.5 C390.7,428.7 384.3,428.6 378.9,427.5 C373.5,426.4 368.5,424.5 363.8,422.1 C359.1,419.8 354.7,416.6 350.9,413.4 C347.1,410.2 343.7,406.6 341.2,402.7 C338.7,398.8 336.5,394.4 335.8,389.7Z" fill="none" stroke="#3a3020" stroke-width="0.5" opacity="0.35"/><g clip-path="url(#c9)"><g filter="url(#enh)"><path d="M27.5,489.1 C27.0,484.4 28.8,480.0 30.4,475.9 C32.0,471.8 34.0,468.1 37.0,464.6 C40.0,461.2 44.2,457.7 48.3,455.2 C52.4,452.7 57.1,450.8 61.5,449.5 C65.9,448.2 70.3,447.9 74.7,447.6 C79.1,447.3 83.5,446.8 87.9,447.6 C92.3,448.4 97.0,450.1 101.1,452.3 C105.2,454.5 109.0,457.5 112.4,460.8 C115.9,464.1 119.3,468.0 121.8,472.1 C124.3,476.2 126.7,480.9 127.5,485.3 C128.3,489.7 127.5,494.4 126.5,498.5 C125.5,502.6 124.1,506.3 121.8,509.8 C119.5,513.3 116.2,516.6 112.4,519.3 C108.6,522.0 103.9,524.1 99.2,526.0 C94.5,527.9 89.2,529.5 84.0,530.5 C78.8,531.5 73.0,532.6 67.7,532.0 C62.4,531.4 56.2,529.5 52.0,527.0 C47.8,524.5 45.7,520.8 42.6,517.0 C39.5,513.2 35.7,508.8 33.2,504.2 C30.7,499.6 28.0,493.8 27.5,489.1Z" fill="#c0a478"/><g filter="url(#gb9)"><rect x="17.5" y="437.6" width="37.5" height="18.4" fill="#a89478"/><rect x="55.0" y="437.6" width="45.0" height="18.4" fill="#a89478"/><rect x="100.0" y="437.6" width="37.5" height="18.4" fill="#a09478"/><rect x="17.5" y="456.0" width="22.5" height="10.0" fill="#a0a098"/><rect x="40.0" y="456.0" width="15.0" height="10.0" fill="#c8c8c0"/><rect x="55.0" y="456.0" width="10.0" height="10.0" fill="#a07838"/><rect x="65.0" y="456.0" width="10.0" height="10.0" fill="#9a7040"/><rect x="75.0" y="456.0" width="15.0" height="10.0" fill="#d0c4ac"/><rect x="90.0" y="456.0" width="15.0" height="10.0" fill="#d0ccc0"/><rect x="105.0" y="456.0" width="32.5" height="10.0" fill="#b0aca0"/><rect x="17.5" y="466.0" width="15.5" height="10.0" fill="#3a9080"/><rect x="33.0" y="466.0" width="7.0" height="10.0" fill="#3a9080"/><rect x="40.0" y="466.0" width="10.0" height="10.0" fill="#d0d0c8"/><rect x="50.0" y="466.0" width="12.0" height="10.0" fill="#e0d8c4"/><rect x="62.0" y="466.0" width="10.0" height="10.0" fill="#c8a878"/><rect x="72.0" y="466.0" width="13.0" height="10.0" fill="#d8c8a8"/><rect x="85.0" y="466.0" width="15.0" height="10.0" fill="#dccca8"/><rect x="100.0" y="466.0" width="12.0" height="10.0" fill="#e0dccc"/><rect x="112.0" y="466.0" width="25.5" height="10.0" fill="#b8b4a8"/><rect x="17.5" y="476.0" width="17.5" height="10.0" fill="#7aa8a0"/><rect x="35.0" y="476.0" width="10.0" height="10.0" fill="#dcdcd4"/><rect x="45.0" y="476.0" width="10.0" height="10.0" fill="#c8a470"/><rect x="55.0" y="476.0" width="15.0" height="10.0" fill="#b89058"/><rect x="70.0" y="476.0" width="10.0" height="10.0" fill="#d8c8a8"/><rect x="80.0" y="476.0" width="10.0" height="10.0" fill="#dcdcd4"/><rect x="90.0" y="476.0" width="15.0" height="10.0" fill="#d8c49c"/><rect x="105.0" y="476.0" width="10.0" height="10.0" fill="#e0d8c0"/><rect x="115.0" y="476.0" width="22.5" height="10.0" fill="#b8b4a8"/><rect x="17.5" y="486.0" width="17.5" height="10.0" fill="#8a6030"/><rect x="35.0" y="486.0" width="10.0" height="10.0" fill="#9a6a30"/><rect x="45.0" y="486.0" width="10.0" height="10.0" fill="#c8c0b0"/><rect x="55.0" y="486.0" width="15.0" height="10.0" fill="#a07030"/><rect x="70.0" y="486.0" width="10.0" height="10.0" fill="#c09860"/><rect x="80.0" y="486.0" width="10.0" height="10.0" fill="#dccca8"/><rect x="90.0" y="486.0" width="10.0" height="10.0" fill="#c8a070"/><rect x="100.0" y="486.0" width="12.0" height="10.0" fill="#d8d0c0"/><rect x="112.0" y="486.0" width="25.5" height="10.0" fill="#a89880"/><rect x="17.5" y="496.0" width="20.5" height="10.0" fill="#8a6030"/><rect x="38.0" y="496.0" width="12.0" height="10.0" fill="#a87838"/><rect x="50.0" y="496.0" width="15.0" height="10.0" fill="#9a6a28"/><rect x="65.0" y="496.0" width="10.0" height="10.0" fill="#b08848"/><rect x="75.0" y="496.0" width="15.0" height="10.0" fill="#e4dac4"/><rect x="90.0" y="496.0" width="10.0" height="10.0" fill="#d0d0c8"/><rect x="100.0" y="496.0" width="10.0" height="10.0" fill="#8a6030"/><rect x="110.0" y="496.0" width="27.5" height="10.0" fill="#c8c4b8"/><rect x="17.5" y="506.0" width="27.5" height="10.0" fill="#a08868"/><rect x="45.0" y="506.0" width="15.0" height="10.0" fill="#a87838"/><rect x="60.0" y="506.0" width="20.0" height="10.0" fill="#c09860"/><rect x="80.0" y="506.0" width="10.0" height="10.0" fill="#dccca8"/><rect x="90.0" y="506.0" width="15.0" height="10.0" fill="#d8ccb4"/><rect x="105.0" y="506.0" width="32.5" height="10.0" fill="#c8c8c0"/><rect x="17.5" y="516.0" width="42.5" height="10.0" fill="#a08868"/><rect x="60.0" y="516.0" width="20.0" height="10.0" fill="#c8a878"/><rect x="80.0" y="516.0" width="20.0" height="10.0" fill="#b8a888"/><rect x="100.0" y="516.0" width="37.5" height="10.0" fill="#b0aca0"/><rect x="17.5" y="526.0" width="62.5" height="16.0" fill="#a09070"/><rect x="80.0" y="526.0" width="57.5" height="16.0" fill="#989070"/></g><g><ellipse cx="58.0" cy="497.0" rx="17.6" ry="17.6" fill="url(#g99)" opacity="0.80"/><ellipse cx="42.0" cy="495.0" rx="7.1" ry="10.6" fill="url(#g12)" opacity="0.70"/><ellipse cx="66.0" cy="512.0" rx="11.8" ry="7.1" fill="url(#g100)" opacity="0.60"/><ellipse cx="64.0" cy="462.0" rx="10.6" ry="4.7" fill="url(#g25)" opacity="0.70"/><ellipse cx="52.0" cy="480.0" rx="7.1" ry="4.7" fill="url(#g24)" opacity="0.50"/><ellipse cx="33.0" cy="476.0" rx="2.9" ry="8.2" fill="url(#g101)" opacity="0.70"/><ellipse cx="45.0" cy="470.0" rx="7.1" ry="5.9" fill="url(#g40)" opacity="0.60"/><ellipse cx="107.0" cy="500.0" rx="4.1" ry="4.1" fill="url(#g31)" opacity="0.80"/><ellipse cx="75.0" cy="476.0" rx="7.1" ry="5.9" fill="url(#g102)" opacity="0.60"/><ellipse cx="105.0" cy="478.0" rx="8.2" ry="9.4" fill="url(#g103)" opacity="0.50"/><ellipse cx="70.0" cy="470.0" rx="3.5" ry="3.5" fill="url(#g104)" opacity="0.60"/><circle cx="99.4" cy="461.7" r="1.2" fill="url(#g10)" opacity="0.36"/><circle cx="105.4" cy="472.5" r="2.4" fill="url(#g10)" opacity="0.43"/><circle cx="78.3" cy="499.4" r="1.9" fill="url(#g10)" opacity="0.41"/><circle cx="110.1" cy="506.2" r="1.8" fill="url(#g10)" opacity="0.25"/><circle cx="64.7" cy="512.3" r="1.1" fill="url(#g10)" opacity="0.50"/><circle cx="92.3" cy="523.1" r="2.2" fill="url(#g10)" opacity="0.39"/><circle cx="114.6" cy="504.7" r="1.0" fill="url(#g10)" opacity="0.48"/><circle cx="63.0" cy="516.0" r="1.4" fill="url(#g10)" opacity="0.30"/><circle cx="106.7" cy="470.1" r="1.2" fill="url(#g10)" opacity="0.51"/><circle cx="79.1" cy="513.6" r="2.4" fill="url(#g10)" opacity="0.44"/><circle cx="115.1" cy="491.3" r="1.4" fill="url(#g10)" opacity="0.48"/><circle cx="68.5" cy="511.5" r="1.2" fill="url(#g10)" opacity="0.41"/><circle cx="71.9" cy="503.7" r="2.0" fill="url(#g10)" opacity="0.34"/><circle cx="62.2" cy="475.1" r="1.3" fill="url(#g10)" opacity="0.37"/><circle cx="73.8" cy="458.8" r="1.1" fill="url(#g10)" opacity="0.25"/><circle cx="105.7" cy="502.2" r="1.1" fill="url(#g10)" opacity="0.29"/><circle cx="44.9" cy="509.0" r="1.7" fill="url(#g10)" opacity="0.27"/><circle cx="65.3" cy="502.8" r="1.9" fill="url(#g10)" opacity="0.43"/><circle cx="115.5" cy="477.8" r="1.2" fill="url(#g10)" opacity="0.41"/><circle cx="79.7" cy="480.4" r="2.4" fill="url(#g10)" opacity="0.26"/><circle cx="96.4" cy="506.7" r="1.6" fill="url(#g10)" opacity="0.44"/><circle cx="115.5" cy="503.7" r="2.4" fill="url(#g10)" opacity="0.33"/></g><rect x="25.5" y="445.6" width="104.0" height="88.4" filter="url(#bump)" opacity="0.60" style="mix-blend-mode:soft-light"/><path d="M27.5,489.1 C27.0,484.4 28.8,480.0 30.4,475.9 C32.0,471.8 34.0,468.1 37.0,464.6 C40.0,461.2 44.2,457.7 48.3,455.2 C52.4,452.7 57.1,450.8 61.5,449.5 C65.9,448.2 70.3,447.9 74.7,447.6 C79.1,447.3 83.5,446.8 87.9,447.6 C92.3,448.4 97.0,450.1 101.1,452.3 C105.2,454.5 109.0,457.5 112.4,460.8 C115.9,464.1 119.3,468.0 121.8,472.1 C124.3,476.2 126.7,480.9 127.5,485.3 C128.3,489.7 127.5,494.4 126.5,498.5 C125.5,502.6 124.1,506.3 121.8,509.8 C119.5,513.3 116.2,516.6 112.4,519.3 C108.6,522.0 103.9,524.1 99.2,526.0 C94.5,527.9 89.2,529.5 84.0,530.5 C78.8,531.5 73.0,532.6 67.7,532.0 C62.4,531.4 56.2,529.5 52.0,527.0 C47.8,524.5 45.7,520.8 42.6,517.0 C39.5,513.2 35.7,508.8 33.2,504.2 C30.7,499.6 28.0,493.8 27.5,489.1Z" fill="none" stroke="#4a3818" stroke-width="2.0" opacity="0.30" filter="url(#b2)"/></g></g><path d="M27.5,489.1 C27.0,484.4 28.8,480.0 30.4,475.9 C32.0,471.8 34.0,468.1 37.0,464.6 C40.0,461.2 44.2,457.7 48.3,455.2 C52.4,452.7 57.1,450.8 61.5,449.5 C65.9,448.2 70.3,447.9 74.7,447.6 C79.1,447.3 83.5,446.8 87.9,447.6 C92.3,448.4 97.0,450.1 101.1,452.3 C105.2,454.5 109.0,457.5 112.4,460.8 C115.9,464.1 119.3,468.0 121.8,472.1 C124.3,476.2 126.7,480.9 127.5,485.3 C128.3,489.7 127.5,494.4 126.5,498.5 C125.5,502.6 124.1,506.3 121.8,509.8 C119.5,513.3 116.2,516.6 112.4,519.3 C108.6,522.0 103.9,524.1 99.2,526.0 C94.5,527.9 89.2,529.5 84.0,530.5 C78.8,531.5 73.0,532.6 67.7,532.0 C62.4,531.4 56.2,529.5 52.0,527.0 C47.8,524.5 45.7,520.8 42.6,517.0 C39.5,513.2 35.7,508.8 33.2,504.2 C30.7,499.6 28.0,493.8 27.5,489.1Z" fill="none" stroke="#3a3020" stroke-width="0.5" opacity="0.35"/><g clip-path="url(#c10)"><g filter="url(#enh)"><path d="M176.9,487.3 C176.6,482.7 177.6,478.7 178.9,475.4 C180.2,472.1 182.0,470.1 184.8,467.5 C187.6,464.9 191.6,461.9 195.7,459.6 C199.8,457.3 204.9,455.5 209.5,453.7 C214.1,451.9 219.0,449.8 223.3,448.8 C227.6,447.8 230.9,447.5 235.2,447.8 C239.5,448.1 244.4,449.1 249.0,450.7 C253.6,452.3 258.5,455.2 262.8,457.7 C267.1,460.2 271.1,463.0 274.7,465.6 C278.3,468.2 282.1,470.9 284.6,473.5 C287.1,476.1 288.5,478.4 289.5,481.4 C290.5,484.3 290.7,487.6 290.5,491.2 C290.3,494.8 289.8,499.5 288.5,503.1 C287.2,506.7 285.2,510.2 282.6,513.0 C280.0,515.8 276.6,518.3 272.7,519.9 C268.8,521.5 263.5,522.0 258.9,522.8 C254.3,523.5 250.0,523.7 245.1,524.4 C240.2,525.1 234.1,526.4 229.3,526.8 C224.6,527.1 221.2,527.2 216.6,526.5 C212.0,525.8 206.1,524.7 201.6,522.8 C197.1,520.9 193.2,518.2 189.8,514.9 C186.4,511.6 183.1,507.7 180.9,503.1 C178.8,498.5 177.2,491.9 176.9,487.3Z" fill="#d0ccc0"/><g filter="url(#gb10)"><rect x="166.9" y="437.8" width="48.1" height="18.2" fill="#a09478"/><rect x="215.0" y="437.8" width="17.0" height="18.2" fill="#a09478"/><rect x="232.0" y="437.8" width="8.0" height="18.2" fill="#a07840"/><rect x="240.0" y="437.8" width="18.0" height="18.2" fill="#a89880"/><rect x="258.0" y="437.8" width="42.5" height="18.2" fill="#a89880"/><rect x="166.9" y="456.0" width="28.1" height="10.0" fill="#a89880"/><rect x="195.0" y="456.0" width="20.0" height="10.0" fill="#a89880"/><rect x="215.0" y="456.0" width="10.0" height="10.0" fill="#c8c8c0"/><rect x="225.0" y="456.0" width="7.0" height="10.0" fill="#c0d8d4"/><rect x="232.0" y="456.0" width="8.0" height="10.0" fill="#6a4818"/><rect x="240.0" y="456.0" width="15.0" height="10.0" fill="#d0d0c8"/><rect x="255.0" y="456.0" width="45.5" height="10.0" fill="#a89880"/><rect x="166.9" y="466.0" width="18.1" height="10.0" fill="#9a8870"/><rect x="185.0" y="466.0" width="10.0" height="10.0" fill="#9a8870"/><rect x="195.0" y="466.0" width="20.0" height="10.0" fill="#d0d0c8"/><rect x="215.0" y="466.0" width="10.0" height="10.0" fill="#b89058"/><rect x="225.0" y="466.0" width="7.0" height="10.0" fill="#c8a878"/><rect x="232.0" y="466.0" width="13.0" height="10.0" fill="#d0c4a8"/><rect x="245.0" y="466.0" width="13.0" height="10.0" fill="#dcdcd8"/><rect x="258.0" y="466.0" width="10.0" height="10.0" fill="#70b8b0"/><rect x="268.0" y="466.0" width="14.0" height="10.0" fill="#d8d8d4"/><rect x="282.0" y="466.0" width="18.5" height="10.0" fill="#a09888"/><rect x="166.9" y="476.0" width="20.1" height="10.0" fill="#a0a098"/><rect x="187.0" y="476.0" width="13.0" height="10.0" fill="#d8dcd8"/><rect x="200.0" y="476.0" width="10.0" height="10.0" fill="#d0d0c8"/><rect x="210.0" y="476.0" width="15.0" height="10.0" fill="#a8d4cc"/><rect x="225.0" y="476.0" width="7.0" height="10.0" fill="#d0c0a0"/><rect x="232.0" y="476.0" width="13.0" height="10.0" fill="#a8d4cc"/><rect x="245.0" y="476.0" width="10.0" height="10.0" fill="#d0c8b0"/><rect x="255.0" y="476.0" width="7.0" height="10.0" fill="#5aa8a0"/><rect x="262.0" y="476.0" width="13.0" height="10.0" fill="#b0d8d0"/><rect x="275.0" y="476.0" width="25.5" height="10.0" fill="#dcd4c4"/><rect x="166.9" y="486.0" width="18.1" height="10.0" fill="#9a8060"/><rect x="185.0" y="486.0" width="10.0" height="10.0" fill="#b8d8d4"/><rect x="195.0" y="486.0" width="15.0" height="10.0" fill="#e0e0dc"/><rect x="210.0" y="486.0" width="12.0" height="10.0" fill="#c8a878"/><rect x="222.0" y="486.0" width="10.0" height="10.0" fill="#d8dcd8"/><rect x="232.0" y="486.0" width="13.0" height="10.0" fill="#c8b090"/><rect x="245.0" y="486.0" width="10.0" height="10.0" fill="#d8d8d0"/><rect x="255.0" y="486.0" width="10.0" height="10.0" fill="#80b8b0"/><rect x="265.0" y="486.0" width="10.0" height="10.0" fill="#b8dcd4"/><rect x="275.0" y="486.0" width="25.5" height="10.0" fill="#d4c8b0"/><rect x="166.9" y="496.0" width="23.1" height="10.0" fill="#c8c4b8"/><rect x="190.0" y="496.0" width="15.0" height="10.0" fill="#d0c8b8"/><rect x="205.0" y="496.0" width="15.0" height="10.0" fill="#dcdcd8"/><rect x="220.0" y="496.0" width="12.0" height="10.0" fill="#d0c4a8"/><rect x="232.0" y="496.0" width="18.0" height="10.0" fill="#d4d4cc"/><rect x="250.0" y="496.0" width="8.0" height="10.0" fill="#e4e4e0"/><rect x="258.0" y="496.0" width="10.0" height="10.0" fill="#b08050"/><rect x="268.0" y="496.0" width="12.0" height="10.0" fill="#c8e0dc"/><rect x="280.0" y="496.0" width="20.5" height="10.0" fill="#c8b898"/><rect x="166.9" y="506.0" width="33.1" height="10.0" fill="#c8c8c0"/><rect x="200.0" y="506.0" width="15.0" height="10.0" fill="#dcdcd8"/><rect x="215.0" y="506.0" width="13.0" height="10.0" fill="#b89868"/><rect x="228.0" y="506.0" width="4.0" height="10.0" fill="#c8c8c0"/><rect x="232.0" y="506.0" width="18.0" height="10.0" fill="#c8b898"/><rect x="250.0" y="506.0" width="15.0" height="10.0" fill="#e0e0dc"/><rect x="265.0" y="506.0" width="15.0" height="10.0" fill="#d0d0c8"/><rect x="280.0" y="506.0" width="20.5" height="10.0" fill="#b0aca0"/><rect x="166.9" y="516.0" width="43.1" height="20.8" fill="#b0b0a8"/><rect x="210.0" y="516.0" width="25.0" height="20.8" fill="#b8b0a0"/><rect x="235.0" y="516.0" width="35.0" height="20.8" fill="#b0a890"/><rect x="270.0" y="516.0" width="30.5" height="20.8" fill="#a8a498"/></g><g><ellipse cx="232.0" cy="461.0" rx="10.6" ry="6.5" fill="url(#g11)" opacity="0.80"/><ellipse cx="232.0" cy="460.0" rx="6.9" ry="4.0" fill="url(#g105)" opacity="0.80"/><ellipse cx="233.0" cy="463.5" rx="5.9" ry="1.8" fill="url(#g66)" opacity="0.60"/><ellipse cx="257.0" cy="485.0" rx="2.9" ry="16.4" fill="url(#g74)" opacity="0.50"/><ellipse cx="222.0" cy="480.0" rx="7.1" ry="4.7" fill="url(#g106)" opacity="0.50"/><ellipse cx="216.0" cy="482.0" rx="8.2" ry="4.7" fill="url(#g107)" opacity="0.60"/><ellipse cx="262.0" cy="480.0" rx="4.7" ry="10.6" fill="url(#g108)" opacity="0.60"/><ellipse cx="270.0" cy="486.0" rx="5.9" ry="8.2" fill="url(#g109)" opacity="0.60"/><ellipse cx="265.0" cy="500.0" rx="3.5" ry="4.1" fill="url(#g12)" opacity="0.80"/><ellipse cx="220.0" cy="470.0" rx="5.9" ry="3.5" fill="url(#g110)" opacity="0.60"/><ellipse cx="220.0" cy="512.0" rx="7.1" ry="4.7" fill="url(#g110)" opacity="0.50"/><ellipse cx="200.0" cy="480.0" rx="3.5" ry="3.5" fill="url(#g25)" opacity="0.60"/><circle cx="212.0" cy="509.7" r="1.2" fill="url(#g10)" opacity="0.34"/><circle cx="220.8" cy="520.1" r="1.6" fill="url(#g10)" opacity="0.43"/><circle cx="257.1" cy="491.7" r="2.2" fill="url(#g10)" opacity="0.38"/><circle cx="232.4" cy="462.4" r="1.4" fill="url(#g10)" opacity="0.27"/><circle cx="194.6" cy="483.2" r="2.0" fill="url(#g10)" opacity="0.47"/><circle cx="250.5" cy="513.5" r="2.2" fill="url(#g10)" opacity="0.25"/><circle cx="279.3" cy="487.0" r="1.7" fill="url(#g10)" opacity="0.28"/><circle cx="218.8" cy="510.5" r="2.6" fill="url(#g10)" opacity="0.44"/><circle cx="228.3" cy="492.9" r="2.3" fill="url(#g10)" opacity="0.44"/><circle cx="272.6" cy="513.6" r="1.1" fill="url(#g10)" opacity="0.29"/><circle cx="222.8" cy="478.4" r="2.3" fill="url(#g10)" opacity="0.29"/><circle cx="251.4" cy="467.3" r="2.3" fill="url(#g10)" opacity="0.46"/><circle cx="276.4" cy="471.0" r="2.3" fill="url(#g10)" opacity="0.31"/><circle cx="228.2" cy="457.2" r="1.4" fill="url(#g10)" opacity="0.53"/><circle cx="217.2" cy="482.2" r="1.4" fill="url(#g10)" opacity="0.26"/><circle cx="198.6" cy="476.6" r="2.2" fill="url(#g10)" opacity="0.46"/><circle cx="257.5" cy="472.2" r="2.5" fill="url(#g10)" opacity="0.49"/><circle cx="269.7" cy="497.8" r="1.3" fill="url(#g10)" opacity="0.53"/><circle cx="244.6" cy="487.1" r="2.1" fill="url(#g10)" opacity="0.48"/><circle cx="216.4" cy="457.0" r="2.1" fill="url(#g10)" opacity="0.29"/><circle cx="247.8" cy="497.1" r="2.2" fill="url(#g10)" opacity="0.49"/><circle cx="236.9" cy="461.1" r="2.4" fill="url(#g10)" opacity="0.44"/></g><rect x="174.9" y="445.8" width="117.6" height="83.0" filter="url(#bump)" opacity="0.60" style="mix-blend-mode:soft-light"/><path d="M176.9,487.3 C176.6,482.7 177.6,478.7 178.9,475.4 C180.2,472.1 182.0,470.1 184.8,467.5 C187.6,464.9 191.6,461.9 195.7,459.6 C199.8,457.3 204.9,455.5 209.5,453.7 C214.1,451.9 219.0,449.8 223.3,448.8 C227.6,447.8 230.9,447.5 235.2,447.8 C239.5,448.1 244.4,449.1 249.0,450.7 C253.6,452.3 258.5,455.2 262.8,457.7 C267.1,460.2 271.1,463.0 274.7,465.6 C278.3,468.2 282.1,470.9 284.6,473.5 C287.1,476.1 288.5,478.4 289.5,481.4 C290.5,484.3 290.7,487.6 290.5,491.2 C290.3,494.8 289.8,499.5 288.5,503.1 C287.2,506.7 285.2,510.2 282.6,513.0 C280.0,515.8 276.6,518.3 272.7,519.9 C268.8,521.5 263.5,522.0 258.9,522.8 C254.3,523.5 250.0,523.7 245.1,524.4 C240.2,525.1 234.1,526.4 229.3,526.8 C224.6,527.1 221.2,527.2 216.6,526.5 C212.0,525.8 206.1,524.7 201.6,522.8 C197.1,520.9 193.2,518.2 189.8,514.9 C186.4,511.6 183.1,507.7 180.9,503.1 C178.8,498.5 177.2,491.9 176.9,487.3Z" fill="none" stroke="#4a3818" stroke-width="2.0" opacity="0.30" filter="url(#b2)"/></g></g><path d="M176.9,487.3 C176.6,482.7 177.6,478.7 178.9,475.4 C180.2,472.1 182.0,470.1 184.8,467.5 C187.6,464.9 191.6,461.9 195.7,459.6 C199.8,457.3 204.9,455.5 209.5,453.7 C214.1,451.9 219.0,449.8 223.3,448.8 C227.6,447.8 230.9,447.5 235.2,447.8 C239.5,448.1 244.4,449.1 249.0,450.7 C253.6,452.3 258.5,455.2 262.8,457.7 C267.1,460.2 271.1,463.0 274.7,465.6 C278.3,468.2 282.1,470.9 284.6,473.5 C287.1,476.1 288.5,478.4 289.5,481.4 C290.5,484.3 290.7,487.6 290.5,491.2 C290.3,494.8 289.8,499.5 288.5,503.1 C287.2,506.7 285.2,510.2 282.6,513.0 C280.0,515.8 276.6,518.3 272.7,519.9 C268.8,521.5 263.5,522.0 258.9,522.8 C254.3,523.5 250.0,523.7 245.1,524.4 C240.2,525.1 234.1,526.4 229.3,526.8 C224.6,527.1 221.2,527.2 216.6,526.5 C212.0,525.8 206.1,524.7 201.6,522.8 C197.1,520.9 193.2,518.2 189.8,514.9 C186.4,511.6 183.1,507.7 180.9,503.1 C178.8,498.5 177.2,491.9 176.9,487.3Z" fill="none" stroke="#3a3020" stroke-width="0.5" opacity="0.35"/><g clip-path="url(#c11)"><g filter="url(#enh)"><path d="M338.3,497.3 C337.9,492.3 338.3,487.7 339.3,482.9 C340.3,478.1 342.3,472.5 344.5,468.4 C346.7,464.3 349.3,461.2 352.7,458.1 C356.1,455.0 360.6,452.1 365.1,449.8 C369.6,447.6 374.8,445.8 379.6,444.6 C384.4,443.4 389.2,442.6 394.0,442.6 C398.8,442.6 404.0,443.1 408.5,444.6 C413.0,446.2 417.1,449.0 420.9,451.9 C424.7,454.8 428.1,458.4 431.2,462.2 C434.3,466.0 437.2,470.5 439.5,474.6 C441.8,478.7 443.5,482.9 444.7,487.0 C445.9,491.1 446.6,495.6 446.7,499.4 C446.8,503.2 446.8,506.2 445.2,510.0 C443.6,513.8 440.4,518.9 437.4,522.1 C434.4,525.3 432.2,527.0 427.1,529.3 C422.0,531.6 413.2,534.4 407.0,536.0 C400.8,537.6 395.6,538.3 390.0,539.0 C384.4,539.7 378.8,541.1 373.2,540.2 C367.6,539.4 360.7,536.6 356.3,533.9 C351.9,531.2 349.5,527.5 347.0,524.0 C344.5,520.5 342.9,517.2 341.5,512.7 C340.1,508.3 338.7,502.3 338.3,497.3Z" fill="#c8b490"/><g filter="url(#gb11)"><rect x="328.3" y="432.6" width="46.7" height="19.4" fill="#a09070"/><rect x="375.0" y="432.6" width="15.0" height="19.4" fill="#70a8a0"/><rect x="390.0" y="432.6" width="15.0" height="19.4" fill="#3a9888"/><rect x="405.0" y="432.6" width="51.7" height="19.4" fill="#a89070"/><rect x="328.3" y="452.0" width="26.7" height="10.0" fill="#a89070"/><rect x="355.0" y="452.0" width="15.0" height="10.0" fill="#a89070"/><rect x="370.0" y="452.0" width="15.0" height="10.0" fill="#c8b090"/><rect x="385.0" y="452.0" width="9.0" height="10.0" fill="#4aa090"/><rect x="394.0" y="452.0" width="6.0" height="10.0" fill="#2a8878"/><rect x="400.0" y="452.0" width="10.0" height="10.0" fill="#80c0b4"/><rect x="410.0" y="452.0" width="15.0" height="10.0" fill="#c09860"/><rect x="425.0" y="452.0" width="31.7" height="10.0" fill="#a8a090"/><rect x="328.3" y="462.0" width="19.7" height="10.0" fill="#8a6a40"/><rect x="348.0" y="462.0" width="8.0" height="10.0" fill="#7a5020"/><rect x="356.0" y="462.0" width="12.0" height="10.0" fill="#dcc8a4"/><rect x="368.0" y="462.0" width="12.0" height="10.0" fill="#9a6a28"/><rect x="380.0" y="462.0" width="18.0" height="10.0" fill="#a0ccc4"/><rect x="398.0" y="462.0" width="7.0" height="10.0" fill="#5aa8a0"/><rect x="405.0" y="462.0" width="10.0" height="10.0" fill="#9a6a30"/><rect x="415.0" y="462.0" width="15.0" height="10.0" fill="#d8c098"/><rect x="430.0" y="462.0" width="26.7" height="10.0" fill="#a09070"/><rect x="328.3" y="472.0" width="13.7" height="12.0" fill="#a09070"/><rect x="342.0" y="472.0" width="8.0" height="12.0" fill="#a09070"/><rect x="350.0" y="472.0" width="12.0" height="12.0" fill="#c09858"/><rect x="362.0" y="472.0" width="13.0" height="12.0" fill="#d8c098"/><rect x="375.0" y="472.0" width="15.0" height="12.0" fill="#d8c8a8"/><rect x="390.0" y="472.0" width="10.0" height="12.0" fill="#dcc8a4"/><rect x="400.0" y="472.0" width="15.0" height="12.0" fill="#d0e0e0"/><rect x="415.0" y="472.0" width="13.0" height="12.0" fill="#dcc8a4"/><rect x="428.0" y="472.0" width="28.7" height="12.0" fill="#c09860"/><rect x="328.3" y="484.0" width="16.7" height="12.0" fill="#b8a888"/><rect x="345.0" y="484.0" width="10.0" height="12.0" fill="#c09858"/><rect x="355.0" y="484.0" width="15.0" height="12.0" fill="#d8c098"/><rect x="370.0" y="484.0" width="10.0" height="12.0" fill="#c09858"/><rect x="380.0" y="484.0" width="10.0" height="12.0" fill="#dcd0b8"/><rect x="390.0" y="484.0" width="15.0" height="12.0" fill="#b88c50"/><rect x="405.0" y="484.0" width="15.0" height="12.0" fill="#dcc8a4"/><rect x="420.0" y="484.0" width="12.0" height="12.0" fill="#d0c0a0"/><rect x="432.0" y="484.0" width="24.7" height="12.0" fill="#c09858"/><rect x="328.3" y="496.0" width="16.7" height="12.0" fill="#80a8a0"/><rect x="345.0" y="496.0" width="15.0" height="12.0" fill="#d8c098"/><rect x="360.0" y="496.0" width="15.0" height="12.0" fill="#c09860"/><rect x="375.0" y="496.0" width="15.0" height="12.0" fill="#e0d4bc"/><rect x="390.0" y="496.0" width="10.0" height="12.0" fill="#dcc8a4"/><rect x="400.0" y="496.0" width="12.0" height="12.0" fill="#e0d8c4"/><rect x="412.0" y="496.0" width="13.0" height="12.0" fill="#d8c8a8"/><rect x="425.0" y="496.0" width="31.7" height="12.0" fill="#c0b090"/><rect x="328.3" y="508.0" width="21.7" height="12.0" fill="#b8b4a8"/><rect x="350.0" y="508.0" width="15.0" height="12.0" fill="#dcc8a4"/><rect x="365.0" y="508.0" width="15.0" height="12.0" fill="#d0bc98"/><rect x="380.0" y="508.0" width="10.0" height="12.0" fill="#ddd4c0"/><rect x="390.0" y="508.0" width="10.0" height="12.0" fill="#b89060"/><rect x="400.0" y="508.0" width="15.0" height="12.0" fill="#9a7040"/><rect x="415.0" y="508.0" width="15.0" height="12.0" fill="#e0dcd0"/><rect x="430.0" y="508.0" width="26.7" height="12.0" fill="#b8b0a0"/><rect x="328.3" y="520.0" width="36.7" height="12.0" fill="#c8c4b8"/><rect x="365.0" y="520.0" width="25.0" height="12.0" fill="#c8b898"/><rect x="390.0" y="520.0" width="20.0" height="12.0" fill="#d8d0c0"/><rect x="410.0" y="520.0" width="20.0" height="12.0" fill="#d0d0c8"/><rect x="430.0" y="520.0" width="26.7" height="12.0" fill="#b0aca0"/><rect x="328.3" y="532.0" width="65.7" height="18.2" fill="#b0a898"/><rect x="394.0" y="532.0" width="62.7" height="18.2" fill="#b0a898"/></g><g><ellipse cx="395.0" cy="455.0" rx="9.4" ry="10.6" fill="url(#g61)" opacity="0.80"/><ellipse cx="397.0" cy="452.0" rx="4.7" ry="4.7" fill="url(#g81)" opacity="0.60"/><ellipse cx="403.0" cy="465.0" rx="4.7" ry="3.5" fill="url(#g111)" opacity="0.60"/><ellipse cx="373.0" cy="466.0" rx="5.9" ry="4.7" fill="url(#g60)" opacity="0.70"/><ellipse cx="410.0" cy="468.0" rx="3.5" ry="2.9" fill="url(#g60)" opacity="0.70"/><ellipse cx="352.0" cy="468.0" rx="3.5" ry="3.5" fill="url(#g66)" opacity="0.70"/><ellipse cx="373.0" cy="495.0" rx="4.7" ry="3.5" fill="url(#g12)" opacity="0.60"/><ellipse cx="410.0" cy="511.0" rx="4.1" ry="3.5" fill="url(#g12)" opacity="0.70"/><ellipse cx="360.0" cy="485.0" rx="5.9" ry="5.9" fill="url(#g28)" opacity="0.50"/><ellipse cx="405.0" cy="478.0" rx="7.1" ry="4.7" fill="url(#g112)" opacity="0.60"/><ellipse cx="385.0" cy="505.0" rx="9.4" ry="7.1" fill="url(#g113)" opacity="0.50"/><ellipse cx="420.0" cy="515.0" rx="7.1" ry="5.9" fill="url(#g103)" opacity="0.50"/><circle cx="386.7" cy="486.8" r="2.5" fill="url(#g10)" opacity="0.47"/><circle cx="382.3" cy="500.3" r="1.8" fill="url(#g10)" opacity="0.29"/><circle cx="383.5" cy="488.1" r="2.5" fill="url(#g10)" opacity="0.52"/><circle cx="365.1" cy="516.1" r="1.4" fill="url(#g10)" opacity="0.37"/><circle cx="345.9" cy="475.8" r="2.0" fill="url(#g10)" opacity="0.46"/><circle cx="403.4" cy="518.7" r="1.7" fill="url(#g10)" opacity="0.47"/><circle cx="357.9" cy="458.4" r="1.7" fill="url(#g10)" opacity="0.49"/><circle cx="365.4" cy="516.1" r="1.7" fill="url(#g10)" opacity="0.27"/><circle cx="366.8" cy="495.5" r="1.4" fill="url(#g10)" opacity="0.31"/><circle cx="435.7" cy="491.1" r="1.5" fill="url(#g10)" opacity="0.37"/><circle cx="358.5" cy="506.3" r="1.6" fill="url(#g10)" opacity="0.38"/><circle cx="353.3" cy="485.6" r="1.2" fill="url(#g10)" opacity="0.30"/><circle cx="405.9" cy="496.2" r="1.9" fill="url(#g10)" opacity="0.40"/><circle cx="407.7" cy="453.2" r="2.5" fill="url(#g10)" opacity="0.51"/><circle cx="343.1" cy="488.9" r="2.3" fill="url(#g10)" opacity="0.49"/><circle cx="365.1" cy="455.6" r="1.4" fill="url(#g10)" opacity="0.42"/><circle cx="409.9" cy="495.0" r="1.1" fill="url(#g10)" opacity="0.38"/><circle cx="377.1" cy="475.4" r="1.8" fill="url(#g10)" opacity="0.30"/><circle cx="346.9" cy="495.7" r="1.5" fill="url(#g10)" opacity="0.29"/><circle cx="354.3" cy="466.4" r="2.4" fill="url(#g10)" opacity="0.49"/><circle cx="392.8" cy="450.0" r="1.5" fill="url(#g10)" opacity="0.27"/><circle cx="371.1" cy="457.3" r="2.3" fill="url(#g10)" opacity="0.42"/></g><rect x="336.3" y="440.6" width="112.4" height="101.6" filter="url(#bump)" opacity="0.60" style="mix-blend-mode:soft-light"/><path d="M338.3,497.3 C337.9,492.3 338.3,487.7 339.3,482.9 C340.3,478.1 342.3,472.5 344.5,468.4 C346.7,464.3 349.3,461.2 352.7,458.1 C356.1,455.0 360.6,452.1 365.1,449.8 C369.6,447.6 374.8,445.8 379.6,444.6 C384.4,443.4 389.2,442.6 394.0,442.6 C398.8,442.6 404.0,443.1 408.5,444.6 C413.0,446.2 417.1,449.0 420.9,451.9 C424.7,454.8 428.1,458.4 431.2,462.2 C434.3,466.0 437.2,470.5 439.5,474.6 C441.8,478.7 443.5,482.9 444.7,487.0 C445.9,491.1 446.6,495.6 446.7,499.4 C446.8,503.2 446.8,506.2 445.2,510.0 C443.6,513.8 440.4,518.9 437.4,522.1 C434.4,525.3 432.2,527.0 427.1,529.3 C422.0,531.6 413.2,534.4 407.0,536.0 C400.8,537.6 395.6,538.3 390.0,539.0 C384.4,539.7 378.8,541.1 373.2,540.2 C367.6,539.4 360.7,536.6 356.3,533.9 C351.9,531.2 349.5,527.5 347.0,524.0 C344.5,520.5 342.9,517.2 341.5,512.7 C340.1,508.3 338.7,502.3 338.3,497.3Z" fill="none" stroke="#4a3818" stroke-width="2.0" opacity="0.30" filter="url(#b2)"/></g></g><path d="M338.3,497.3 C337.9,492.3 338.3,487.7 339.3,482.9 C340.3,478.1 342.3,472.5 344.5,468.4 C346.7,464.3 349.3,461.2 352.7,458.1 C356.1,455.0 360.6,452.1 365.1,449.8 C369.6,447.6 374.8,445.8 379.6,444.6 C384.4,443.4 389.2,442.6 394.0,442.6 C398.8,442.6 404.0,443.1 408.5,444.6 C413.0,446.2 417.1,449.0 420.9,451.9 C424.7,454.8 428.1,458.4 431.2,462.2 C434.3,466.0 437.2,470.5 439.5,474.6 C441.8,478.7 443.5,482.9 444.7,487.0 C445.9,491.1 446.6,495.6 446.7,499.4 C446.8,503.2 446.8,506.2 445.2,510.0 C443.6,513.8 440.4,518.9 437.4,522.1 C434.4,525.3 432.2,527.0 427.1,529.3 C422.0,531.6 413.2,534.4 407.0,536.0 C400.8,537.6 395.6,538.3 390.0,539.0 C384.4,539.7 378.8,541.1 373.2,540.2 C367.6,539.4 360.7,536.6 356.3,533.9 C351.9,531.2 349.5,527.5 347.0,524.0 C344.5,520.5 342.9,517.2 341.5,512.7 C340.1,508.3 338.7,502.3 338.3,497.3Z" fill="none" stroke="#3a3020" stroke-width="0.5" opacity="0.35"/>
<text x="66.7" y="11.6" font-family="Liberation Sans, sans-serif" font-size="15.6" fill="#231f20" textLength="20.4" lengthAdjust="spacingAndGlyphs">0<tspan font-size="9.5" dy="-6.3">o</tspan><tspan dy="6.3">E</tspan></text>
<text x="220.3" y="11.7" font-family="Liberation Sans, sans-serif" font-size="15.6" fill="#231f20" textLength="28.0" lengthAdjust="spacingAndGlyphs">90<tspan font-size="9.5" dy="-6.3">o</tspan><tspan dy="6.3">E</tspan></text>
<text x="376.1" y="11.7" font-family="Liberation Sans, sans-serif" font-size="15.6" fill="#231f20" textLength="30.6" lengthAdjust="spacingAndGlyphs">90<tspan font-size="9.5" dy="-6.3">o</tspan><tspan dy="6.3">N</tspan></text>
<text x="59.4" y="243.7" font-family="Liberation Sans, sans-serif" font-size="15.6" fill="#231f20" textLength="36.5" lengthAdjust="spacingAndGlyphs">180<tspan font-size="9.5" dy="-6.3">o</tspan><tspan dy="6.3">E</tspan></text>
<text x="215.7" y="243.5" font-family="Liberation Sans, sans-serif" font-size="15.6" fill="#231f20" textLength="37.3" lengthAdjust="spacingAndGlyphs">270<tspan font-size="9.5" dy="-6.3">o</tspan><tspan dy="6.3">E</tspan></text>
<text x="377.0" y="243.5" font-family="Liberation Sans, sans-serif" font-size="15.6" fill="#231f20" textLength="28.5" lengthAdjust="spacingAndGlyphs">90<tspan font-size="9.5" dy="-6.3">o</tspan><tspan dy="6.3">S</tspan></text>
<text x="67.0" y="325.0" font-family="Liberation Sans, sans-serif" font-size="15.6" fill="#231f20" textLength="20.5" lengthAdjust="spacingAndGlyphs">0<tspan font-size="9.5" dy="-6.3">o</tspan><tspan dy="6.3">E</tspan></text>
<text x="220.2" y="325.0" font-family="Liberation Sans, sans-serif" font-size="15.6" fill="#231f20" textLength="28.5" lengthAdjust="spacingAndGlyphs">90<tspan font-size="9.5" dy="-6.3">o</tspan><tspan dy="6.3">E</tspan></text>
<text x="376.0" y="325.0" font-family="Liberation Sans, sans-serif" font-size="15.6" fill="#231f20" textLength="30.9" lengthAdjust="spacingAndGlyphs">90<tspan font-size="9.5" dy="-6.3">o</tspan><tspan dy="6.3">N</tspan></text>
<text x="59.4" y="556.6" font-family="Liberation Sans, sans-serif" font-size="15.6" fill="#231f20" textLength="36.8" lengthAdjust="spacingAndGlyphs">180<tspan font-size="9.5" dy="-6.3">o</tspan><tspan dy="6.3">E</tspan></text>
<text x="216.3" y="556.6" font-family="Liberation Sans, sans-serif" font-size="15.6" fill="#231f20" textLength="36.3" lengthAdjust="spacingAndGlyphs">270<tspan font-size="9.5" dy="-6.3">o</tspan><tspan dy="6.3">E</tspan></text>
<text x="377.2" y="556.6" font-family="Liberation Sans, sans-serif" font-size="15.6" fill="#231f20" textLength="27.8" lengthAdjust="spacingAndGlyphs">90<tspan font-size="9.5" dy="-6.3">o</tspan><tspan dy="6.3">S</tspan></text>
<text transform="translate(10.6,223.2) rotate(-90)" font-family="Liberation Sans, sans-serif" font-size="15" fill="#231f20" textLength="202.6" lengthAdjust="spacingAndGlyphs">Ernst et al. 2023 – Gaskell 2011</text>
<text transform="translate(10.6,553.8) rotate(-90)" font-family="Liberation Sans, sans-serif" font-size="15" fill="#231f20" textLength="238.4" lengthAdjust="spacingAndGlyphs">Ernst et al. 2023 – Willner et al. 2014</text>
<rect x="97.20" y="256.0" width="8.72" height="16.0" fill="#5d3506"/>
<rect x="105.62" y="256.0" width="8.72" height="16.0" fill="#6e3f07"/>
<rect x="114.04" y="256.0" width="8.72" height="16.0" fill="#804a09"/>
<rect x="122.47" y="256.0" width="8.72" height="16.0" fill="#91560d"/>
<rect x="130.89" y="256.0" width="8.72" height="16.0" fill="#a16418"/>
<rect x="139.31" y="256.0" width="8.72" height="16.0" fill="#b17423"/>
<rect x="147.73" y="256.0" width="8.72" height="16.0" fill="#c08330"/>
<rect x="156.15" y="256.0" width="8.72" height="16.0" fill="#ca9748"/>
<rect x="164.57" y="256.0" width="8.72" height="16.0" fill="#d4ac62"/>
<rect x="173.00" y="256.0" width="8.72" height="16.0" fill="#dec07a"/>
<rect x="181.42" y="256.0" width="8.72" height="16.0" fill="#e5cd91"/>
<rect x="189.84" y="256.0" width="8.72" height="16.0" fill="#edd9a7"/>
<rect x="198.26" y="256.0" width="8.72" height="16.0" fill="#f4e4bc"/>
<rect x="206.68" y="256.0" width="8.72" height="16.0" fill="#f6ebce"/>
<rect x="215.11" y="256.0" width="8.72" height="16.0" fill="#f5efde"/>
<rect x="223.53" y="256.0" width="8.72" height="16.0" fill="#f5f3ed"/>
<rect x="231.95" y="256.0" width="8.72" height="16.0" fill="#eef3f2"/>
<rect x="240.37" y="256.0" width="8.72" height="16.0" fill="#dff0ee"/>
<rect x="248.79" y="256.0" width="8.72" height="16.0" fill="#d1ece8"/>
<rect x="257.22" y="256.0" width="8.72" height="16.0" fill="#c0e7e2"/>
<rect x="265.64" y="256.0" width="8.72" height="16.0" fill="#aaded6"/>
<rect x="274.06" y="256.0" width="8.72" height="16.0" fill="#94d5cb"/>
<rect x="282.48" y="256.0" width="8.72" height="16.0" fill="#7ecbbf"/>
<rect x="290.90" y="256.0" width="8.72" height="16.0" fill="#66bab0"/>
<rect x="299.32" y="256.0" width="8.72" height="16.0" fill="#4faaa0"/>
<rect x="307.75" y="256.0" width="8.72" height="16.0" fill="#379991"/>
<rect x="316.17" y="256.0" width="8.72" height="16.0" fill="#268981"/>
<rect x="324.59" y="256.0" width="8.72" height="16.0" fill="#167a72"/>
<rect x="333.01" y="256.0" width="8.72" height="16.0" fill="#066b63"/>
<rect x="341.43" y="256.0" width="8.72" height="16.0" fill="#015d54"/>
<rect x="349.86" y="256.0" width="8.72" height="16.0" fill="#005046"/>
<rect x="358.28" y="256.0" width="8.72" height="16.0" fill="#004337"/>
<text x="95.4" y="283.9" font-family="Liberation Sans, sans-serif" font-size="11.3" fill="#231f20" text-anchor="middle">-150</text>
<text x="122.4" y="283.9" font-family="Liberation Sans, sans-serif" font-size="11.3" fill="#231f20" text-anchor="middle">-120</text>
<text x="149.3" y="283.9" font-family="Liberation Sans, sans-serif" font-size="11.3" fill="#231f20" text-anchor="middle">-90</text>
<text x="176.2" y="283.9" font-family="Liberation Sans, sans-serif" font-size="11.3" fill="#231f20" text-anchor="middle">-60</text>
<text x="203.2" y="283.9" font-family="Liberation Sans, sans-serif" font-size="11.3" fill="#231f20" text-anchor="middle">-30</text>
<text x="231.9" y="283.9" font-family="Liberation Sans, sans-serif" font-size="11.3" fill="#231f20" text-anchor="middle">0</text>
<text x="258.9" y="283.9" font-family="Liberation Sans, sans-serif" font-size="11.3" fill="#231f20" text-anchor="middle">30</text>
<text x="285.8" y="283.9" font-family="Liberation Sans, sans-serif" font-size="11.3" fill="#231f20" text-anchor="middle">60</text>
<text x="312.8" y="283.9" font-family="Liberation Sans, sans-serif" font-size="11.3" fill="#231f20" text-anchor="middle">90</text>
<text x="339.8" y="283.9" font-family="Liberation Sans, sans-serif" font-size="11.3" fill="#231f20" text-anchor="middle">120</text>
<text x="366.7" y="283.9" font-family="Liberation Sans, sans-serif" font-size="11.3" fill="#231f20" text-anchor="middle">150</text>
<text x="187.2" y="301.4" font-family="Liberation Sans, sans-serif" font-size="14" fill="#231f20" textLength="94.3" lengthAdjust="spacingAndGlyphs">Difference (m)</text>
<g fill="#00a99d" stroke="#1d5550" stroke-width="0.45"><rect x="532.95" y="177.19" width="2.30" height="0.31"/><rect x="535.25" y="176.92" width="2.30" height="0.58"/><rect x="537.56" y="176.65" width="2.30" height="0.85"/><rect x="539.86" y="175.83" width="2.30" height="1.67"/><rect x="542.16" y="174.32" width="2.30" height="3.18"/><rect x="544.47" y="172.58" width="2.30" height="4.92"/><rect x="546.77" y="170.06" width="2.30" height="7.44"/><rect x="549.08" y="167.14" width="2.30" height="10.36"/><rect x="551.38" y="163.99" width="2.30" height="13.51"/><rect x="553.68" y="154.68" width="2.30" height="22.82"/><rect x="555.99" y="146.75" width="2.30" height="30.75"/><rect x="558.29" y="135.39" width="2.30" height="42.11"/><rect x="560.60" y="123.30" width="2.30" height="54.20"/><rect x="562.90" y="110.27" width="2.30" height="67.23"/><rect x="565.20" y="99.60" width="2.30" height="77.90"/><rect x="567.51" y="86.12" width="2.30" height="91.38"/><rect x="569.81" y="75.70" width="2.30" height="101.80"/><rect x="572.12" y="65.80" width="2.30" height="111.70"/><rect x="574.42" y="61.56" width="2.30" height="115.94"/><rect x="576.72" y="62.01" width="2.30" height="115.49"/><rect x="579.03" y="63.37" width="2.30" height="114.13"/><rect x="581.33" y="58.43" width="2.30" height="119.07"/><rect x="583.64" y="65.25" width="2.30" height="112.25"/><rect x="585.94" y="74.72" width="2.30" height="102.78"/><rect x="588.24" y="83.81" width="2.30" height="93.69"/><rect x="590.55" y="95.91" width="2.30" height="81.59"/><rect x="592.85" y="110.24" width="2.30" height="67.26"/><rect x="595.16" y="126.68" width="2.30" height="50.82"/><rect x="597.46" y="137.61" width="2.30" height="39.89"/><rect x="599.76" y="143.94" width="2.30" height="33.56"/><rect x="602.07" y="149.27" width="2.30" height="28.23"/><rect x="604.37" y="154.51" width="2.30" height="22.99"/><rect x="606.68" y="159.67" width="2.30" height="17.83"/><rect x="608.98" y="164.38" width="2.30" height="13.12"/><rect x="611.28" y="168.89" width="2.30" height="8.61"/><rect x="613.59" y="170.70" width="2.30" height="6.80"/><rect x="615.89" y="171.64" width="2.30" height="5.86"/><rect x="618.20" y="172.03" width="2.30" height="5.47"/><rect x="620.50" y="172.35" width="2.30" height="5.15"/><rect x="622.80" y="172.88" width="2.30" height="4.62"/><rect x="625.11" y="173.61" width="2.30" height="3.89"/><rect x="627.41" y="174.59" width="2.30" height="2.91"/><rect x="629.72" y="175.38" width="2.30" height="2.12"/><rect x="632.02" y="176.05" width="2.30" height="1.45"/><rect x="634.32" y="176.42" width="2.30" height="1.08"/><rect x="636.63" y="176.56" width="2.30" height="0.94"/><rect x="638.93" y="176.70" width="2.30" height="0.80"/><rect x="641.24" y="176.84" width="2.30" height="0.66"/><rect x="643.54" y="176.98" width="2.30" height="0.52"/><rect x="645.84" y="177.04" width="2.30" height="0.46"/><rect x="648.15" y="177.09" width="2.30" height="0.41"/><rect x="650.45" y="177.13" width="2.30" height="0.37"/><rect x="652.76" y="177.18" width="2.30" height="0.32"/><rect x="655.06" y="177.22" width="2.30" height="0.28"/><rect x="657.36" y="177.27" width="2.30" height="0.23"/><rect x="659.67" y="177.32" width="2.30" height="0.18"/></g>
<rect x="505.3" y="44.6" width="172.8" height="132.9" fill="none" stroke="#555" stroke-width="0.8"/>
<line x1="503.3" x2="505.3" y1="177.5" y2="177.5" stroke="#555" stroke-width="0.6"/>
<text x="498.8" y="180.3" font-family="Liberation Sans, sans-serif" font-size="7.2" fill="#222" text-anchor="end">0.0x10<tspan font-size="5.6" dy="-3.4">0</tspan></text>
<line x1="503.3" x2="505.3" y1="162.7" y2="162.7" stroke="#555" stroke-width="0.6"/>
<text x="498.8" y="165.5" font-family="Liberation Sans, sans-serif" font-size="7.2" fill="#222" text-anchor="end">1.0x10<tspan font-size="5.6" dy="-3.4">5</tspan></text>
<line x1="503.3" x2="505.3" y1="148.0" y2="148.0" stroke="#555" stroke-width="0.6"/>
<text x="498.8" y="150.8" font-family="Liberation Sans, sans-serif" font-size="7.2" fill="#222" text-anchor="end">2.0x10<tspan font-size="5.6" dy="-3.4">5</tspan></text>
<line x1="503.3" x2="505.3" y1="133.2" y2="133.2" stroke="#555" stroke-width="0.6"/>
<text x="498.8" y="136.0" font-family="Liberation Sans, sans-serif" font-size="7.2" fill="#222" text-anchor="end">3.0x10<tspan font-size="5.6" dy="-3.4">5</tspan></text>
<line x1="503.3" x2="505.3" y1="118.4" y2="118.4" stroke="#555" stroke-width="0.6"/>
<text x="498.8" y="121.2" font-family="Liberation Sans, sans-serif" font-size="7.2" fill="#222" text-anchor="end">4.0x10<tspan font-size="5.6" dy="-3.4">5</tspan></text>
<line x1="503.3" x2="505.3" y1="103.7" y2="103.7" stroke="#555" stroke-width="0.6"/>
<text x="498.8" y="106.5" font-family="Liberation Sans, sans-serif" font-size="7.2" fill="#222" text-anchor="end">5.0x10<tspan font-size="5.6" dy="-3.4">5</tspan></text>
<line x1="503.3" x2="505.3" y1="88.9" y2="88.9" stroke="#555" stroke-width="0.6"/>
<text x="498.8" y="91.7" font-family="Liberation Sans, sans-serif" font-size="7.2" fill="#222" text-anchor="end">6.0x10<tspan font-size="5.6" dy="-3.4">5</tspan></text>
<line x1="503.3" x2="505.3" y1="74.1" y2="74.1" stroke="#555" stroke-width="0.6"/>
<text x="498.8" y="76.9" font-family="Liberation Sans, sans-serif" font-size="7.2" fill="#222" text-anchor="end">7.0x10<tspan font-size="5.6" dy="-3.4">5</tspan></text>
<line x1="503.3" x2="505.3" y1="59.4" y2="59.4" stroke="#555" stroke-width="0.6"/>
<text x="498.8" y="62.2" font-family="Liberation Sans, sans-serif" font-size="7.2" fill="#222" text-anchor="end">8.0x10<tspan font-size="5.6" dy="-3.4">5</tspan></text>
<line x1="503.3" x2="505.3" y1="44.6" y2="44.6" stroke="#555" stroke-width="0.6"/>
<text x="498.8" y="47.4" font-family="Liberation Sans, sans-serif" font-size="7.2" fill="#222" text-anchor="end">9.0x10<tspan font-size="5.6" dy="-3.4">5</tspan></text>
<line x1="505.3" x2="505.3" y1="177.5" y2="179.5" stroke="#555" stroke-width="0.6"/>
<text x="505.3" y="189.8" font-family="Liberation Sans, sans-serif" font-size="7" fill="#222" text-anchor="middle">-300</text>
<line x1="534.1" x2="534.1" y1="177.5" y2="179.5" stroke="#555" stroke-width="0.6"/>
<text x="534.1" y="189.8" font-family="Liberation Sans, sans-serif" font-size="7" fill="#222" text-anchor="middle">-200</text>
<line x1="562.9" x2="562.9" y1="177.5" y2="179.5" stroke="#555" stroke-width="0.6"/>
<text x="562.9" y="189.8" font-family="Liberation Sans, sans-serif" font-size="7" fill="#222" text-anchor="middle">-100</text>
<line x1="591.7" x2="591.7" y1="177.5" y2="179.5" stroke="#555" stroke-width="0.6"/>
<text x="591.7" y="189.8" font-family="Liberation Sans, sans-serif" font-size="7" fill="#222" text-anchor="middle">0</text>
<line x1="620.5" x2="620.5" y1="177.5" y2="179.5" stroke="#555" stroke-width="0.6"/>
<text x="620.5" y="189.8" font-family="Liberation Sans, sans-serif" font-size="7" fill="#222" text-anchor="middle">100</text>
<line x1="649.3" x2="649.3" y1="177.5" y2="179.5" stroke="#555" stroke-width="0.6"/>
<text x="649.3" y="189.8" font-family="Liberation Sans, sans-serif" font-size="7" fill="#222" text-anchor="middle">200</text>
<line x1="678.1" x2="678.1" y1="177.5" y2="179.5" stroke="#555" stroke-width="0.6"/>
<text x="678.1" y="189.8" font-family="Liberation Sans, sans-serif" font-size="7" fill="#222" text-anchor="middle">300</text>
<text x="559" y="201.5" font-family="Liberation Sans, sans-serif" font-size="10" fill="#222" textLength="65.7" lengthAdjust="spacingAndGlyphs">Difference (m)</text>
<text transform="translate(465,111.5) rotate(-90)" font-family="Liberation Sans, sans-serif" font-size="10" fill="#222" text-anchor="middle">Number</text>
<text x="610" y="54.3" font-family="Liberation Sans, sans-serif" font-size="8.4" fill="#231f20">Median = -41.7 m</text>
<text x="610" y="65.3" font-family="Liberation Sans, sans-serif" font-size="8.4" fill="#231f20">Mean = -39.5 m</text>
<text x="610" y="76.3" font-family="Liberation Sans, sans-serif" font-size="8.4" fill="#231f20">Stdev = 58.7 m</text>
<text x="610" y="87.3" font-family="Liberation Sans, sans-serif" font-size="8.4" fill="#231f20">RMS = 70.7 m</text>
<g fill="#00a99d" stroke="#1d5550" stroke-width="0.45"><rect x="524.31" y="491.20" width="1.73" height="0.30"/><rect x="526.04" y="491.15" width="1.73" height="0.35"/><rect x="527.76" y="491.10" width="1.73" height="0.40"/><rect x="529.49" y="491.06" width="1.73" height="0.44"/><rect x="531.22" y="491.01" width="1.73" height="0.49"/><rect x="532.95" y="490.97" width="1.73" height="0.53"/><rect x="534.68" y="490.92" width="1.73" height="0.58"/><rect x="536.40" y="490.87" width="1.73" height="0.63"/><rect x="538.13" y="490.83" width="1.73" height="0.67"/><rect x="539.86" y="490.73" width="1.73" height="0.77"/><rect x="541.59" y="490.55" width="1.73" height="0.95"/><rect x="543.32" y="490.38" width="1.73" height="1.12"/><rect x="545.04" y="490.06" width="1.73" height="1.44"/><rect x="546.77" y="489.61" width="1.73" height="1.89"/><rect x="548.50" y="489.17" width="1.73" height="2.33"/><rect x="550.23" y="488.02" width="1.73" height="3.48"/><rect x="551.96" y="486.46" width="1.73" height="5.04"/><rect x="553.68" y="483.17" width="1.73" height="8.33"/><rect x="555.41" y="481.21" width="1.73" height="10.29"/><rect x="557.14" y="477.59" width="1.73" height="13.91"/><rect x="558.87" y="472.76" width="1.73" height="18.74"/><rect x="560.60" y="468.38" width="1.73" height="23.12"/><rect x="562.32" y="462.77" width="1.73" height="28.73"/><rect x="564.05" y="458.06" width="1.73" height="33.44"/><rect x="565.78" y="451.68" width="1.73" height="39.82"/><rect x="567.51" y="442.37" width="1.73" height="49.13"/><rect x="569.24" y="431.08" width="1.73" height="60.42"/><rect x="570.96" y="419.36" width="1.73" height="72.14"/><rect x="572.69" y="406.93" width="1.73" height="84.57"/><rect x="574.42" y="394.86" width="1.73" height="96.64"/><rect x="576.15" y="382.66" width="1.73" height="108.84"/><rect x="577.88" y="371.88" width="1.73" height="119.62"/><rect x="579.60" y="366.31" width="1.73" height="125.19"/><rect x="581.33" y="366.14" width="1.73" height="125.36"/><rect x="583.06" y="369.82" width="1.73" height="121.68"/><rect x="584.79" y="376.61" width="1.73" height="114.89"/><rect x="586.52" y="387.47" width="1.73" height="104.03"/><rect x="588.24" y="399.60" width="1.73" height="91.90"/><rect x="589.97" y="414.53" width="1.73" height="76.97"/><rect x="591.70" y="427.30" width="1.73" height="64.20"/><rect x="593.43" y="436.46" width="1.73" height="55.04"/><rect x="595.16" y="445.28" width="1.73" height="46.22"/><rect x="596.88" y="453.17" width="1.73" height="38.33"/><rect x="598.61" y="459.60" width="1.73" height="31.90"/><rect x="600.34" y="464.91" width="1.73" height="26.59"/><rect x="602.07" y="467.73" width="1.73" height="23.77"/><rect x="603.80" y="469.89" width="1.73" height="21.61"/><rect x="605.52" y="471.30" width="1.73" height="20.20"/><rect x="607.25" y="472.21" width="1.73" height="19.29"/><rect x="608.98" y="473.44" width="1.73" height="18.06"/><rect x="610.71" y="475.17" width="1.73" height="16.33"/><rect x="612.44" y="477.50" width="1.73" height="14.00"/><rect x="614.16" y="480.76" width="1.73" height="10.74"/><rect x="615.89" y="483.29" width="1.73" height="8.21"/><rect x="617.62" y="484.92" width="1.73" height="6.58"/><rect x="619.35" y="485.98" width="1.73" height="5.52"/><rect x="621.08" y="486.79" width="1.73" height="4.71"/><rect x="622.80" y="487.73" width="1.73" height="3.77"/><rect x="624.53" y="488.37" width="1.73" height="3.13"/><rect x="626.26" y="488.91" width="1.73" height="2.59"/><rect x="627.99" y="489.37" width="1.73" height="2.13"/><rect x="629.72" y="489.72" width="1.73" height="1.78"/><rect x="631.44" y="490.02" width="1.73" height="1.48"/><rect x="633.17" y="490.10" width="1.73" height="1.40"/><rect x="634.90" y="490.19" width="1.73" height="1.31"/><rect x="636.63" y="490.27" width="1.73" height="1.23"/><rect x="638.36" y="490.36" width="1.73" height="1.14"/><rect x="640.08" y="490.43" width="1.73" height="1.07"/><rect x="641.81" y="490.49" width="1.73" height="1.01"/><rect x="643.54" y="490.55" width="1.73" height="0.95"/><rect x="645.27" y="490.60" width="1.73" height="0.90"/><rect x="647.00" y="490.66" width="1.73" height="0.84"/><rect x="648.72" y="490.72" width="1.73" height="0.78"/><rect x="650.45" y="490.78" width="1.73" height="0.72"/><rect x="652.18" y="490.83" width="1.73" height="0.67"/><rect x="653.91" y="490.89" width="1.73" height="0.61"/><rect x="655.64" y="490.94" width="1.73" height="0.56"/><rect x="657.36" y="491.00" width="1.73" height="0.50"/><rect x="659.09" y="491.05" width="1.73" height="0.45"/><rect x="660.82" y="491.10" width="1.73" height="0.40"/><rect x="662.55" y="491.15" width="1.73" height="0.35"/></g>
<rect x="505.3" y="358.5" width="172.8" height="133.0" fill="none" stroke="#555" stroke-width="0.8"/>
<line x1="503.3" x2="505.3" y1="491.5" y2="491.5" stroke="#555" stroke-width="0.6"/>
<text x="498.8" y="494.3" font-family="Liberation Sans, sans-serif" font-size="7.2" fill="#222" text-anchor="end">0.0x10<tspan font-size="5.6" dy="-3.4">0</tspan></text>
<line x1="503.3" x2="505.3" y1="474.9" y2="474.9" stroke="#555" stroke-width="0.6"/>
<text x="498.8" y="477.7" font-family="Liberation Sans, sans-serif" font-size="7.2" fill="#222" text-anchor="end">1.0x10<tspan font-size="5.6" dy="-3.4">5</tspan></text>
<line x1="503.3" x2="505.3" y1="458.2" y2="458.2" stroke="#555" stroke-width="0.6"/>
<text x="498.8" y="461.1" font-family="Liberation Sans, sans-serif" font-size="7.2" fill="#222" text-anchor="end">2.0x10<tspan font-size="5.6" dy="-3.4">5</tspan></text>
<line x1="503.3" x2="505.3" y1="441.6" y2="441.6" stroke="#555" stroke-width="0.6"/>
<text x="498.8" y="444.4" font-family="Liberation Sans, sans-serif" font-size="7.2" fill="#222" text-anchor="end">3.0x10<tspan font-size="5.6" dy="-3.4">5</tspan></text>
<line x1="503.3" x2="505.3" y1="425.0" y2="425.0" stroke="#555" stroke-width="0.6"/>
<text x="498.8" y="427.8" font-family="Liberation Sans, sans-serif" font-size="7.2" fill="#222" text-anchor="end">4.0x10<tspan font-size="5.6" dy="-3.4">5</tspan></text>
<line x1="503.3" x2="505.3" y1="408.4" y2="408.4" stroke="#555" stroke-width="0.6"/>
<text x="498.8" y="411.2" font-family="Liberation Sans, sans-serif" font-size="7.2" fill="#222" text-anchor="end">5.0x10<tspan font-size="5.6" dy="-3.4">5</tspan></text>
<line x1="503.3" x2="505.3" y1="391.8" y2="391.8" stroke="#555" stroke-width="0.6"/>
<text x="498.8" y="394.6" font-family="Liberation Sans, sans-serif" font-size="7.2" fill="#222" text-anchor="end">6.0x10<tspan font-size="5.6" dy="-3.4">5</tspan></text>
<line x1="503.3" x2="505.3" y1="375.1" y2="375.1" stroke="#555" stroke-width="0.6"/>
<text x="498.8" y="377.9" font-family="Liberation Sans, sans-serif" font-size="7.2" fill="#222" text-anchor="end">7.0x10<tspan font-size="5.6" dy="-3.4">5</tspan></text>
<line x1="503.3" x2="505.3" y1="358.5" y2="358.5" stroke="#555" stroke-width="0.6"/>
<text x="498.8" y="361.3" font-family="Liberation Sans, sans-serif" font-size="7.2" fill="#222" text-anchor="end">8.0x10<tspan font-size="5.6" dy="-3.4">5</tspan></text>
<line x1="505.3" x2="505.3" y1="491.5" y2="493.5" stroke="#555" stroke-width="0.6"/>
<text x="505.3" y="503.8" font-family="Liberation Sans, sans-serif" font-size="7" fill="#222" text-anchor="middle">-300</text>
<line x1="534.1" x2="534.1" y1="491.5" y2="493.5" stroke="#555" stroke-width="0.6"/>
<text x="534.1" y="503.8" font-family="Liberation Sans, sans-serif" font-size="7" fill="#222" text-anchor="middle">-200</text>
<line x1="562.9" x2="562.9" y1="491.5" y2="493.5" stroke="#555" stroke-width="0.6"/>
<text x="562.9" y="503.8" font-family="Liberation Sans, sans-serif" font-size="7" fill="#222" text-anchor="middle">-100</text>
<line x1="591.7" x2="591.7" y1="491.5" y2="493.5" stroke="#555" stroke-width="0.6"/>
<text x="591.7" y="503.8" font-family="Liberation Sans, sans-serif" font-size="7" fill="#222" text-anchor="middle">0</text>
<line x1="620.5" x2="620.5" y1="491.5" y2="493.5" stroke="#555" stroke-width="0.6"/>
<text x="620.5" y="503.8" font-family="Liberation Sans, sans-serif" font-size="7" fill="#222" text-anchor="middle">100</text>
<line x1="649.3" x2="649.3" y1="491.5" y2="493.5" stroke="#555" stroke-width="0.6"/>
<text x="649.3" y="503.8" font-family="Liberation Sans, sans-serif" font-size="7" fill="#222" text-anchor="middle">200</text>
<line x1="678.1" x2="678.1" y1="491.5" y2="493.5" stroke="#555" stroke-width="0.6"/>
<text x="678.1" y="503.8" font-family="Liberation Sans, sans-serif" font-size="7" fill="#222" text-anchor="middle">300</text>
<text x="559" y="515.5" font-family="Liberation Sans, sans-serif" font-size="10" fill="#222" textLength="65.7" lengthAdjust="spacingAndGlyphs">Difference (m)</text>
<text transform="translate(465,425.5) rotate(-90)" font-family="Liberation Sans, sans-serif" font-size="10" fill="#222" text-anchor="middle">Number</text>
<text x="610" y="368.2" font-family="Liberation Sans, sans-serif" font-size="8.4" fill="#231f20">Median = -33.2 m</text>
<text x="610" y="379.2" font-family="Liberation Sans, sans-serif" font-size="8.4" fill="#231f20">Mean = -29.3 m</text>
<text x="610" y="390.2" font-family="Liberation Sans, sans-serif" font-size="8.4" fill="#231f20">Stdev = 50.1 m</text>
<text x="610" y="401.2" font-family="Liberation Sans, sans-serif" font-size="8.4" fill="#231f20">RMS = 58.0 m</text>
</svg></body></html>
